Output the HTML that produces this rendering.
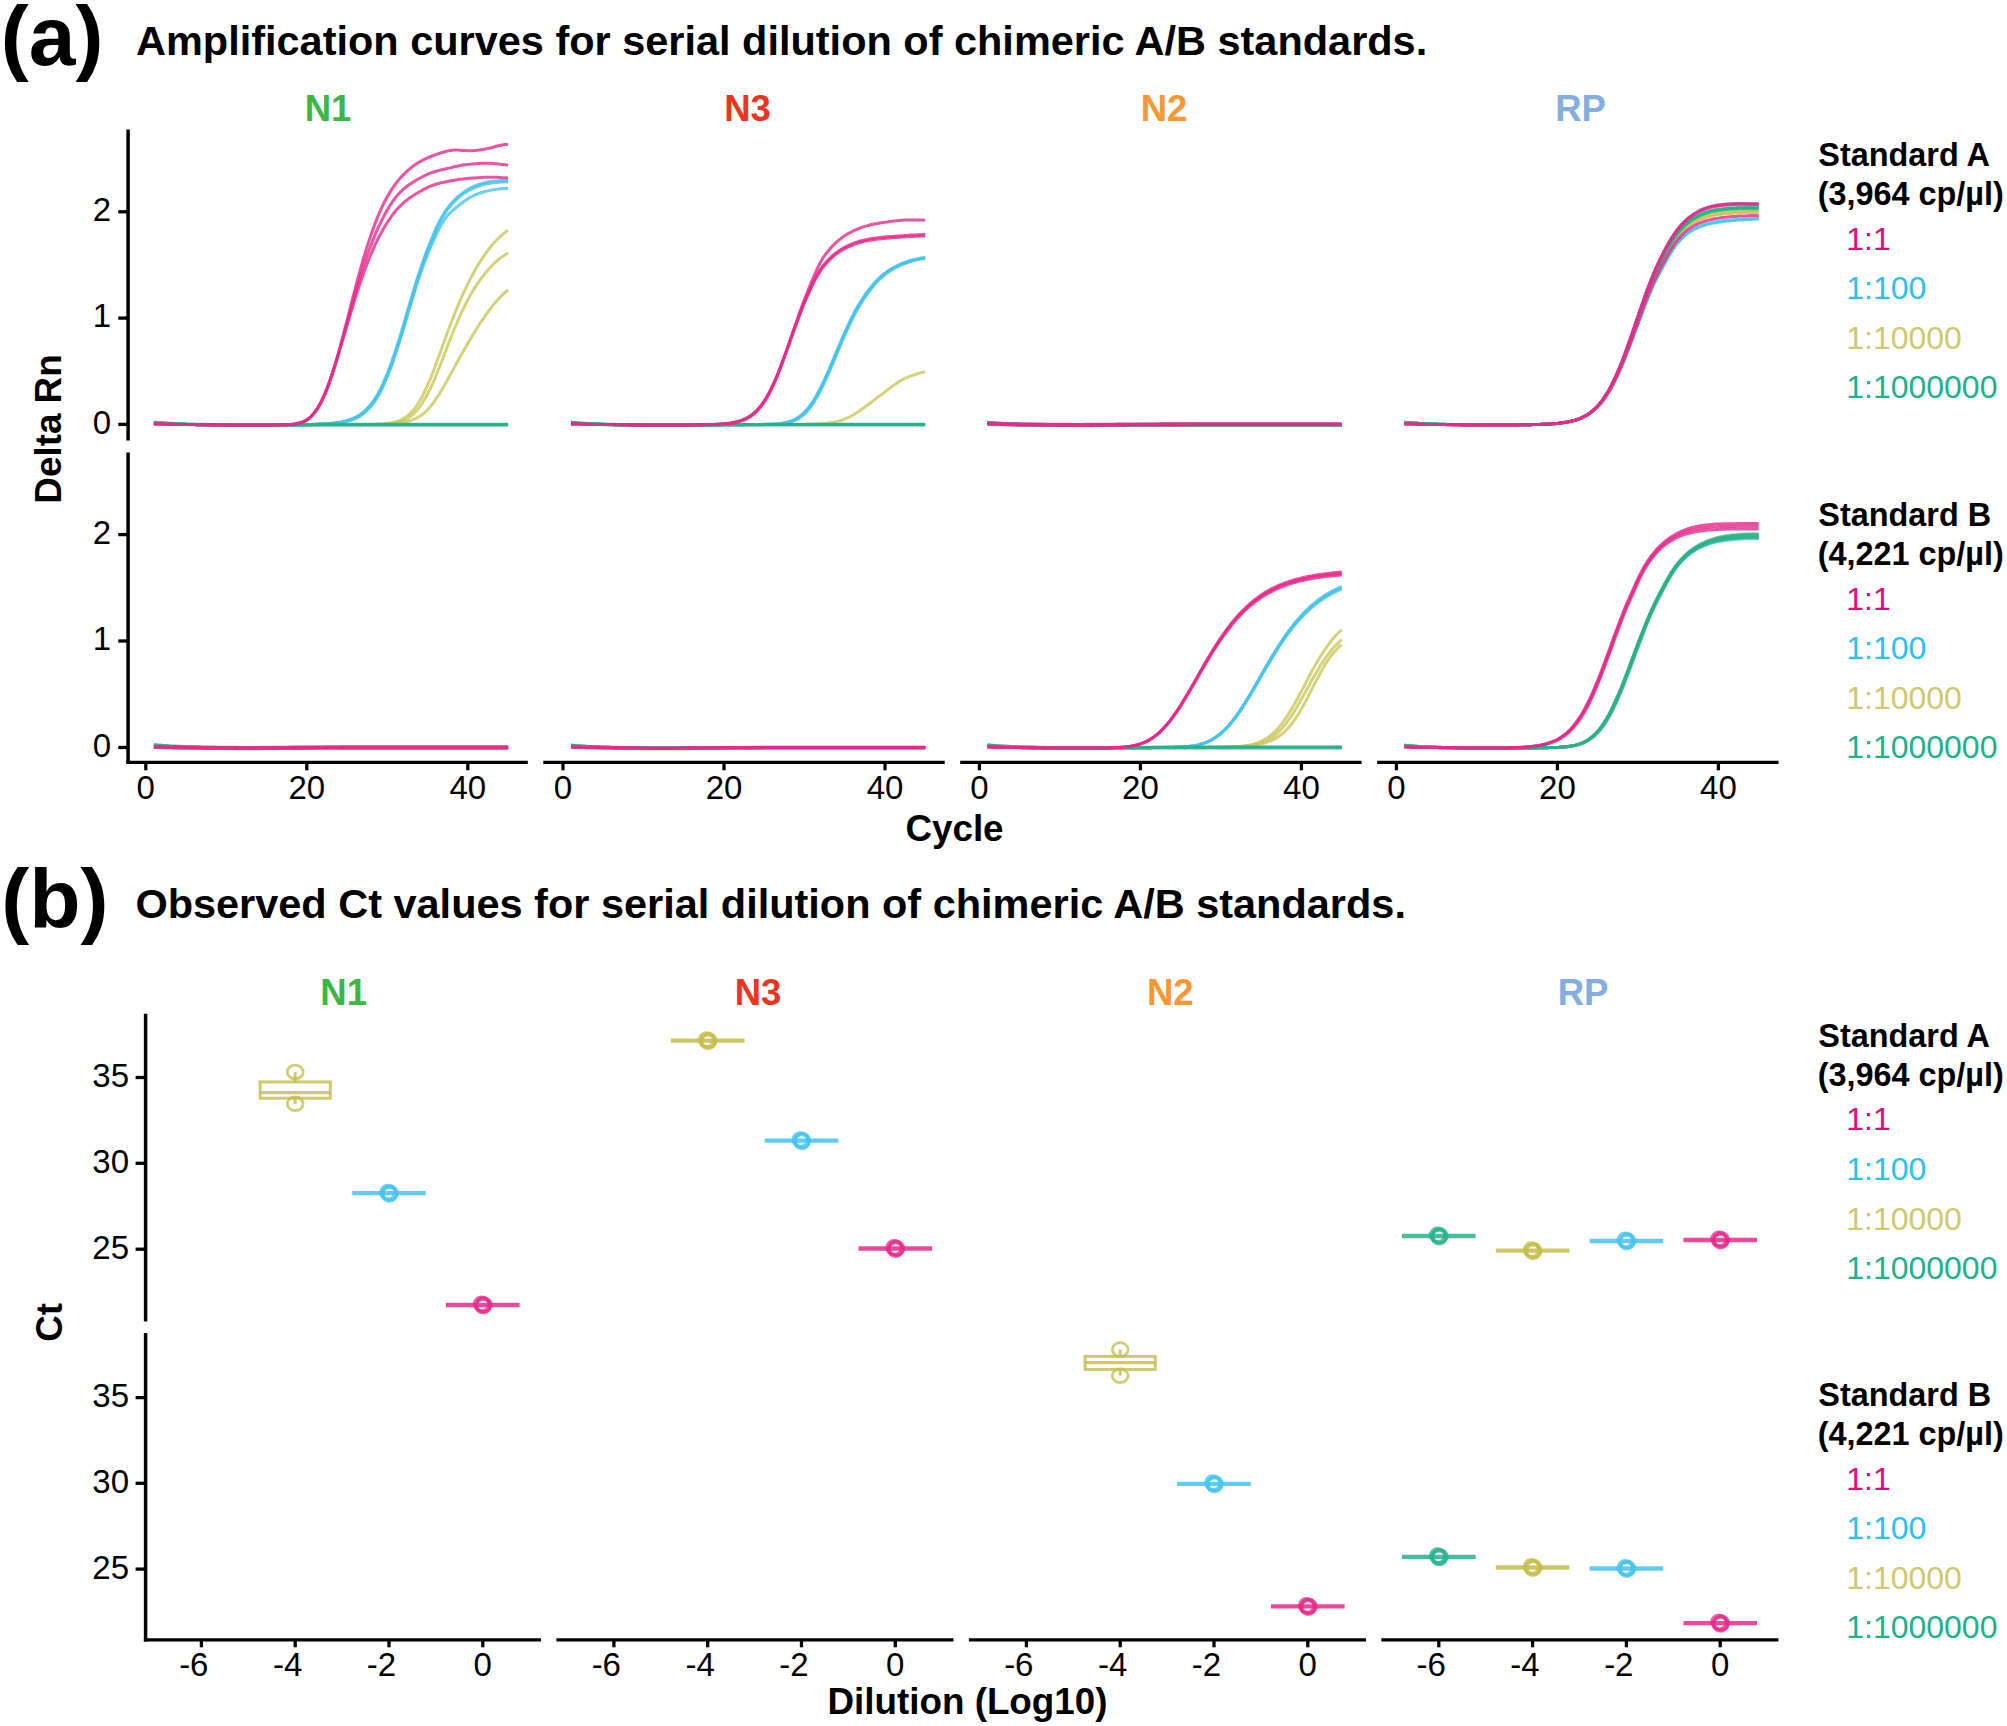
<!DOCTYPE html>
<html lang="en"><head><meta charset="utf-8"><title>Amplification curves and Ct values for chimeric A/B standards</title>
<style>html,body{margin:0;padding:0;background:#fff}svg{display:block}</style></head>
<body>
<svg width="2007" height="1726" viewBox="0 0 2007 1726" font-family='"Liberation Sans", Arial, Helvetica, sans-serif'>
<rect width="2007" height="1726" fill="#fff"/>
<text x="0.7" y="64.8" font-size="84" font-weight="bold" fill="#000" text-anchor="start">(a)</text>
<text x="136.0" y="54.5" font-size="41.47" font-weight="bold" fill="#000" text-anchor="start">Amplification curves for serial dilution of chimeric A/B standards.</text>
<text x="1.3" y="927.7" font-size="84" font-weight="bold" fill="#000" text-anchor="start">(b)</text>
<text x="135.4" y="917.9" font-size="41.47" font-weight="bold" fill="#000" text-anchor="start">Observed Ct values for serial dilution of chimeric A/B standards.</text>
<text x="328.0" y="120.7" font-size="36.5" font-weight="bold" fill="#3DB648" text-anchor="middle">N1</text>
<text x="747.6" y="120.7" font-size="36.5" font-weight="bold" fill="#EE3420" text-anchor="middle">N3</text>
<text x="1164.0" y="120.7" font-size="36.5" font-weight="bold" fill="#F89736" text-anchor="middle">N2</text>
<text x="1580.6" y="120.7" font-size="36.5" font-weight="bold" fill="#83AEDF" text-anchor="middle">RP</text>
<line x1="128.1" y1="129.5" x2="128.1" y2="440.6" stroke="#000" stroke-width="3.5"/>
<line x1="118.3" y1="424.4" x2="128.1" y2="424.4" stroke="#000" stroke-width="3.3"/>
<text x="111.0" y="433.6" font-size="33" font-weight="normal" fill="#000" text-anchor="end">0</text>
<line x1="118.3" y1="318.1" x2="128.1" y2="318.1" stroke="#000" stroke-width="3.3"/>
<text x="111.0" y="327.3" font-size="33" font-weight="normal" fill="#000" text-anchor="end">1</text>
<line x1="118.3" y1="211.8" x2="128.1" y2="211.8" stroke="#000" stroke-width="3.3"/>
<text x="111.0" y="221.0" font-size="33" font-weight="normal" fill="#000" text-anchor="end">2</text>
<line x1="128.1" y1="452.4" x2="128.1" y2="763.2" stroke="#000" stroke-width="3.5"/>
<line x1="118.3" y1="747.5" x2="128.1" y2="747.5" stroke="#000" stroke-width="3.3"/>
<text x="111.0" y="756.7" font-size="33" font-weight="normal" fill="#000" text-anchor="end">0</text>
<line x1="118.3" y1="641.0" x2="128.1" y2="641.0" stroke="#000" stroke-width="3.3"/>
<text x="111.0" y="650.2" font-size="33" font-weight="normal" fill="#000" text-anchor="end">1</text>
<line x1="118.3" y1="534.6" x2="128.1" y2="534.6" stroke="#000" stroke-width="3.3"/>
<text x="111.0" y="543.8" font-size="33" font-weight="normal" fill="#000" text-anchor="end">2</text>
<line x1="126.4" y1="762.3" x2="527.8" y2="762.3" stroke="#000" stroke-width="3.3"/>
<line x1="145.8" y1="762.3" x2="145.8" y2="770.3" stroke="#000" stroke-width="3.3"/>
<text x="145.8" y="799.0" font-size="33" font-weight="normal" fill="#000" text-anchor="middle">0</text>
<line x1="306.8" y1="762.3" x2="306.8" y2="770.3" stroke="#000" stroke-width="3.3"/>
<text x="306.8" y="799.0" font-size="33" font-weight="normal" fill="#000" text-anchor="middle">20</text>
<line x1="467.8" y1="762.3" x2="467.8" y2="770.3" stroke="#000" stroke-width="3.3"/>
<text x="467.8" y="799.0" font-size="33" font-weight="normal" fill="#000" text-anchor="middle">40</text>
<line x1="543.3" y1="762.3" x2="944.7" y2="762.3" stroke="#000" stroke-width="3.3"/>
<line x1="563.0" y1="762.3" x2="563.0" y2="770.3" stroke="#000" stroke-width="3.3"/>
<text x="563.0" y="799.0" font-size="33" font-weight="normal" fill="#000" text-anchor="middle">0</text>
<line x1="724.0" y1="762.3" x2="724.0" y2="770.3" stroke="#000" stroke-width="3.3"/>
<text x="724.0" y="799.0" font-size="33" font-weight="normal" fill="#000" text-anchor="middle">20</text>
<line x1="885.0" y1="762.3" x2="885.0" y2="770.3" stroke="#000" stroke-width="3.3"/>
<text x="885.0" y="799.0" font-size="33" font-weight="normal" fill="#000" text-anchor="middle">40</text>
<line x1="960.2" y1="762.3" x2="1361.6" y2="762.3" stroke="#000" stroke-width="3.3"/>
<line x1="979.4" y1="762.3" x2="979.4" y2="770.3" stroke="#000" stroke-width="3.3"/>
<text x="979.4" y="799.0" font-size="33" font-weight="normal" fill="#000" text-anchor="middle">0</text>
<line x1="1140.4" y1="762.3" x2="1140.4" y2="770.3" stroke="#000" stroke-width="3.3"/>
<text x="1140.4" y="799.0" font-size="33" font-weight="normal" fill="#000" text-anchor="middle">20</text>
<line x1="1301.4" y1="762.3" x2="1301.4" y2="770.3" stroke="#000" stroke-width="3.3"/>
<text x="1301.4" y="799.0" font-size="33" font-weight="normal" fill="#000" text-anchor="middle">40</text>
<line x1="1377.1" y1="762.3" x2="1778.5" y2="762.3" stroke="#000" stroke-width="3.3"/>
<line x1="1396.4" y1="762.3" x2="1396.4" y2="770.3" stroke="#000" stroke-width="3.3"/>
<text x="1396.4" y="799.0" font-size="33" font-weight="normal" fill="#000" text-anchor="middle">0</text>
<line x1="1557.4" y1="762.3" x2="1557.4" y2="770.3" stroke="#000" stroke-width="3.3"/>
<text x="1557.4" y="799.0" font-size="33" font-weight="normal" fill="#000" text-anchor="middle">20</text>
<line x1="1718.4" y1="762.3" x2="1718.4" y2="770.3" stroke="#000" stroke-width="3.3"/>
<text x="1718.4" y="799.0" font-size="33" font-weight="normal" fill="#000" text-anchor="middle">40</text>
<text x="954.5" y="840.6" font-size="36.8" font-weight="bold" fill="#000" text-anchor="middle">Cycle</text>
<text transform="translate(61.3,429) rotate(-90)" font-size="36.8" font-weight="bold" text-anchor="middle">Delta Rn</text>
<path d="M153.9,423.2 L156.2,423.4 L158.6,423.5 L161.0,423.6 L163.4,423.7 L165.7,423.8 L168.1,423.9 L170.5,423.9 L172.9,424.0 L175.2,424.1 L177.6,424.2 L180.0,424.2 L182.4,424.3 L184.8,424.3 L187.1,424.4 L189.5,424.4 L191.9,424.5 L194.3,424.5 L196.6,424.6 L199.0,424.6 L201.4,424.6 L203.8,424.7 L206.1,424.7 L208.5,424.8 L210.9,424.8 L213.3,424.8 L215.7,424.8 L218.0,424.9 L220.4,424.9 L222.8,424.9 L225.2,424.9 L227.5,424.9 L229.9,425.0 L232.3,425.0 L234.7,425.0 L237.1,425.0 L239.4,425.0 L241.8,425.0 L244.2,425.0 L246.6,425.0 L248.9,425.0 L251.3,425.0 L253.7,425.0 L256.1,425.0 L258.4,425.0 L260.8,425.0 L263.2,425.0 L265.6,424.9 L268.0,424.9 L270.3,424.9 L272.7,424.9 L275.1,424.9 L277.5,424.9 L279.8,424.8 L282.2,424.8 L284.6,424.8 L287.0,424.8 L289.3,424.7 L291.7,424.7 L294.1,424.7 L296.5,424.6 L298.9,424.6 L301.2,424.6 L303.6,424.5 L306.0,424.5 L308.4,424.4 L310.7,424.4 L313.1,424.3 L315.5,424.2 L317.9,424.1 L320.3,424.0 L322.6,423.9 L325.0,423.8 L327.4,423.6 L329.8,423.5 L332.1,423.2 L334.5,423.0 L336.9,422.7 L339.3,422.3 L341.6,421.9 L344.0,421.3 L346.4,420.7 L348.8,420.0 L351.2,419.2 L353.5,418.2 L355.9,417.0 L358.3,415.7 L360.7,414.1 L363.0,412.3 L365.4,410.2 L367.8,407.8 L370.2,405.1 L372.6,402.0 L374.9,398.6 L377.3,394.7 L379.7,390.4 L382.1,385.6 L384.4,380.4 L386.8,374.7 L389.2,368.6 L391.6,362.1 L393.9,355.2 L396.3,347.9 L398.7,340.4 L401.1,332.6 L403.5,324.7 L405.8,316.6 L408.2,308.5 L410.6,300.4 L413.0,292.4 L415.3,284.6 L417.7,276.9 L420.1,269.6 L422.5,262.7 L424.8,256.1 L427.2,249.9 L429.6,243.9 L432.0,238.0 L434.4,232.3 L436.7,226.9 L439.1,221.9 L441.5,217.4 L443.9,213.4 L446.2,209.8 L448.6,206.6 L451.0,203.7 L453.4,201.0 L455.8,198.6 L458.1,196.4 L460.5,194.5 L462.9,192.7 L465.3,191.1 L467.6,189.6 L470.0,188.2 L472.4,187.0 L474.8,186.0 L477.1,185.0 L479.5,184.2 L481.9,183.4 L484.3,182.8 L486.7,182.3 L489.0,181.8 L491.4,181.4 L493.8,181.1 L496.2,180.9 L498.5,180.7 L500.9,180.5 L503.3,180.4 L505.7,180.3 L508.1,180.2" fill="none" stroke="#45C3EE" stroke-opacity="0.8" stroke-width="3.0" stroke-linejoin="round"/>
<path d="M153.9,423.2 L156.2,423.4 L158.6,423.5 L161.0,423.6 L163.4,423.7 L165.7,423.8 L168.1,423.9 L170.5,423.9 L172.9,424.0 L175.2,424.1 L177.6,424.2 L180.0,424.2 L182.4,424.3 L184.8,424.3 L187.1,424.4 L189.5,424.4 L191.9,424.5 L194.3,424.5 L196.6,424.6 L199.0,424.6 L201.4,424.6 L203.8,424.7 L206.1,424.7 L208.5,424.8 L210.9,424.8 L213.3,424.8 L215.7,424.8 L218.0,424.9 L220.4,424.9 L222.8,424.9 L225.2,424.9 L227.5,424.9 L229.9,425.0 L232.3,425.0 L234.7,425.0 L237.1,425.0 L239.4,425.0 L241.8,425.0 L244.2,425.0 L246.6,425.0 L248.9,425.0 L251.3,425.0 L253.7,425.0 L256.1,425.0 L258.4,425.0 L260.8,425.0 L263.2,425.0 L265.6,424.9 L268.0,424.9 L270.3,424.9 L272.7,424.9 L275.1,424.9 L277.5,424.8 L279.8,424.8 L282.2,424.8 L284.6,424.8 L287.0,424.8 L289.3,424.7 L291.7,424.7 L294.1,424.7 L296.5,424.6 L298.9,424.6 L301.2,424.6 L303.6,424.5 L306.0,424.5 L308.4,424.4 L310.7,424.4 L313.1,424.3 L315.5,424.2 L317.9,424.2 L320.3,424.1 L322.6,424.0 L325.0,423.8 L327.4,423.7 L329.8,423.5 L332.1,423.3 L334.5,423.0 L336.9,422.7 L339.3,422.4 L341.6,422.0 L344.0,421.5 L346.4,420.9 L348.8,420.2 L351.2,419.4 L353.5,418.5 L355.9,417.4 L358.3,416.1 L360.7,414.6 L363.0,412.9 L365.4,410.9 L367.8,408.7 L370.2,406.1 L372.6,403.1 L374.9,399.8 L377.3,396.1 L379.7,391.9 L382.1,387.3 L384.4,382.2 L386.8,376.7 L389.2,370.8 L391.6,364.4 L393.9,357.6 L396.3,350.4 L398.7,343.0 L401.1,335.2 L403.5,327.3 L405.8,319.2 L408.2,311.1 L410.6,303.0 L413.0,294.9 L415.3,287.0 L417.7,279.3 L420.1,271.9 L422.5,264.9 L424.8,258.2 L427.2,251.9 L429.6,245.8 L432.0,239.9 L434.4,234.2 L436.7,228.7 L439.1,223.6 L441.5,219.1 L443.9,215.0 L446.2,211.4 L448.6,208.2 L451.0,205.2 L453.4,202.6 L455.8,200.2 L458.1,198.0 L460.5,196.1 L462.9,194.3 L465.3,192.6 L467.6,191.2 L470.0,189.8 L472.4,188.6 L474.8,187.6 L477.1,186.6 L479.5,185.8 L481.9,185.0 L484.3,184.4 L486.7,183.9 L489.0,183.4 L491.4,183.0 L493.8,182.7 L496.2,182.5 L498.5,182.3 L500.9,182.1 L503.3,182.0 L505.7,181.9 L508.1,181.8" fill="none" stroke="#45C3EE" stroke-opacity="0.8" stroke-width="3.0" stroke-linejoin="round"/>
<path d="M153.9,423.2 L156.2,423.4 L158.6,423.5 L161.0,423.6 L163.4,423.7 L165.7,423.8 L168.1,423.9 L170.5,423.9 L172.9,424.0 L175.2,424.1 L177.6,424.2 L180.0,424.2 L182.4,424.3 L184.8,424.3 L187.1,424.4 L189.5,424.4 L191.9,424.5 L194.3,424.5 L196.6,424.6 L199.0,424.6 L201.4,424.6 L203.8,424.7 L206.1,424.7 L208.5,424.8 L210.9,424.8 L213.3,424.8 L215.7,424.8 L218.0,424.9 L220.4,424.9 L222.8,424.9 L225.2,424.9 L227.5,424.9 L229.9,425.0 L232.3,425.0 L234.7,425.0 L237.1,425.0 L239.4,425.0 L241.8,425.0 L244.2,425.0 L246.6,425.0 L248.9,425.0 L251.3,425.0 L253.7,425.0 L256.1,425.0 L258.4,425.0 L260.8,425.0 L263.2,425.0 L265.6,424.9 L268.0,424.9 L270.3,424.9 L272.7,424.9 L275.1,424.9 L277.5,424.9 L279.8,424.8 L282.2,424.8 L284.6,424.8 L287.0,424.8 L289.3,424.7 L291.7,424.7 L294.1,424.7 L296.5,424.7 L298.9,424.6 L301.2,424.6 L303.6,424.6 L306.0,424.5 L308.4,424.5 L310.7,424.5 L313.1,424.4 L315.5,424.4 L317.9,424.3 L320.3,424.2 L322.6,424.1 L325.0,424.0 L327.4,423.9 L329.8,423.8 L332.1,423.6 L334.5,423.4 L336.9,423.1 L339.3,422.8 L341.6,422.5 L344.0,422.1 L346.4,421.6 L348.8,420.9 L351.2,420.2 L353.5,419.3 L355.9,418.3 L358.3,417.1 L360.7,415.7 L363.0,414.0 L365.4,412.1 L367.8,409.9 L370.2,407.3 L372.6,404.4 L374.9,401.1 L377.3,397.3 L379.7,393.2 L382.1,388.5 L384.4,383.5 L386.8,377.9 L389.2,371.9 L391.6,365.5 L393.9,358.7 L396.3,351.6 L398.7,344.2 L401.1,336.5 L403.5,328.7 L405.8,320.8 L408.2,312.8 L410.6,304.9 L413.0,297.1 L415.3,289.4 L417.7,282.0 L420.1,274.8 L422.5,268.0 L424.8,261.6 L427.2,255.5 L429.6,249.7 L432.0,244.2 L434.4,238.9 L436.7,233.7 L439.1,228.9 L441.5,224.4 L443.9,220.5 L446.2,217.2 L448.6,214.3 L451.0,212.0 L453.4,209.8 L455.8,207.8 L458.1,205.9 L460.5,204.0 L462.9,202.2 L465.3,200.5 L467.6,198.9 L470.0,197.5 L472.4,196.2 L474.8,195.1 L477.1,194.1 L479.5,193.2 L481.9,192.5 L484.3,191.8 L486.7,191.1 L489.0,190.6 L491.4,190.1 L493.8,189.7 L496.2,189.4 L498.5,189.1 L500.9,188.8 L503.3,188.6 L505.7,188.4 L508.1,188.3" fill="none" stroke="#45C3EE" stroke-opacity="0.8" stroke-width="3.0" stroke-linejoin="round"/>
<path d="M153.9,423.2 L156.2,423.4 L158.6,423.5 L161.0,423.6 L163.4,423.7 L165.7,423.8 L168.1,423.9 L170.5,423.9 L172.9,424.0 L175.2,424.1 L177.6,424.2 L180.0,424.2 L182.4,424.3 L184.8,424.3 L187.1,424.4 L189.5,424.4 L191.9,424.5 L194.3,424.5 L196.6,424.6 L199.0,424.6 L201.4,424.6 L203.8,424.7 L206.1,424.7 L208.5,424.8 L210.9,424.8 L213.3,424.8 L215.7,424.8 L218.0,424.9 L220.4,424.9 L222.8,424.9 L225.2,424.9 L227.5,424.9 L229.9,425.0 L232.3,425.0 L234.7,425.0 L237.1,425.0 L239.4,425.0 L241.8,425.0 L244.2,425.0 L246.6,425.0 L248.9,425.0 L251.3,425.0 L253.7,425.0 L256.1,425.0 L258.4,425.0 L260.8,425.0 L263.2,425.0 L265.6,424.9 L268.0,424.9 L270.3,424.9 L272.7,424.9 L275.1,424.9 L277.5,424.9 L279.8,424.8 L282.2,424.8 L284.6,424.8 L287.0,424.8 L289.3,424.8 L291.7,424.8 L294.1,424.7 L296.5,424.7 L298.9,424.7 L301.2,424.7 L303.6,424.7 L306.0,424.6 L308.4,424.6 L310.7,424.6 L313.1,424.6 L315.5,424.6 L317.9,424.6 L320.3,424.5 L322.6,424.5 L325.0,424.5 L327.4,424.5 L329.8,424.5 L332.1,424.5 L334.5,424.5 L336.9,424.5 L339.3,424.5 L341.6,424.5 L344.0,424.5 L346.4,424.4 L348.8,424.4 L351.2,424.4 L353.5,424.4 L355.9,424.4 L358.3,424.4 L360.7,424.4 L363.0,424.4 L365.4,424.4 L367.8,424.4 L370.2,424.4 L372.6,424.4 L374.9,424.3 L377.3,424.3 L379.7,424.1 L382.1,424.0 L384.4,423.8 L386.8,423.5 L389.2,423.1 L391.6,422.7 L393.9,422.2 L396.3,421.6 L398.7,420.8 L401.1,419.8 L403.5,418.6 L405.8,417.1 L408.2,415.3 L410.6,413.1 L413.0,410.5 L415.3,407.6 L417.7,404.1 L420.1,400.3 L422.5,396.0 L424.8,391.2 L427.2,386.0 L429.6,380.5 L432.0,374.6 L434.4,368.5 L436.7,362.1 L439.1,355.6 L441.5,349.0 L443.9,342.5 L446.2,335.9 L448.6,329.5 L451.0,323.1 L453.4,317.0 L455.8,311.0 L458.1,305.3 L460.5,299.7 L462.9,294.3 L465.3,289.2 L467.6,284.2 L470.0,279.5 L472.4,275.0 L474.8,270.6 L477.1,266.5 L479.5,262.6 L481.9,258.9 L484.3,255.3 L486.7,252.0 L489.0,248.8 L491.4,245.9 L493.8,243.1 L496.2,240.5 L498.5,238.1 L500.9,235.9 L503.3,233.8 L505.7,231.9 L508.1,230.1" fill="none" stroke="#CBC759" stroke-opacity="0.8" stroke-width="3.0" stroke-linejoin="round"/>
<path d="M153.9,423.2 L156.2,423.4 L158.6,423.5 L161.0,423.6 L163.4,423.7 L165.7,423.8 L168.1,423.9 L170.5,423.9 L172.9,424.0 L175.2,424.1 L177.6,424.2 L180.0,424.2 L182.4,424.3 L184.8,424.3 L187.1,424.4 L189.5,424.4 L191.9,424.5 L194.3,424.5 L196.6,424.6 L199.0,424.6 L201.4,424.6 L203.8,424.7 L206.1,424.7 L208.5,424.8 L210.9,424.8 L213.3,424.8 L215.7,424.8 L218.0,424.9 L220.4,424.9 L222.8,424.9 L225.2,424.9 L227.5,424.9 L229.9,425.0 L232.3,425.0 L234.7,425.0 L237.1,425.0 L239.4,425.0 L241.8,425.0 L244.2,425.0 L246.6,425.0 L248.9,425.0 L251.3,425.0 L253.7,425.0 L256.1,425.0 L258.4,425.0 L260.8,425.0 L263.2,425.0 L265.6,424.9 L268.0,424.9 L270.3,424.9 L272.7,424.9 L275.1,424.9 L277.5,424.9 L279.8,424.8 L282.2,424.8 L284.6,424.8 L287.0,424.8 L289.3,424.8 L291.7,424.8 L294.1,424.7 L296.5,424.7 L298.9,424.7 L301.2,424.7 L303.6,424.7 L306.0,424.6 L308.4,424.6 L310.7,424.6 L313.1,424.6 L315.5,424.6 L317.9,424.6 L320.3,424.5 L322.6,424.5 L325.0,424.5 L327.4,424.5 L329.8,424.5 L332.1,424.5 L334.5,424.5 L336.9,424.5 L339.3,424.5 L341.6,424.5 L344.0,424.5 L346.4,424.4 L348.8,424.4 L351.2,424.4 L353.5,424.4 L355.9,424.4 L358.3,424.4 L360.7,424.4 L363.0,424.4 L365.4,424.4 L367.8,424.4 L370.2,424.4 L372.6,424.4 L374.9,424.4 L377.3,424.3 L379.7,424.3 L382.1,424.2 L384.4,424.1 L386.8,423.9 L389.2,423.7 L391.6,423.3 L393.9,422.9 L396.3,422.4 L398.7,421.9 L401.1,421.2 L403.5,420.3 L405.8,419.2 L408.2,417.9 L410.6,416.2 L413.0,414.3 L415.3,412.0 L417.7,409.4 L420.1,406.3 L422.5,402.8 L424.8,399.0 L427.2,394.7 L429.6,390.0 L432.0,385.0 L434.4,379.6 L436.7,373.9 L439.1,368.0 L441.5,362.0 L443.9,355.8 L446.2,349.6 L448.6,343.4 L451.0,337.3 L453.4,331.3 L455.8,325.5 L458.1,320.0 L460.5,314.6 L462.9,309.6 L465.3,304.7 L467.6,300.2 L470.0,295.9 L472.4,291.8 L474.8,287.9 L477.1,284.3 L479.5,280.8 L481.9,277.5 L484.3,274.4 L486.7,271.5 L489.0,268.7 L491.4,266.2 L493.8,263.8 L496.2,261.5 L498.5,259.5 L500.9,257.6 L503.3,255.9 L505.7,254.4 L508.1,253.0" fill="none" stroke="#CBC759" stroke-opacity="0.8" stroke-width="3.0" stroke-linejoin="round"/>
<path d="M153.9,423.2 L156.2,423.4 L158.6,423.5 L161.0,423.6 L163.4,423.7 L165.7,423.8 L168.1,423.9 L170.5,423.9 L172.9,424.0 L175.2,424.1 L177.6,424.2 L180.0,424.2 L182.4,424.3 L184.8,424.3 L187.1,424.4 L189.5,424.4 L191.9,424.5 L194.3,424.5 L196.6,424.6 L199.0,424.6 L201.4,424.6 L203.8,424.7 L206.1,424.7 L208.5,424.8 L210.9,424.8 L213.3,424.8 L215.7,424.8 L218.0,424.9 L220.4,424.9 L222.8,424.9 L225.2,424.9 L227.5,424.9 L229.9,425.0 L232.3,425.0 L234.7,425.0 L237.1,425.0 L239.4,425.0 L241.8,425.0 L244.2,425.0 L246.6,425.0 L248.9,425.0 L251.3,425.0 L253.7,425.0 L256.1,425.0 L258.4,425.0 L260.8,425.0 L263.2,425.0 L265.6,424.9 L268.0,424.9 L270.3,424.9 L272.7,424.9 L275.1,424.9 L277.5,424.9 L279.8,424.8 L282.2,424.8 L284.6,424.8 L287.0,424.8 L289.3,424.8 L291.7,424.8 L294.1,424.7 L296.5,424.7 L298.9,424.7 L301.2,424.7 L303.6,424.7 L306.0,424.6 L308.4,424.6 L310.7,424.6 L313.1,424.6 L315.5,424.6 L317.9,424.6 L320.3,424.5 L322.6,424.5 L325.0,424.5 L327.4,424.5 L329.8,424.5 L332.1,424.5 L334.5,424.5 L336.9,424.5 L339.3,424.5 L341.6,424.5 L344.0,424.5 L346.4,424.4 L348.8,424.4 L351.2,424.4 L353.5,424.4 L355.9,424.4 L358.3,424.4 L360.7,424.4 L363.0,424.4 L365.4,424.4 L367.8,424.4 L370.2,424.4 L372.6,424.4 L374.9,424.4 L377.3,424.4 L379.7,424.4 L382.1,424.4 L384.4,424.3 L386.8,424.3 L389.2,424.2 L391.6,424.1 L393.9,423.9 L396.3,423.5 L398.7,423.2 L401.1,422.8 L403.5,422.3 L405.8,421.8 L408.2,421.2 L410.6,420.5 L413.0,419.7 L415.3,418.7 L417.7,417.6 L420.1,416.1 L422.5,414.5 L424.8,412.5 L427.2,410.2 L429.6,407.6 L432.0,404.6 L434.4,401.4 L436.7,397.9 L439.1,394.2 L441.5,390.3 L443.9,386.3 L446.2,382.1 L448.6,377.8 L451.0,373.5 L453.4,369.2 L455.8,364.8 L458.1,360.5 L460.5,356.2 L462.9,351.9 L465.3,347.8 L467.6,343.7 L470.0,339.7 L472.4,335.7 L474.8,331.8 L477.1,328.0 L479.5,324.3 L481.9,320.7 L484.3,317.2 L486.7,313.7 L489.0,310.5 L491.4,307.3 L493.8,304.4 L496.2,301.6 L498.5,298.9 L500.9,296.5 L503.3,294.1 L505.7,292.0 L508.1,289.9" fill="none" stroke="#CBC759" stroke-opacity="0.8" stroke-width="3.0" stroke-linejoin="round"/>
<path d="M153.9,422.4 L156.5,422.7 L159.2,422.9 L161.9,423.1 L164.6,423.3 L167.3,423.5 L170.0,423.6 L172.6,423.8 L175.3,423.9 L178.0,424.0 L180.7,424.1 L183.4,424.2 L186.1,424.3 L188.7,424.4 L191.4,424.5 L194.1,424.6 L196.8,424.7 L199.5,424.7 L202.2,424.8 L204.8,424.8 L207.5,424.9 L210.2,424.9 L212.9,425.0 L215.6,425.0 L218.2,425.1 L220.9,425.1 L223.6,425.1 L226.3,425.1 L229.0,425.2 L231.7,425.2 L234.4,425.2 L237.0,425.2 L239.7,425.2 L242.4,425.2 L245.1,425.2 L247.8,425.2 L250.5,425.2 L253.1,425.2 L255.8,425.2 L258.5,425.2 L261.2,425.2 L263.9,425.2 L266.6,425.2 L269.2,425.2 L271.9,425.2 L274.6,425.1 L277.3,425.1 L280.0,425.1 L282.7,425.1 L285.3,425.1 L288.0,425.0 L290.7,425.0 L293.4,425.0 L296.1,425.0 L298.8,425.0 L301.4,424.9 L304.1,424.9 L306.8,424.9 L309.5,424.9 L312.2,424.9 L314.9,424.8 L317.5,424.8 L320.2,424.8 L322.9,424.8 L325.6,424.8 L328.3,424.8 L331.0,424.8 L333.6,424.7 L336.3,424.7 L339.0,424.7 L341.7,424.7 L344.4,424.7 L347.1,424.7 L349.7,424.7 L352.4,424.7 L355.1,424.7 L357.8,424.7 L360.5,424.7 L363.2,424.7 L365.8,424.7 L368.5,424.7 L371.2,424.7 L373.9,424.7 L376.6,424.7 L379.2,424.7 L381.9,424.7 L384.6,424.7 L387.3,424.7 L390.0,424.7 L392.7,424.7 L395.4,424.7 L398.0,424.7 L400.7,424.7 L403.4,424.7 L406.1,424.7 L408.8,424.7 L411.5,424.7 L414.1,424.7 L416.8,424.7 L419.5,424.7 L422.2,424.7 L424.9,424.7 L427.6,424.7 L430.2,424.7 L432.9,424.7 L435.6,424.7 L438.3,424.7 L441.0,424.7 L443.7,424.7 L446.3,424.7 L449.0,424.7 L451.7,424.7 L454.4,424.7 L457.1,424.7 L459.8,424.7 L462.4,424.7 L465.1,424.7 L467.8,424.7 L470.5,424.7 L473.2,424.7 L475.9,424.7 L478.5,424.7 L481.2,424.7 L483.9,424.7 L486.6,424.7 L489.3,424.7 L492.0,424.7 L494.6,424.7 L497.3,424.7 L500.0,424.7 L502.7,424.7 L505.4,424.7 L508.1,424.7" fill="none" stroke="#26B18B" stroke-opacity="0.8" stroke-width="3.0" stroke-linejoin="round"/>
<path d="M153.9,422.7 L156.5,422.9 L159.2,423.2 L161.9,423.4 L164.6,423.6 L167.3,423.7 L170.0,423.9 L172.6,424.0 L175.3,424.2 L178.0,424.3 L180.7,424.4 L183.4,424.5 L186.1,424.6 L188.7,424.7 L191.4,424.8 L194.1,424.8 L196.8,424.9 L199.5,425.0 L202.2,425.0 L204.8,425.1 L207.5,425.1 L210.2,425.2 L212.9,425.2 L215.6,425.3 L218.2,425.3 L220.9,425.3 L223.6,425.4 L226.3,425.4 L229.0,425.4 L231.7,425.4 L234.4,425.5 L237.0,425.5 L239.7,425.5 L242.4,425.5 L245.1,425.5 L247.8,425.5 L250.5,425.5 L253.1,425.5 L255.8,425.5 L258.5,425.5 L261.2,425.5 L263.9,425.5 L266.6,425.5 L269.2,425.4 L271.9,425.4 L274.6,425.4 L277.3,425.4 L280.0,425.4 L282.7,425.3 L285.3,425.3 L288.0,425.3 L290.7,425.3 L293.4,425.3 L296.1,425.2 L298.8,425.2 L301.4,425.2 L304.1,425.2 L306.8,425.2 L309.5,425.1 L312.2,425.1 L314.9,425.1 L317.5,425.1 L320.2,425.1 L322.9,425.1 L325.6,425.0 L328.3,425.0 L331.0,425.0 L333.6,425.0 L336.3,425.0 L339.0,425.0 L341.7,425.0 L344.4,425.0 L347.1,425.0 L349.7,425.0 L352.4,425.0 L355.1,424.9 L357.8,424.9 L360.5,424.9 L363.2,424.9 L365.8,424.9 L368.5,424.9 L371.2,424.9 L373.9,424.9 L376.6,424.9 L379.2,424.9 L381.9,424.9 L384.6,424.9 L387.3,424.9 L390.0,424.9 L392.7,424.9 L395.4,424.9 L398.0,424.9 L400.7,424.9 L403.4,424.9 L406.1,424.9 L408.8,424.9 L411.5,424.9 L414.1,424.9 L416.8,424.9 L419.5,424.9 L422.2,424.9 L424.9,424.9 L427.6,424.9 L430.2,424.9 L432.9,424.9 L435.6,424.9 L438.3,424.9 L441.0,424.9 L443.7,424.9 L446.3,424.9 L449.0,424.9 L451.7,424.9 L454.4,424.9 L457.1,424.9 L459.8,424.9 L462.4,424.9 L465.1,424.9 L467.8,424.9 L470.5,424.9 L473.2,424.9 L475.9,424.9 L478.5,424.9 L481.2,424.9 L483.9,424.9 L486.6,424.9 L489.3,424.9 L492.0,424.9 L494.6,424.9 L497.3,424.9 L500.0,424.9 L502.7,424.9 L505.4,424.9 L508.1,424.9" fill="none" stroke="#26B18B" stroke-opacity="0.8" stroke-width="3.0" stroke-linejoin="round"/>
<path d="M153.9,421.9 L156.5,422.2 L159.2,422.4 L161.9,422.6 L164.6,422.8 L167.3,423.0 L170.0,423.2 L172.6,423.3 L175.3,423.4 L178.0,423.5 L180.7,423.7 L183.4,423.8 L186.1,423.9 L188.7,423.9 L191.4,424.0 L194.1,424.1 L196.8,424.2 L199.5,424.2 L202.2,424.3 L204.8,424.3 L207.5,424.4 L210.2,424.4 L212.9,424.5 L215.6,424.5 L218.2,424.6 L220.9,424.6 L223.6,424.6 L226.3,424.7 L229.0,424.7 L231.7,424.7 L234.4,424.7 L237.0,424.7 L239.7,424.7 L242.4,424.8 L245.1,424.8 L247.8,424.8 L250.5,424.8 L253.1,424.8 L255.8,424.8 L258.5,424.7 L261.2,424.7 L263.9,424.7 L266.6,424.7 L269.2,424.7 L271.9,424.7 L274.6,424.7 L277.3,424.6 L280.0,424.6 L282.7,424.6 L285.3,424.6 L288.0,424.6 L290.7,424.5 L293.4,424.5 L296.1,424.5 L298.8,424.5 L301.4,424.4 L304.1,424.4 L306.8,424.4 L309.5,424.4 L312.2,424.4 L314.9,424.4 L317.5,424.3 L320.2,424.3 L322.9,424.3 L325.6,424.3 L328.3,424.3 L331.0,424.3 L333.6,424.3 L336.3,424.3 L339.0,424.2 L341.7,424.2 L344.4,424.2 L347.1,424.2 L349.7,424.2 L352.4,424.2 L355.1,424.2 L357.8,424.2 L360.5,424.2 L363.2,424.2 L365.8,424.2 L368.5,424.2 L371.2,424.2 L373.9,424.2 L376.6,424.2 L379.2,424.2 L381.9,424.2 L384.6,424.2 L387.3,424.2 L390.0,424.2 L392.7,424.2 L395.4,424.2 L398.0,424.2 L400.7,424.2 L403.4,424.2 L406.1,424.2 L408.8,424.2 L411.5,424.2 L414.1,424.2 L416.8,424.2 L419.5,424.2 L422.2,424.2 L424.9,424.2 L427.6,424.2 L430.2,424.2 L432.9,424.2 L435.6,424.2 L438.3,424.2 L441.0,424.2 L443.7,424.2 L446.3,424.2 L449.0,424.2 L451.7,424.2 L454.4,424.2 L457.1,424.2 L459.8,424.2 L462.4,424.2 L465.1,424.2 L467.8,424.2 L470.5,424.2 L473.2,424.2 L475.9,424.2 L478.5,424.2 L481.2,424.2 L483.9,424.2 L486.6,424.2 L489.3,424.2 L492.0,424.2 L494.6,424.2 L497.3,424.2 L500.0,424.2 L502.7,424.2 L505.4,424.2 L508.1,424.2" fill="none" stroke="#26B18B" stroke-opacity="0.8" stroke-width="3.0" stroke-linejoin="round"/>
<path d="M153.9,423.9 L156.2,423.9 L158.6,424.0 L161.0,424.1 L163.4,424.1 L165.7,424.2 L168.1,424.2 L170.5,424.3 L172.9,424.3 L175.2,424.4 L177.6,424.4 L180.0,424.4 L182.4,424.5 L184.8,424.5 L187.1,424.5 L189.5,424.6 L191.9,424.6 L194.3,424.6 L196.6,424.7 L199.0,424.7 L201.4,424.7 L203.8,424.8 L206.1,424.8 L208.5,424.8 L210.9,424.8 L213.3,424.9 L215.7,424.9 L218.0,424.9 L220.4,424.9 L222.8,424.9 L225.2,425.0 L227.5,425.0 L229.9,425.0 L232.3,425.0 L234.7,425.0 L237.1,425.0 L239.4,425.0 L241.8,425.0 L244.2,425.0 L246.6,425.0 L248.9,425.0 L251.3,425.0 L253.7,425.0 L256.1,425.0 L258.4,425.0 L260.8,425.0 L263.2,425.0 L265.6,425.0 L268.0,424.9 L270.3,424.9 L272.7,424.9 L275.1,424.9 L277.5,424.8 L279.8,424.8 L282.2,424.7 L284.6,424.7 L287.0,424.5 L289.3,424.4 L291.7,424.2 L294.1,423.9 L296.5,423.5 L298.9,423.0 L301.2,422.3 L303.6,421.4 L306.0,420.2 L308.4,418.7 L310.7,416.8 L313.1,414.4 L315.5,411.5 L317.9,408.1 L320.3,404.1 L322.6,399.4 L325.0,394.1 L327.4,388.2 L329.8,381.6 L332.1,374.5 L334.5,366.8 L336.9,358.7 L339.3,350.1 L341.6,341.2 L344.0,332.1 L346.4,322.8 L348.8,313.5 L351.2,304.1 L353.5,294.9 L355.9,285.8 L358.3,276.9 L360.7,268.3 L363.0,260.0 L365.4,252.0 L367.8,244.4 L370.2,237.2 L372.6,230.4 L374.9,223.9 L377.3,217.9 L379.7,212.2 L382.1,206.9 L384.4,202.0 L386.8,197.5 L389.2,193.4 L391.6,189.6 L393.9,186.1 L396.3,182.9 L398.7,179.9 L401.1,177.1 L403.5,174.6 L405.8,172.3 L408.2,170.1 L410.6,168.1 L413.0,166.2 L415.3,164.5 L417.7,163.0 L420.1,161.6 L422.5,160.2 L424.8,159.1 L427.2,158.0 L429.6,157.0 L432.0,156.0 L434.4,155.1 L436.7,154.3 L439.1,153.5 L441.5,152.7 L443.9,152.0 L446.2,151.3 L448.6,150.8 L451.0,150.4 L453.4,150.1 L455.8,150.0 L458.1,150.0 L460.5,150.2 L462.9,150.4 L465.3,150.6 L467.6,150.8 L470.0,150.8 L472.4,150.7 L474.8,150.5 L477.1,150.3 L479.5,149.9 L481.9,149.6 L484.3,149.2 L486.7,148.8 L489.0,148.3 L491.4,147.7 L493.8,147.0 L496.2,146.3 L498.5,145.7 L500.9,145.2 L503.3,144.8 L505.7,144.6 L508.1,144.4" fill="none" stroke="#E7298A" stroke-opacity="0.8" stroke-width="3.0" stroke-linejoin="round"/>
<path d="M153.9,423.9 L156.2,423.9 L158.6,424.0 L161.0,424.1 L163.4,424.1 L165.7,424.2 L168.1,424.2 L170.5,424.3 L172.9,424.3 L175.2,424.4 L177.6,424.4 L180.0,424.4 L182.4,424.5 L184.8,424.5 L187.1,424.5 L189.5,424.6 L191.9,424.6 L194.3,424.6 L196.6,424.7 L199.0,424.7 L201.4,424.7 L203.8,424.8 L206.1,424.8 L208.5,424.8 L210.9,424.8 L213.3,424.9 L215.7,424.9 L218.0,424.9 L220.4,424.9 L222.8,424.9 L225.2,425.0 L227.5,425.0 L229.9,425.0 L232.3,425.0 L234.7,425.0 L237.1,425.0 L239.4,425.0 L241.8,425.0 L244.2,425.0 L246.6,425.0 L248.9,425.0 L251.3,425.0 L253.7,425.0 L256.1,425.0 L258.4,425.0 L260.8,425.0 L263.2,425.0 L265.6,425.0 L268.0,424.9 L270.3,424.9 L272.7,424.9 L275.1,424.9 L277.5,424.9 L279.8,424.8 L282.2,424.8 L284.6,424.7 L287.0,424.6 L289.3,424.5 L291.7,424.4 L294.1,424.1 L296.5,423.8 L298.9,423.3 L301.2,422.6 L303.6,421.6 L306.0,420.4 L308.4,418.9 L310.7,416.9 L313.1,414.4 L315.5,411.5 L317.9,407.9 L320.3,403.8 L322.6,399.1 L325.0,393.7 L327.4,387.8 L329.8,381.3 L332.1,374.3 L334.5,366.8 L336.9,359.0 L339.3,350.8 L341.6,342.4 L344.0,333.8 L346.4,325.2 L348.8,316.5 L351.2,308.0 L353.5,299.5 L355.9,291.2 L358.3,283.1 L360.7,275.3 L363.0,267.8 L365.4,260.6 L367.8,253.7 L370.2,247.2 L372.6,241.0 L374.9,235.2 L377.3,229.7 L379.7,224.6 L382.1,219.7 L384.4,215.1 L386.8,210.8 L389.2,206.7 L391.6,203.0 L393.9,199.6 L396.3,196.6 L398.7,193.9 L401.1,191.4 L403.5,189.2 L405.8,187.2 L408.2,185.4 L410.6,183.7 L413.0,182.2 L415.3,180.7 L417.7,179.3 L420.1,178.0 L422.5,176.7 L424.8,175.5 L427.2,174.4 L429.6,173.4 L432.0,172.5 L434.4,171.7 L436.7,171.0 L439.1,170.4 L441.5,169.8 L443.9,169.2 L446.2,168.7 L448.6,168.1 L451.0,167.6 L453.4,167.0 L455.8,166.5 L458.1,166.0 L460.5,165.5 L462.9,165.1 L465.3,164.7 L467.6,164.4 L470.0,164.2 L472.4,163.9 L474.8,163.7 L477.1,163.6 L479.5,163.4 L481.9,163.3 L484.3,163.2 L486.7,163.2 L489.0,163.2 L491.4,163.3 L493.8,163.5 L496.2,163.7 L498.5,164.0 L500.9,164.3 L503.3,164.5 L505.7,164.8 L508.1,165.0" fill="none" stroke="#E7298A" stroke-opacity="0.8" stroke-width="3.0" stroke-linejoin="round"/>
<path d="M153.9,423.9 L156.2,423.9 L158.6,424.0 L161.0,424.1 L163.4,424.1 L165.7,424.2 L168.1,424.2 L170.5,424.3 L172.9,424.3 L175.2,424.4 L177.6,424.4 L180.0,424.4 L182.4,424.5 L184.8,424.5 L187.1,424.5 L189.5,424.6 L191.9,424.6 L194.3,424.6 L196.6,424.7 L199.0,424.7 L201.4,424.7 L203.8,424.8 L206.1,424.8 L208.5,424.8 L210.9,424.8 L213.3,424.9 L215.7,424.9 L218.0,424.9 L220.4,424.9 L222.8,424.9 L225.2,425.0 L227.5,425.0 L229.9,425.0 L232.3,425.0 L234.7,425.0 L237.1,425.0 L239.4,425.0 L241.8,425.0 L244.2,425.0 L246.6,425.0 L248.9,425.0 L251.3,425.0 L253.7,425.0 L256.1,425.0 L258.4,425.0 L260.8,425.0 L263.2,425.0 L265.6,425.0 L268.0,424.9 L270.3,424.9 L272.7,424.9 L275.1,424.9 L277.5,424.9 L279.8,424.8 L282.2,424.8 L284.6,424.8 L287.0,424.7 L289.3,424.6 L291.7,424.5 L294.1,424.2 L296.5,423.9 L298.9,423.4 L301.2,422.8 L303.6,421.8 L306.0,420.6 L308.4,418.9 L310.7,416.8 L313.1,414.3 L315.5,411.2 L317.9,407.5 L320.3,403.3 L322.6,398.4 L325.0,393.1 L327.4,387.1 L329.8,380.7 L332.1,373.9 L334.5,366.7 L336.9,359.2 L339.3,351.4 L341.6,343.5 L344.0,335.5 L346.4,327.5 L348.8,319.5 L351.2,311.6 L353.5,303.8 L355.9,296.2 L358.3,288.8 L360.7,281.7 L363.0,274.9 L365.4,268.3 L367.8,262.1 L370.2,256.1 L372.6,250.5 L374.9,245.2 L377.3,240.2 L379.7,235.5 L382.1,231.2 L384.4,227.1 L386.8,223.3 L389.2,219.6 L391.6,216.2 L393.9,213.0 L396.3,210.1 L398.7,207.5 L401.1,205.1 L403.5,202.9 L405.8,200.9 L408.2,199.0 L410.6,197.3 L413.0,195.8 L415.3,194.3 L417.7,192.9 L420.1,191.5 L422.5,190.1 L424.8,188.8 L427.2,187.6 L429.6,186.5 L432.0,185.6 L434.4,184.7 L436.7,184.0 L439.1,183.4 L441.5,182.8 L443.9,182.2 L446.2,181.7 L448.6,181.2 L451.0,180.8 L453.4,180.4 L455.8,180.0 L458.1,179.6 L460.5,179.3 L462.9,179.1 L465.3,178.8 L467.6,178.5 L470.0,178.3 L472.4,178.1 L474.8,177.9 L477.1,177.7 L479.5,177.5 L481.9,177.4 L484.3,177.3 L486.7,177.2 L489.0,177.2 L491.4,177.2 L493.8,177.3 L496.2,177.3 L498.5,177.4 L500.9,177.6 L503.3,177.7 L505.7,177.8 L508.1,177.9" fill="none" stroke="#E7298A" stroke-opacity="0.8" stroke-width="3.0" stroke-linejoin="round"/>
<path d="M571.0,423.2 L573.4,423.4 L575.8,423.5 L578.2,423.6 L580.6,423.7 L582.9,423.8 L585.3,423.9 L587.7,423.9 L590.1,424.0 L592.4,424.1 L594.8,424.2 L597.2,424.2 L599.6,424.3 L602.0,424.3 L604.3,424.4 L606.7,424.4 L609.1,424.5 L611.5,424.5 L613.8,424.6 L616.2,424.6 L618.6,424.6 L621.0,424.7 L623.3,424.7 L625.7,424.8 L628.1,424.8 L630.5,424.8 L632.9,424.8 L635.2,424.9 L637.6,424.9 L640.0,424.9 L642.4,424.9 L644.7,424.9 L647.1,425.0 L649.5,425.0 L651.9,425.0 L654.3,425.0 L656.6,425.0 L659.0,425.0 L661.4,425.0 L663.8,425.0 L666.1,425.0 L668.5,425.0 L670.9,425.0 L673.3,425.0 L675.6,425.0 L678.0,425.0 L680.4,425.0 L682.8,424.9 L685.2,424.9 L687.5,424.9 L689.9,424.9 L692.3,424.9 L694.7,424.9 L697.0,424.8 L699.4,424.8 L701.8,424.8 L704.2,424.8 L706.5,424.8 L708.9,424.8 L711.3,424.7 L713.7,424.7 L716.1,424.7 L718.4,424.7 L720.8,424.7 L723.2,424.6 L725.6,424.6 L727.9,424.6 L730.3,424.6 L732.7,424.6 L735.1,424.6 L737.5,424.5 L739.8,424.5 L742.2,424.5 L744.6,424.5 L747.0,424.5 L749.3,424.5 L751.7,424.5 L754.1,424.4 L756.5,424.4 L758.8,424.4 L761.2,424.4 L763.6,424.3 L766.0,424.3 L768.4,424.2 L770.7,424.1 L773.1,424.0 L775.5,423.9 L777.9,423.7 L780.2,423.4 L782.6,423.0 L785.0,422.6 L787.4,422.0 L789.8,421.3 L792.1,420.5 L794.5,419.4 L796.9,418.1 L799.3,416.5 L801.6,414.7 L804.0,412.5 L806.4,410.0 L808.8,407.1 L811.1,403.9 L813.5,400.3 L815.9,396.3 L818.3,392.1 L820.7,387.5 L823.0,382.6 L825.4,377.4 L827.8,372.1 L830.2,366.6 L832.5,361.0 L834.9,355.3 L837.3,349.7 L839.7,344.1 L842.0,338.5 L844.4,333.1 L846.8,327.8 L849.2,322.7 L851.6,317.8 L853.9,313.1 L856.3,308.8 L858.7,304.6 L861.1,300.8 L863.4,297.2 L865.8,293.7 L868.2,290.5 L870.6,287.4 L873.0,284.5 L875.3,281.8 L877.7,279.3 L880.1,277.1 L882.5,275.0 L884.8,273.1 L887.2,271.4 L889.6,269.8 L892.0,268.4 L894.3,267.0 L896.7,265.8 L899.1,264.7 L901.5,263.6 L903.9,262.7 L906.2,261.8 L908.6,261.0 L911.0,260.3 L913.4,259.6 L915.7,259.1 L918.1,258.6 L920.5,258.1 L922.9,257.7 L925.2,257.4" fill="none" stroke="#45C3EE" stroke-opacity="0.8" stroke-width="3.0" stroke-linejoin="round"/>
<path d="M571.0,423.2 L573.4,423.4 L575.8,423.5 L578.2,423.6 L580.6,423.7 L582.9,423.8 L585.3,423.9 L587.7,423.9 L590.1,424.0 L592.4,424.1 L594.8,424.2 L597.2,424.2 L599.6,424.3 L602.0,424.3 L604.3,424.4 L606.7,424.4 L609.1,424.5 L611.5,424.5 L613.8,424.6 L616.2,424.6 L618.6,424.6 L621.0,424.7 L623.3,424.7 L625.7,424.8 L628.1,424.8 L630.5,424.8 L632.9,424.8 L635.2,424.9 L637.6,424.9 L640.0,424.9 L642.4,424.9 L644.7,424.9 L647.1,425.0 L649.5,425.0 L651.9,425.0 L654.3,425.0 L656.6,425.0 L659.0,425.0 L661.4,425.0 L663.8,425.0 L666.1,425.0 L668.5,425.0 L670.9,425.0 L673.3,425.0 L675.6,425.0 L678.0,425.0 L680.4,425.0 L682.8,424.9 L685.2,424.9 L687.5,424.9 L689.9,424.9 L692.3,424.9 L694.7,424.9 L697.0,424.8 L699.4,424.8 L701.8,424.8 L704.2,424.8 L706.5,424.8 L708.9,424.8 L711.3,424.7 L713.7,424.7 L716.1,424.7 L718.4,424.7 L720.8,424.7 L723.2,424.6 L725.6,424.6 L727.9,424.6 L730.3,424.6 L732.7,424.6 L735.1,424.6 L737.5,424.5 L739.8,424.5 L742.2,424.5 L744.6,424.5 L747.0,424.5 L749.3,424.5 L751.7,424.5 L754.1,424.5 L756.5,424.4 L758.8,424.4 L761.2,424.4 L763.6,424.4 L766.0,424.3 L768.4,424.3 L770.7,424.2 L773.1,424.1 L775.5,424.0 L777.9,423.8 L780.2,423.6 L782.6,423.3 L785.0,422.9 L787.4,422.4 L789.8,421.8 L792.1,421.0 L794.5,420.0 L796.9,418.8 L799.3,417.3 L801.6,415.5 L804.0,413.5 L806.4,411.0 L808.8,408.3 L811.1,405.1 L813.5,401.6 L815.9,397.7 L818.3,393.5 L820.7,388.9 L823.0,384.0 L825.4,378.9 L827.8,373.6 L830.2,368.1 L832.5,362.5 L834.9,356.9 L837.3,351.2 L839.7,345.6 L842.0,340.0 L844.4,334.6 L846.8,329.3 L849.2,324.1 L851.6,319.2 L853.9,314.5 L856.3,310.1 L858.7,305.9 L861.1,302.0 L863.4,298.3 L865.8,294.9 L868.2,291.6 L870.6,288.5 L873.0,285.5 L875.3,282.8 L877.7,280.3 L880.1,277.9 L882.5,275.8 L884.8,273.9 L887.2,272.1 L889.6,270.5 L892.0,269.1 L894.3,267.7 L896.7,266.5 L899.1,265.3 L901.5,264.3 L903.9,263.3 L906.2,262.4 L908.6,261.6 L911.0,260.8 L913.4,260.2 L915.7,259.6 L918.1,259.1 L920.5,258.6 L922.9,258.2 L925.2,257.8" fill="none" stroke="#45C3EE" stroke-opacity="0.8" stroke-width="3.0" stroke-linejoin="round"/>
<path d="M571.0,423.2 L573.4,423.4 L575.8,423.5 L578.2,423.6 L580.6,423.7 L582.9,423.8 L585.3,423.9 L587.7,423.9 L590.1,424.0 L592.4,424.1 L594.8,424.2 L597.2,424.2 L599.6,424.3 L602.0,424.3 L604.3,424.4 L606.7,424.4 L609.1,424.5 L611.5,424.5 L613.8,424.6 L616.2,424.6 L618.6,424.6 L621.0,424.7 L623.3,424.7 L625.7,424.8 L628.1,424.8 L630.5,424.8 L632.9,424.8 L635.2,424.9 L637.6,424.9 L640.0,424.9 L642.4,424.9 L644.7,424.9 L647.1,425.0 L649.5,425.0 L651.9,425.0 L654.3,425.0 L656.6,425.0 L659.0,425.0 L661.4,425.0 L663.8,425.0 L666.1,425.0 L668.5,425.0 L670.9,425.0 L673.3,425.0 L675.6,425.0 L678.0,425.0 L680.4,425.0 L682.8,424.9 L685.2,424.9 L687.5,424.9 L689.9,424.9 L692.3,424.9 L694.7,424.9 L697.0,424.8 L699.4,424.8 L701.8,424.8 L704.2,424.8 L706.5,424.8 L708.9,424.8 L711.3,424.7 L713.7,424.7 L716.1,424.7 L718.4,424.7 L720.8,424.7 L723.2,424.6 L725.6,424.6 L727.9,424.6 L730.3,424.6 L732.7,424.6 L735.1,424.6 L737.5,424.5 L739.8,424.5 L742.2,424.5 L744.6,424.5 L747.0,424.5 L749.3,424.5 L751.7,424.5 L754.1,424.5 L756.5,424.5 L758.8,424.4 L761.2,424.4 L763.6,424.4 L766.0,424.4 L768.4,424.3 L770.7,424.3 L773.1,424.2 L775.5,424.1 L777.9,424.0 L780.2,423.8 L782.6,423.5 L785.0,423.2 L787.4,422.8 L789.8,422.2 L792.1,421.5 L794.5,420.6 L796.9,419.5 L799.3,418.1 L801.6,416.4 L804.0,414.4 L806.4,412.1 L808.8,409.4 L811.1,406.3 L813.5,402.9 L815.9,399.0 L818.3,394.9 L820.7,390.4 L823.0,385.5 L825.4,380.5 L827.8,375.2 L830.2,369.7 L832.5,364.1 L834.9,358.4 L837.3,352.7 L839.7,347.1 L842.0,341.5 L844.4,336.0 L846.8,330.7 L849.2,325.5 L851.6,320.6 L853.9,315.8 L856.3,311.4 L858.7,307.2 L861.1,303.2 L863.4,299.5 L865.8,296.0 L868.2,292.7 L870.6,289.5 L873.0,286.6 L875.3,283.8 L877.7,281.2 L880.1,278.8 L882.5,276.6 L884.8,274.7 L887.2,272.9 L889.6,271.3 L892.0,269.8 L894.3,268.4 L896.7,267.1 L899.1,265.9 L901.5,264.9 L903.9,263.9 L906.2,263.0 L908.6,262.1 L911.0,261.4 L913.4,260.7 L915.7,260.1 L918.1,259.6 L920.5,259.1 L922.9,258.7 L925.2,258.3" fill="none" stroke="#45C3EE" stroke-opacity="0.8" stroke-width="3.0" stroke-linejoin="round"/>
<path d="M571.0,423.2 L573.4,423.4 L575.8,423.5 L578.2,423.6 L580.6,423.7 L582.9,423.8 L585.3,423.9 L587.7,423.9 L590.1,424.0 L592.4,424.1 L594.8,424.2 L597.2,424.2 L599.6,424.3 L602.0,424.3 L604.3,424.4 L606.7,424.4 L609.1,424.5 L611.5,424.5 L613.8,424.6 L616.2,424.6 L618.6,424.6 L621.0,424.7 L623.3,424.7 L625.7,424.8 L628.1,424.8 L630.5,424.8 L632.9,424.8 L635.2,424.9 L637.6,424.9 L640.0,424.9 L642.4,424.9 L644.7,424.9 L647.1,425.0 L649.5,425.0 L651.9,425.0 L654.3,425.0 L656.6,425.0 L659.0,425.0 L661.4,425.0 L663.8,425.0 L666.1,425.0 L668.5,425.0 L670.9,425.0 L673.3,425.0 L675.6,425.0 L678.0,425.0 L680.4,425.0 L682.8,424.9 L685.2,424.9 L687.5,424.9 L689.9,424.9 L692.3,424.9 L694.7,424.9 L697.0,424.8 L699.4,424.8 L701.8,424.8 L704.2,424.8 L706.5,424.8 L708.9,424.8 L711.3,424.7 L713.7,424.7 L716.1,424.7 L718.4,424.7 L720.8,424.7 L723.2,424.6 L725.6,424.6 L727.9,424.6 L730.3,424.6 L732.7,424.6 L735.1,424.6 L737.5,424.5 L739.8,424.5 L742.2,424.5 L744.6,424.5 L747.0,424.5 L749.3,424.5 L751.7,424.5 L754.1,424.5 L756.5,424.5 L758.8,424.5 L761.2,424.5 L763.6,424.4 L766.0,424.4 L768.4,424.4 L770.7,424.4 L773.1,424.4 L775.5,424.4 L777.9,424.4 L780.2,424.4 L782.6,424.4 L785.0,424.4 L787.4,424.4 L789.8,424.4 L792.1,424.4 L794.5,424.4 L796.9,424.3 L799.3,424.3 L801.6,424.3 L804.0,424.3 L806.4,424.2 L808.8,424.2 L811.1,424.1 L813.5,424.0 L815.9,423.9 L818.3,423.8 L820.7,423.7 L823.0,423.5 L825.4,423.3 L827.8,423.0 L830.2,422.7 L832.5,422.3 L834.9,421.9 L837.3,421.4 L839.7,420.8 L842.0,420.1 L844.4,419.2 L846.8,418.2 L849.2,417.1 L851.6,415.9 L853.9,414.5 L856.3,413.0 L858.7,411.5 L861.1,409.8 L863.4,408.1 L865.8,406.3 L868.2,404.5 L870.6,402.7 L873.0,400.9 L875.3,399.1 L877.7,397.3 L880.1,395.5 L882.5,393.8 L884.8,392.0 L887.2,390.2 L889.6,388.4 L892.0,386.6 L894.3,384.9 L896.7,383.2 L899.1,381.6 L901.5,380.2 L903.9,378.9 L906.2,377.8 L908.6,376.8 L911.0,375.9 L913.4,375.1 L915.7,374.3 L918.1,373.6 L920.5,372.9 L922.9,372.3 L925.2,371.8" fill="none" stroke="#CBC759" stroke-opacity="0.8" stroke-width="3.0" stroke-linejoin="round"/>
<path d="M571.0,422.8 L573.7,423.1 L576.4,423.3 L579.1,423.5 L581.8,423.7 L584.5,423.9 L587.1,424.0 L589.8,424.2 L592.5,424.3 L595.2,424.4 L597.9,424.5 L600.6,424.6 L603.2,424.7 L605.9,424.8 L608.6,424.9 L611.3,425.0 L614.0,425.0 L616.7,425.1 L619.4,425.2 L622.0,425.2 L624.7,425.3 L627.4,425.3 L630.1,425.4 L632.8,425.4 L635.5,425.4 L638.1,425.5 L640.8,425.5 L643.5,425.5 L646.2,425.5 L648.9,425.6 L651.5,425.6 L654.2,425.6 L656.9,425.6 L659.6,425.6 L662.3,425.6 L665.0,425.6 L667.6,425.6 L670.3,425.6 L673.0,425.6 L675.7,425.6 L678.4,425.6 L681.1,425.6 L683.8,425.6 L686.4,425.6 L689.1,425.5 L691.8,425.5 L694.5,425.5 L697.2,425.5 L699.9,425.5 L702.5,425.4 L705.2,425.4 L707.9,425.4 L710.6,425.4 L713.3,425.3 L716.0,425.3 L718.6,425.3 L721.3,425.3 L724.0,425.3 L726.7,425.2 L729.4,425.2 L732.0,425.2 L734.7,425.2 L737.4,425.2 L740.1,425.2 L742.8,425.2 L745.5,425.1 L748.1,425.1 L750.8,425.1 L753.5,425.1 L756.2,425.1 L758.9,425.1 L761.6,425.1 L764.2,425.1 L766.9,425.1 L769.6,425.1 L772.3,425.1 L775.0,425.1 L777.7,425.1 L780.4,425.1 L783.0,425.1 L785.7,425.0 L788.4,425.0 L791.1,425.0 L793.8,425.0 L796.5,425.0 L799.1,425.0 L801.8,425.0 L804.5,425.0 L807.2,425.0 L809.9,425.0 L812.5,425.0 L815.2,425.0 L817.9,425.0 L820.6,425.0 L823.3,425.0 L826.0,425.0 L828.7,425.0 L831.3,425.0 L834.0,425.0 L836.7,425.0 L839.4,425.0 L842.1,425.0 L844.8,425.0 L847.4,425.0 L850.1,425.0 L852.8,425.0 L855.5,425.0 L858.2,425.0 L860.9,425.0 L863.5,425.0 L866.2,425.0 L868.9,425.0 L871.6,425.0 L874.3,425.0 L877.0,425.0 L879.6,425.0 L882.3,425.0 L885.0,425.0 L887.7,425.0 L890.4,425.0 L893.0,425.0 L895.7,425.0 L898.4,425.0 L901.1,425.0 L903.8,425.0 L906.5,425.0 L909.2,425.0 L911.8,425.0 L914.5,425.0 L917.2,425.0 L919.9,425.0 L922.6,425.0 L925.2,425.0" fill="none" stroke="#26B18B" stroke-opacity="0.8" stroke-width="3.0" stroke-linejoin="round"/>
<path d="M571.0,422.1 L573.7,422.4 L576.4,422.6 L579.1,422.8 L581.8,423.0 L584.5,423.2 L587.1,423.3 L589.8,423.5 L592.5,423.6 L595.2,423.7 L597.9,423.8 L600.6,423.9 L603.2,424.0 L605.9,424.1 L608.6,424.2 L611.3,424.3 L614.0,424.3 L616.7,424.4 L619.4,424.5 L622.0,424.5 L624.7,424.6 L627.4,424.6 L630.1,424.7 L632.8,424.7 L635.5,424.7 L638.1,424.8 L640.8,424.8 L643.5,424.8 L646.2,424.9 L648.9,424.9 L651.5,424.9 L654.2,424.9 L656.9,424.9 L659.6,424.9 L662.3,424.9 L665.0,424.9 L667.6,424.9 L670.3,424.9 L673.0,424.9 L675.7,424.9 L678.4,424.9 L681.1,424.9 L683.8,424.9 L686.4,424.9 L689.1,424.8 L691.8,424.8 L694.5,424.8 L697.2,424.8 L699.9,424.8 L702.5,424.7 L705.2,424.7 L707.9,424.7 L710.6,424.7 L713.3,424.7 L716.0,424.6 L718.6,424.6 L721.3,424.6 L724.0,424.6 L726.7,424.6 L729.4,424.5 L732.0,424.5 L734.7,424.5 L737.4,424.5 L740.1,424.5 L742.8,424.5 L745.5,424.5 L748.1,424.4 L750.8,424.4 L753.5,424.4 L756.2,424.4 L758.9,424.4 L761.6,424.4 L764.2,424.4 L766.9,424.4 L769.6,424.4 L772.3,424.4 L775.0,424.4 L777.7,424.4 L780.4,424.4 L783.0,424.4 L785.7,424.4 L788.4,424.4 L791.1,424.4 L793.8,424.4 L796.5,424.4 L799.1,424.4 L801.8,424.4 L804.5,424.4 L807.2,424.3 L809.9,424.3 L812.5,424.3 L815.2,424.3 L817.9,424.3 L820.6,424.3 L823.3,424.3 L826.0,424.3 L828.7,424.3 L831.3,424.3 L834.0,424.3 L836.7,424.3 L839.4,424.3 L842.1,424.3 L844.8,424.3 L847.4,424.3 L850.1,424.3 L852.8,424.3 L855.5,424.3 L858.2,424.3 L860.9,424.3 L863.5,424.3 L866.2,424.3 L868.9,424.3 L871.6,424.3 L874.3,424.3 L877.0,424.3 L879.6,424.3 L882.3,424.3 L885.0,424.3 L887.7,424.3 L890.4,424.3 L893.0,424.3 L895.7,424.3 L898.4,424.3 L901.1,424.3 L903.8,424.3 L906.5,424.3 L909.2,424.3 L911.8,424.3 L914.5,424.3 L917.2,424.3 L919.9,424.3 L922.6,424.3 L925.2,424.3" fill="none" stroke="#26B18B" stroke-opacity="0.8" stroke-width="3.0" stroke-linejoin="round"/>
<path d="M571.0,422.4 L573.7,422.6 L576.4,422.8 L579.1,423.1 L581.8,423.2 L584.5,423.4 L587.1,423.6 L589.8,423.7 L592.5,423.9 L595.2,424.0 L597.9,424.1 L600.6,424.2 L603.2,424.3 L605.9,424.4 L608.6,424.4 L611.3,424.5 L614.0,424.6 L616.7,424.7 L619.4,424.7 L622.0,424.8 L624.7,424.8 L627.4,424.9 L630.1,424.9 L632.8,425.0 L635.5,425.0 L638.1,425.0 L640.8,425.1 L643.5,425.1 L646.2,425.1 L648.9,425.1 L651.5,425.1 L654.2,425.2 L656.9,425.2 L659.6,425.2 L662.3,425.2 L665.0,425.2 L667.6,425.2 L670.3,425.2 L673.0,425.2 L675.7,425.2 L678.4,425.2 L681.1,425.1 L683.8,425.1 L686.4,425.1 L689.1,425.1 L691.8,425.1 L694.5,425.1 L697.2,425.0 L699.9,425.0 L702.5,425.0 L705.2,425.0 L707.9,425.0 L710.6,424.9 L713.3,424.9 L716.0,424.9 L718.6,424.9 L721.3,424.8 L724.0,424.8 L726.7,424.8 L729.4,424.8 L732.0,424.8 L734.7,424.8 L737.4,424.7 L740.1,424.7 L742.8,424.7 L745.5,424.7 L748.1,424.7 L750.8,424.7 L753.5,424.7 L756.2,424.7 L758.9,424.7 L761.6,424.7 L764.2,424.6 L766.9,424.6 L769.6,424.6 L772.3,424.6 L775.0,424.6 L777.7,424.6 L780.4,424.6 L783.0,424.6 L785.7,424.6 L788.4,424.6 L791.1,424.6 L793.8,424.6 L796.5,424.6 L799.1,424.6 L801.8,424.6 L804.5,424.6 L807.2,424.6 L809.9,424.6 L812.5,424.6 L815.2,424.6 L817.9,424.6 L820.6,424.6 L823.3,424.6 L826.0,424.6 L828.7,424.6 L831.3,424.6 L834.0,424.6 L836.7,424.6 L839.4,424.6 L842.1,424.6 L844.8,424.6 L847.4,424.6 L850.1,424.6 L852.8,424.6 L855.5,424.6 L858.2,424.6 L860.9,424.6 L863.5,424.6 L866.2,424.6 L868.9,424.6 L871.6,424.6 L874.3,424.6 L877.0,424.6 L879.6,424.6 L882.3,424.6 L885.0,424.6 L887.7,424.6 L890.4,424.6 L893.0,424.6 L895.7,424.6 L898.4,424.6 L901.1,424.6 L903.8,424.6 L906.5,424.6 L909.2,424.6 L911.8,424.6 L914.5,424.6 L917.2,424.6 L919.9,424.6 L922.6,424.6 L925.2,424.6" fill="none" stroke="#26B18B" stroke-opacity="0.8" stroke-width="3.0" stroke-linejoin="round"/>
<path d="M571.0,423.9 L573.4,423.9 L575.8,424.0 L578.2,424.1 L580.6,424.1 L582.9,424.2 L585.3,424.2 L587.7,424.3 L590.1,424.3 L592.4,424.4 L594.8,424.4 L597.2,424.4 L599.6,424.5 L602.0,424.5 L604.3,424.5 L606.7,424.6 L609.1,424.6 L611.5,424.6 L613.8,424.7 L616.2,424.7 L618.6,424.7 L621.0,424.8 L623.3,424.8 L625.7,424.8 L628.1,424.8 L630.5,424.9 L632.9,424.9 L635.2,424.9 L637.6,424.9 L640.0,424.9 L642.4,425.0 L644.7,425.0 L647.1,425.0 L649.5,425.0 L651.9,425.0 L654.3,425.0 L656.6,425.0 L659.0,425.0 L661.4,425.0 L663.8,425.0 L666.1,425.0 L668.5,425.0 L670.9,425.0 L673.3,425.0 L675.6,425.0 L678.0,425.0 L680.4,425.0 L682.8,424.9 L685.2,424.9 L687.5,424.9 L689.9,424.9 L692.3,424.8 L694.7,424.8 L697.0,424.8 L699.4,424.7 L701.8,424.7 L704.2,424.6 L706.5,424.6 L708.9,424.5 L711.3,424.4 L713.7,424.3 L716.1,424.2 L718.4,424.1 L720.8,424.0 L723.2,423.8 L725.6,423.5 L727.9,423.3 L730.3,422.9 L732.7,422.5 L735.1,422.0 L737.5,421.5 L739.8,420.8 L742.2,419.9 L744.6,418.9 L747.0,417.7 L749.3,416.3 L751.7,414.7 L754.1,412.8 L756.5,410.6 L758.8,408.1 L761.2,405.2 L763.6,401.9 L766.0,398.2 L768.4,394.1 L770.7,389.6 L773.1,384.7 L775.5,379.4 L777.9,373.7 L780.2,367.7 L782.6,361.4 L785.0,354.8 L787.4,348.1 L789.8,341.2 L792.1,334.3 L794.5,327.3 L796.9,320.4 L799.3,313.6 L801.6,307.0 L804.0,300.6 L806.4,294.5 L808.8,288.6 L811.1,282.7 L813.5,277.1 L815.9,271.6 L818.3,266.5 L820.7,261.9 L823.0,258.0 L825.4,254.5 L827.8,251.4 L830.2,248.6 L832.5,246.0 L834.9,243.6 L837.3,241.4 L839.7,239.5 L842.0,237.6 L844.4,236.0 L846.8,234.4 L849.2,233.0 L851.6,231.8 L853.9,230.6 L856.3,229.6 L858.7,228.6 L861.1,227.7 L863.4,226.9 L865.8,226.1 L868.2,225.5 L870.6,224.8 L873.0,224.3 L875.3,223.8 L877.7,223.4 L880.1,223.0 L882.5,222.6 L884.8,222.2 L887.2,221.9 L889.6,221.5 L892.0,221.2 L894.3,220.9 L896.7,220.7 L899.1,220.4 L901.5,220.2 L903.9,220.1 L906.2,220.0 L908.6,219.9 L911.0,219.9 L913.4,219.9 L915.7,219.9 L918.1,220.0 L920.5,220.1 L922.9,220.1 L925.2,220.2" fill="none" stroke="#E7298A" stroke-opacity="0.8" stroke-width="3.0" stroke-linejoin="round"/>
<path d="M571.0,423.9 L573.4,423.9 L575.8,424.0 L578.2,424.1 L580.6,424.1 L582.9,424.2 L585.3,424.2 L587.7,424.3 L590.1,424.3 L592.4,424.4 L594.8,424.4 L597.2,424.4 L599.6,424.5 L602.0,424.5 L604.3,424.5 L606.7,424.6 L609.1,424.6 L611.5,424.6 L613.8,424.7 L616.2,424.7 L618.6,424.7 L621.0,424.8 L623.3,424.8 L625.7,424.8 L628.1,424.8 L630.5,424.9 L632.9,424.9 L635.2,424.9 L637.6,424.9 L640.0,424.9 L642.4,425.0 L644.7,425.0 L647.1,425.0 L649.5,425.0 L651.9,425.0 L654.3,425.0 L656.6,425.0 L659.0,425.0 L661.4,425.0 L663.8,425.0 L666.1,425.0 L668.5,425.0 L670.9,425.0 L673.3,425.0 L675.6,425.0 L678.0,425.0 L680.4,425.0 L682.8,424.9 L685.2,424.9 L687.5,424.9 L689.9,424.9 L692.3,424.9 L694.7,424.8 L697.0,424.8 L699.4,424.8 L701.8,424.7 L704.2,424.7 L706.5,424.6 L708.9,424.6 L711.3,424.5 L713.7,424.4 L716.1,424.3 L718.4,424.2 L720.8,424.1 L723.2,423.9 L725.6,423.7 L727.9,423.5 L730.3,423.2 L732.7,422.8 L735.1,422.4 L737.5,421.9 L739.8,421.2 L742.2,420.4 L744.6,419.5 L747.0,418.3 L749.3,417.0 L751.7,415.3 L754.1,413.4 L756.5,411.2 L758.8,408.7 L761.2,405.7 L763.6,402.4 L766.0,398.7 L768.4,394.5 L770.7,389.9 L773.1,384.9 L775.5,379.5 L777.9,373.8 L780.2,367.7 L782.6,361.4 L785.0,354.9 L787.4,348.2 L789.8,341.5 L792.1,334.7 L794.5,328.0 L796.9,321.5 L799.3,315.1 L801.6,308.9 L804.0,302.9 L806.4,297.3 L808.8,291.9 L811.1,286.7 L813.5,281.7 L815.9,277.1 L818.3,272.8 L820.7,269.0 L823.0,265.8 L825.4,262.9 L827.8,260.3 L830.2,257.9 L832.5,255.7 L834.9,253.7 L837.3,251.9 L839.7,250.2 L842.0,248.7 L844.4,247.4 L846.8,246.2 L849.2,245.1 L851.6,244.1 L853.9,243.1 L856.3,242.3 L858.7,241.5 L861.1,240.8 L863.4,240.2 L865.8,239.7 L868.2,239.2 L870.6,238.8 L873.0,238.4 L875.3,238.0 L877.7,237.7 L880.1,237.5 L882.5,237.2 L884.8,237.0 L887.2,236.8 L889.6,236.6 L892.0,236.4 L894.3,236.2 L896.7,236.0 L899.1,235.9 L901.5,235.7 L903.9,235.6 L906.2,235.4 L908.6,235.3 L911.0,235.1 L913.4,235.0 L915.7,234.9 L918.1,234.8 L920.5,234.7 L922.9,234.6 L925.2,234.6" fill="none" stroke="#E7298A" stroke-opacity="0.8" stroke-width="3.0" stroke-linejoin="round"/>
<path d="M571.0,423.9 L573.4,423.9 L575.8,424.0 L578.2,424.1 L580.6,424.1 L582.9,424.2 L585.3,424.2 L587.7,424.3 L590.1,424.3 L592.4,424.4 L594.8,424.4 L597.2,424.4 L599.6,424.5 L602.0,424.5 L604.3,424.5 L606.7,424.6 L609.1,424.6 L611.5,424.6 L613.8,424.7 L616.2,424.7 L618.6,424.7 L621.0,424.8 L623.3,424.8 L625.7,424.8 L628.1,424.8 L630.5,424.9 L632.9,424.9 L635.2,424.9 L637.6,424.9 L640.0,424.9 L642.4,425.0 L644.7,425.0 L647.1,425.0 L649.5,425.0 L651.9,425.0 L654.3,425.0 L656.6,425.0 L659.0,425.0 L661.4,425.0 L663.8,425.0 L666.1,425.0 L668.5,425.0 L670.9,425.0 L673.3,425.0 L675.6,425.0 L678.0,425.0 L680.4,425.0 L682.8,424.9 L685.2,424.9 L687.5,424.9 L689.9,424.9 L692.3,424.9 L694.7,424.8 L697.0,424.8 L699.4,424.8 L701.8,424.7 L704.2,424.7 L706.5,424.7 L708.9,424.6 L711.3,424.5 L713.7,424.5 L716.1,424.4 L718.4,424.3 L720.8,424.1 L723.2,424.0 L725.6,423.8 L727.9,423.6 L730.3,423.3 L732.7,422.9 L735.1,422.5 L737.5,422.0 L739.8,421.4 L742.2,420.6 L744.6,419.7 L747.0,418.5 L749.3,417.2 L751.7,415.6 L754.1,413.8 L756.5,411.6 L758.8,409.0 L761.2,406.1 L763.6,402.8 L766.0,399.1 L768.4,395.0 L770.7,390.5 L773.1,385.5 L775.5,380.1 L777.9,374.4 L780.2,368.4 L782.6,362.1 L785.0,355.6 L787.4,349.0 L789.8,342.3 L792.1,335.6 L794.5,329.0 L796.9,322.4 L799.3,316.1 L801.6,309.9 L804.0,304.0 L806.4,298.4 L808.8,293.1 L811.1,287.9 L813.5,283.0 L815.9,278.4 L818.3,274.2 L820.7,270.4 L823.0,267.2 L825.4,264.3 L827.8,261.7 L830.2,259.3 L832.5,257.1 L834.9,255.1 L837.3,253.3 L839.7,251.6 L842.0,250.2 L844.4,248.8 L846.8,247.6 L849.2,246.5 L851.6,245.5 L853.9,244.5 L856.3,243.7 L858.7,242.9 L861.1,242.2 L863.4,241.6 L865.8,241.1 L868.2,240.6 L870.6,240.2 L873.0,239.8 L875.3,239.4 L877.7,239.1 L880.1,238.9 L882.5,238.6 L884.8,238.4 L887.2,238.2 L889.6,238.0 L892.0,237.8 L894.3,237.6 L896.7,237.4 L899.1,237.3 L901.5,237.1 L903.9,237.0 L906.2,236.8 L908.6,236.7 L911.0,236.5 L913.4,236.4 L915.7,236.3 L918.1,236.2 L920.5,236.1 L922.9,236.0 L925.2,236.0" fill="none" stroke="#E7298A" stroke-opacity="0.8" stroke-width="3.0" stroke-linejoin="round"/>
<path d="M987.4,423.3 L990.1,423.5 L992.8,423.6 L995.5,423.7 L998.2,423.8 L1000.9,423.9 L1003.5,424.0 L1006.2,424.1 L1008.9,424.2 L1011.6,424.3 L1014.3,424.3 L1017.0,424.4 L1019.6,424.5 L1022.3,424.5 L1025.0,424.6 L1027.7,424.6 L1030.4,424.7 L1033.1,424.7 L1035.8,424.8 L1038.4,424.8 L1041.1,424.8 L1043.8,424.9 L1046.5,424.9 L1049.2,424.9 L1051.8,425.0 L1054.5,425.0 L1057.2,425.0 L1059.9,425.0 L1062.6,425.1 L1065.3,425.1 L1068.0,425.1 L1070.6,425.1 L1073.3,425.1 L1076.0,425.1 L1078.7,425.1 L1081.4,425.1 L1084.0,425.1 L1086.7,425.1 L1089.4,425.1 L1092.1,425.1 L1094.8,425.1 L1097.5,425.1 L1100.2,425.1 L1102.8,425.0 L1105.5,425.0 L1108.2,425.0 L1110.9,425.0 L1113.6,425.0 L1116.2,424.9 L1118.9,424.9 L1121.6,424.9 L1124.3,424.9 L1127.0,424.8 L1129.7,424.8 L1132.3,424.8 L1135.0,424.8 L1137.7,424.8 L1140.4,424.7 L1143.1,424.7 L1145.8,424.7 L1148.5,424.7 L1151.1,424.7 L1153.8,424.7 L1156.5,424.6 L1159.2,424.6 L1161.9,424.6 L1164.5,424.6 L1167.2,424.6 L1169.9,424.6 L1172.6,424.6 L1175.3,424.6 L1178.0,424.6 L1180.7,424.6 L1183.3,424.6 L1186.0,424.5 L1188.7,424.5 L1191.4,424.5 L1194.1,424.5 L1196.8,424.5 L1199.4,424.5 L1202.1,424.5 L1204.8,424.5 L1207.5,424.5 L1210.2,424.5 L1212.8,424.5 L1215.5,424.5 L1218.2,424.5 L1220.9,424.5 L1223.6,424.5 L1226.3,424.5 L1229.0,424.5 L1231.6,424.5 L1234.3,424.5 L1237.0,424.5 L1239.7,424.5 L1242.4,424.5 L1245.0,424.5 L1247.7,424.5 L1250.4,424.5 L1253.1,424.5 L1255.8,424.5 L1258.5,424.5 L1261.2,424.5 L1263.8,424.5 L1266.5,424.5 L1269.2,424.5 L1271.9,424.5 L1274.6,424.5 L1277.2,424.5 L1279.9,424.5 L1282.6,424.5 L1285.3,424.5 L1288.0,424.5 L1290.7,424.5 L1293.3,424.5 L1296.0,424.5 L1298.7,424.5 L1301.4,424.5 L1304.1,424.5 L1306.8,424.5 L1309.5,424.5 L1312.1,424.5 L1314.8,424.5 L1317.5,424.5 L1320.2,424.5 L1322.9,424.5 L1325.5,424.5 L1328.2,424.5 L1330.9,424.5 L1333.6,424.5 L1336.3,424.5 L1339.0,424.5 L1341.7,424.5" fill="none" stroke="#45C3EE" stroke-opacity="0.8" stroke-width="3.0" stroke-linejoin="round"/>
<path d="M987.4,422.7 L990.1,422.9 L992.8,423.0 L995.5,423.1 L998.2,423.2 L1000.9,423.3 L1003.5,423.4 L1006.2,423.5 L1008.9,423.6 L1011.6,423.7 L1014.3,423.7 L1017.0,423.8 L1019.6,423.9 L1022.3,423.9 L1025.0,424.0 L1027.7,424.0 L1030.4,424.1 L1033.1,424.1 L1035.8,424.2 L1038.4,424.2 L1041.1,424.3 L1043.8,424.3 L1046.5,424.3 L1049.2,424.4 L1051.8,424.4 L1054.5,424.4 L1057.2,424.4 L1059.9,424.4 L1062.6,424.5 L1065.3,424.5 L1068.0,424.5 L1070.6,424.5 L1073.3,424.5 L1076.0,424.5 L1078.7,424.5 L1081.4,424.5 L1084.0,424.5 L1086.7,424.5 L1089.4,424.5 L1092.1,424.5 L1094.8,424.5 L1097.5,424.5 L1100.2,424.5 L1102.8,424.4 L1105.5,424.4 L1108.2,424.4 L1110.9,424.4 L1113.6,424.4 L1116.2,424.3 L1118.9,424.3 L1121.6,424.3 L1124.3,424.3 L1127.0,424.3 L1129.7,424.2 L1132.3,424.2 L1135.0,424.2 L1137.7,424.2 L1140.4,424.1 L1143.1,424.1 L1145.8,424.1 L1148.5,424.1 L1151.1,424.1 L1153.8,424.1 L1156.5,424.0 L1159.2,424.0 L1161.9,424.0 L1164.5,424.0 L1167.2,424.0 L1169.9,424.0 L1172.6,424.0 L1175.3,424.0 L1178.0,424.0 L1180.7,424.0 L1183.3,424.0 L1186.0,423.9 L1188.7,423.9 L1191.4,423.9 L1194.1,423.9 L1196.8,423.9 L1199.4,423.9 L1202.1,423.9 L1204.8,423.9 L1207.5,423.9 L1210.2,423.9 L1212.8,423.9 L1215.5,423.9 L1218.2,423.9 L1220.9,423.9 L1223.6,423.9 L1226.3,423.9 L1229.0,423.9 L1231.6,423.9 L1234.3,423.9 L1237.0,423.9 L1239.7,423.9 L1242.4,423.9 L1245.0,423.9 L1247.7,423.9 L1250.4,423.9 L1253.1,423.9 L1255.8,423.9 L1258.5,423.9 L1261.2,423.9 L1263.8,423.9 L1266.5,423.9 L1269.2,423.9 L1271.9,423.9 L1274.6,423.9 L1277.2,423.9 L1279.9,423.9 L1282.6,423.9 L1285.3,423.9 L1288.0,423.9 L1290.7,423.9 L1293.3,423.9 L1296.0,423.9 L1298.7,423.9 L1301.4,423.9 L1304.1,423.9 L1306.8,423.9 L1309.5,423.9 L1312.1,423.9 L1314.8,423.9 L1317.5,423.9 L1320.2,423.9 L1322.9,423.9 L1325.5,423.9 L1328.2,423.9 L1330.9,423.9 L1333.6,423.9 L1336.3,423.9 L1339.0,423.9 L1341.7,423.9" fill="none" stroke="#45C3EE" stroke-opacity="0.8" stroke-width="3.0" stroke-linejoin="round"/>
<path d="M987.4,423.8 L990.1,423.9 L992.8,424.1 L995.5,424.2 L998.2,424.3 L1000.9,424.4 L1003.5,424.5 L1006.2,424.6 L1008.9,424.7 L1011.6,424.7 L1014.3,424.8 L1017.0,424.9 L1019.6,424.9 L1022.3,425.0 L1025.0,425.0 L1027.7,425.1 L1030.4,425.1 L1033.1,425.2 L1035.8,425.2 L1038.4,425.3 L1041.1,425.3 L1043.8,425.3 L1046.5,425.4 L1049.2,425.4 L1051.8,425.4 L1054.5,425.5 L1057.2,425.5 L1059.9,425.5 L1062.6,425.5 L1065.3,425.5 L1068.0,425.5 L1070.6,425.6 L1073.3,425.6 L1076.0,425.6 L1078.7,425.6 L1081.4,425.6 L1084.0,425.6 L1086.7,425.6 L1089.4,425.6 L1092.1,425.5 L1094.8,425.5 L1097.5,425.5 L1100.2,425.5 L1102.8,425.5 L1105.5,425.5 L1108.2,425.4 L1110.9,425.4 L1113.6,425.4 L1116.2,425.4 L1118.9,425.4 L1121.6,425.3 L1124.3,425.3 L1127.0,425.3 L1129.7,425.3 L1132.3,425.3 L1135.0,425.2 L1137.7,425.2 L1140.4,425.2 L1143.1,425.2 L1145.8,425.2 L1148.5,425.1 L1151.1,425.1 L1153.8,425.1 L1156.5,425.1 L1159.2,425.1 L1161.9,425.1 L1164.5,425.1 L1167.2,425.0 L1169.9,425.0 L1172.6,425.0 L1175.3,425.0 L1178.0,425.0 L1180.7,425.0 L1183.3,425.0 L1186.0,425.0 L1188.7,425.0 L1191.4,425.0 L1194.1,425.0 L1196.8,425.0 L1199.4,425.0 L1202.1,425.0 L1204.8,425.0 L1207.5,425.0 L1210.2,425.0 L1212.8,425.0 L1215.5,425.0 L1218.2,425.0 L1220.9,425.0 L1223.6,425.0 L1226.3,425.0 L1229.0,425.0 L1231.6,425.0 L1234.3,425.0 L1237.0,425.0 L1239.7,425.0 L1242.4,425.0 L1245.0,425.0 L1247.7,425.0 L1250.4,425.0 L1253.1,425.0 L1255.8,425.0 L1258.5,425.0 L1261.2,425.0 L1263.8,425.0 L1266.5,425.0 L1269.2,425.0 L1271.9,425.0 L1274.6,425.0 L1277.2,425.0 L1279.9,425.0 L1282.6,425.0 L1285.3,425.0 L1288.0,425.0 L1290.7,425.0 L1293.3,425.0 L1296.0,425.0 L1298.7,425.0 L1301.4,425.0 L1304.1,425.0 L1306.8,425.0 L1309.5,425.0 L1312.1,425.0 L1314.8,425.0 L1317.5,425.0 L1320.2,425.0 L1322.9,425.0 L1325.5,425.0 L1328.2,425.0 L1330.9,425.0 L1333.6,425.0 L1336.3,425.0 L1339.0,425.0 L1341.7,425.0" fill="none" stroke="#45C3EE" stroke-opacity="0.8" stroke-width="3.0" stroke-linejoin="round"/>
<path d="M987.4,423.3 L990.1,423.5 L992.8,423.6 L995.5,423.7 L998.2,423.8 L1000.9,423.9 L1003.5,424.0 L1006.2,424.1 L1008.9,424.2 L1011.6,424.3 L1014.3,424.3 L1017.0,424.4 L1019.6,424.5 L1022.3,424.5 L1025.0,424.6 L1027.7,424.6 L1030.4,424.7 L1033.1,424.7 L1035.8,424.8 L1038.4,424.8 L1041.1,424.8 L1043.8,424.9 L1046.5,424.9 L1049.2,424.9 L1051.8,425.0 L1054.5,425.0 L1057.2,425.0 L1059.9,425.0 L1062.6,425.1 L1065.3,425.1 L1068.0,425.1 L1070.6,425.1 L1073.3,425.1 L1076.0,425.1 L1078.7,425.1 L1081.4,425.1 L1084.0,425.1 L1086.7,425.1 L1089.4,425.1 L1092.1,425.1 L1094.8,425.1 L1097.5,425.1 L1100.2,425.0 L1102.8,425.0 L1105.5,425.0 L1108.2,425.0 L1110.9,425.0 L1113.6,424.9 L1116.2,424.9 L1118.9,424.9 L1121.6,424.9 L1124.3,424.9 L1127.0,424.8 L1129.7,424.8 L1132.3,424.8 L1135.0,424.8 L1137.7,424.8 L1140.4,424.7 L1143.1,424.7 L1145.8,424.7 L1148.5,424.7 L1151.1,424.7 L1153.8,424.6 L1156.5,424.6 L1159.2,424.6 L1161.9,424.6 L1164.5,424.6 L1167.2,424.6 L1169.9,424.6 L1172.6,424.6 L1175.3,424.6 L1178.0,424.6 L1180.7,424.5 L1183.3,424.5 L1186.0,424.5 L1188.7,424.5 L1191.4,424.5 L1194.1,424.5 L1196.8,424.5 L1199.4,424.5 L1202.1,424.5 L1204.8,424.5 L1207.5,424.5 L1210.2,424.5 L1212.8,424.5 L1215.5,424.5 L1218.2,424.5 L1220.9,424.5 L1223.6,424.5 L1226.3,424.5 L1229.0,424.5 L1231.6,424.5 L1234.3,424.5 L1237.0,424.5 L1239.7,424.5 L1242.4,424.5 L1245.0,424.5 L1247.7,424.5 L1250.4,424.5 L1253.1,424.5 L1255.8,424.5 L1258.5,424.5 L1261.2,424.5 L1263.8,424.5 L1266.5,424.5 L1269.2,424.5 L1271.9,424.5 L1274.6,424.5 L1277.2,424.5 L1279.9,424.5 L1282.6,424.5 L1285.3,424.5 L1288.0,424.5 L1290.7,424.5 L1293.3,424.5 L1296.0,424.5 L1298.7,424.5 L1301.4,424.5 L1304.1,424.5 L1306.8,424.5 L1309.5,424.5 L1312.1,424.5 L1314.8,424.5 L1317.5,424.5 L1320.2,424.5 L1322.9,424.5 L1325.5,424.5 L1328.2,424.5 L1330.9,424.5 L1333.6,424.5 L1336.3,424.5 L1339.0,424.5 L1341.7,424.5" fill="none" stroke="#CBC759" stroke-opacity="0.8" stroke-width="3.0" stroke-linejoin="round"/>
<path d="M987.4,423.9 L990.1,424.0 L992.8,424.1 L995.5,424.3 L998.2,424.4 L1000.9,424.5 L1003.5,424.6 L1006.2,424.7 L1008.9,424.7 L1011.6,424.8 L1014.3,424.9 L1017.0,424.9 L1019.6,425.0 L1022.3,425.1 L1025.0,425.1 L1027.7,425.2 L1030.4,425.2 L1033.1,425.3 L1035.8,425.3 L1038.4,425.3 L1041.1,425.4 L1043.8,425.4 L1046.5,425.4 L1049.2,425.5 L1051.8,425.5 L1054.5,425.5 L1057.2,425.6 L1059.9,425.6 L1062.6,425.6 L1065.3,425.6 L1068.0,425.6 L1070.6,425.6 L1073.3,425.6 L1076.0,425.6 L1078.7,425.6 L1081.4,425.6 L1084.0,425.6 L1086.7,425.6 L1089.4,425.6 L1092.1,425.6 L1094.8,425.6 L1097.5,425.6 L1100.2,425.6 L1102.8,425.6 L1105.5,425.5 L1108.2,425.5 L1110.9,425.5 L1113.6,425.5 L1116.2,425.5 L1118.9,425.4 L1121.6,425.4 L1124.3,425.4 L1127.0,425.4 L1129.7,425.4 L1132.3,425.3 L1135.0,425.3 L1137.7,425.3 L1140.4,425.3 L1143.1,425.3 L1145.8,425.2 L1148.5,425.2 L1151.1,425.2 L1153.8,425.2 L1156.5,425.2 L1159.2,425.2 L1161.9,425.1 L1164.5,425.1 L1167.2,425.1 L1169.9,425.1 L1172.6,425.1 L1175.3,425.1 L1178.0,425.1 L1180.7,425.1 L1183.3,425.1 L1186.0,425.1 L1188.7,425.1 L1191.4,425.1 L1194.1,425.1 L1196.8,425.1 L1199.4,425.1 L1202.1,425.1 L1204.8,425.1 L1207.5,425.0 L1210.2,425.0 L1212.8,425.0 L1215.5,425.0 L1218.2,425.0 L1220.9,425.0 L1223.6,425.0 L1226.3,425.0 L1229.0,425.0 L1231.6,425.0 L1234.3,425.0 L1237.0,425.0 L1239.7,425.0 L1242.4,425.0 L1245.0,425.0 L1247.7,425.0 L1250.4,425.0 L1253.1,425.0 L1255.8,425.0 L1258.5,425.0 L1261.2,425.0 L1263.8,425.0 L1266.5,425.0 L1269.2,425.0 L1271.9,425.0 L1274.6,425.0 L1277.2,425.0 L1279.9,425.0 L1282.6,425.0 L1285.3,425.0 L1288.0,425.0 L1290.7,425.0 L1293.3,425.0 L1296.0,425.0 L1298.7,425.0 L1301.4,425.0 L1304.1,425.0 L1306.8,425.0 L1309.5,425.0 L1312.1,425.0 L1314.8,425.0 L1317.5,425.0 L1320.2,425.0 L1322.9,425.0 L1325.5,425.0 L1328.2,425.0 L1330.9,425.0 L1333.6,425.0 L1336.3,425.0 L1339.0,425.0 L1341.7,425.0" fill="none" stroke="#CBC759" stroke-opacity="0.8" stroke-width="3.0" stroke-linejoin="round"/>
<path d="M987.4,423.8 L990.1,424.0 L992.8,424.1 L995.5,424.2 L998.2,424.3 L1000.9,424.4 L1003.5,424.5 L1006.2,424.6 L1008.9,424.7 L1011.6,424.8 L1014.3,424.8 L1017.0,424.9 L1019.6,425.0 L1022.3,425.0 L1025.0,425.1 L1027.7,425.1 L1030.4,425.2 L1033.1,425.2 L1035.8,425.3 L1038.4,425.3 L1041.1,425.3 L1043.8,425.4 L1046.5,425.4 L1049.2,425.4 L1051.8,425.5 L1054.5,425.5 L1057.2,425.5 L1059.9,425.5 L1062.6,425.6 L1065.3,425.6 L1068.0,425.6 L1070.6,425.6 L1073.3,425.6 L1076.0,425.6 L1078.7,425.6 L1081.4,425.6 L1084.0,425.6 L1086.7,425.6 L1089.4,425.6 L1092.1,425.6 L1094.8,425.6 L1097.5,425.6 L1100.2,425.6 L1102.8,425.5 L1105.5,425.5 L1108.2,425.5 L1110.9,425.5 L1113.6,425.5 L1116.2,425.4 L1118.9,425.4 L1121.6,425.4 L1124.3,425.4 L1127.0,425.3 L1129.7,425.3 L1132.3,425.3 L1135.0,425.3 L1137.7,425.3 L1140.4,425.2 L1143.1,425.2 L1145.8,425.2 L1148.5,425.2 L1151.1,425.2 L1153.8,425.2 L1156.5,425.1 L1159.2,425.1 L1161.9,425.1 L1164.5,425.1 L1167.2,425.1 L1169.9,425.1 L1172.6,425.1 L1175.3,425.1 L1178.0,425.1 L1180.7,425.1 L1183.3,425.0 L1186.0,425.0 L1188.7,425.0 L1191.4,425.0 L1194.1,425.0 L1196.8,425.0 L1199.4,425.0 L1202.1,425.0 L1204.8,425.0 L1207.5,425.0 L1210.2,425.0 L1212.8,425.0 L1215.5,425.0 L1218.2,425.0 L1220.9,425.0 L1223.6,425.0 L1226.3,425.0 L1229.0,425.0 L1231.6,425.0 L1234.3,425.0 L1237.0,425.0 L1239.7,425.0 L1242.4,425.0 L1245.0,425.0 L1247.7,425.0 L1250.4,425.0 L1253.1,425.0 L1255.8,425.0 L1258.5,425.0 L1261.2,425.0 L1263.8,425.0 L1266.5,425.0 L1269.2,425.0 L1271.9,425.0 L1274.6,425.0 L1277.2,425.0 L1279.9,425.0 L1282.6,425.0 L1285.3,425.0 L1288.0,425.0 L1290.7,425.0 L1293.3,425.0 L1296.0,425.0 L1298.7,425.0 L1301.4,425.0 L1304.1,425.0 L1306.8,425.0 L1309.5,425.0 L1312.1,425.0 L1314.8,425.0 L1317.5,425.0 L1320.2,425.0 L1322.9,425.0 L1325.5,425.0 L1328.2,425.0 L1330.9,425.0 L1333.6,425.0 L1336.3,425.0 L1339.0,425.0 L1341.7,425.0" fill="none" stroke="#CBC759" stroke-opacity="0.8" stroke-width="3.0" stroke-linejoin="round"/>
<path d="M987.4,422.8 L990.1,423.1 L992.8,423.3 L995.5,423.5 L998.2,423.7 L1000.9,423.9 L1003.5,424.0 L1006.2,424.2 L1008.9,424.3 L1011.6,424.4 L1014.3,424.5 L1017.0,424.6 L1019.6,424.7 L1022.3,424.8 L1025.0,424.9 L1027.7,425.0 L1030.4,425.0 L1033.1,425.1 L1035.8,425.2 L1038.4,425.2 L1041.1,425.3 L1043.8,425.3 L1046.5,425.4 L1049.2,425.4 L1051.8,425.4 L1054.5,425.5 L1057.2,425.5 L1059.9,425.5 L1062.6,425.6 L1065.3,425.6 L1068.0,425.6 L1070.6,425.6 L1073.3,425.6 L1076.0,425.6 L1078.7,425.6 L1081.4,425.6 L1084.0,425.6 L1086.7,425.6 L1089.4,425.6 L1092.1,425.6 L1094.8,425.6 L1097.5,425.6 L1100.2,425.6 L1102.8,425.6 L1105.5,425.6 L1108.2,425.5 L1110.9,425.5 L1113.6,425.5 L1116.2,425.5 L1118.9,425.5 L1121.6,425.4 L1124.3,425.4 L1127.0,425.4 L1129.7,425.4 L1132.3,425.3 L1135.0,425.3 L1137.7,425.3 L1140.4,425.3 L1143.1,425.3 L1145.8,425.3 L1148.5,425.2 L1151.1,425.2 L1153.8,425.2 L1156.5,425.2 L1159.2,425.2 L1161.9,425.2 L1164.5,425.2 L1167.2,425.1 L1169.9,425.1 L1172.6,425.1 L1175.3,425.1 L1178.0,425.1 L1180.7,425.1 L1183.3,425.1 L1186.0,425.1 L1188.7,425.1 L1191.4,425.1 L1194.1,425.1 L1196.8,425.1 L1199.4,425.1 L1202.1,425.1 L1204.8,425.1 L1207.5,425.1 L1210.2,425.1 L1212.8,425.1 L1215.5,425.1 L1218.2,425.1 L1220.9,425.1 L1223.6,425.1 L1226.3,425.1 L1229.0,425.1 L1231.6,425.1 L1234.3,425.1 L1237.0,425.1 L1239.7,425.1 L1242.4,425.1 L1245.0,425.1 L1247.7,425.1 L1250.4,425.1 L1253.1,425.1 L1255.8,425.1 L1258.5,425.1 L1261.2,425.1 L1263.8,425.1 L1266.5,425.1 L1269.2,425.1 L1271.9,425.1 L1274.6,425.1 L1277.2,425.1 L1279.9,425.1 L1282.6,425.1 L1285.3,425.1 L1288.0,425.1 L1290.7,425.1 L1293.3,425.1 L1296.0,425.1 L1298.7,425.1 L1301.4,425.1 L1304.1,425.1 L1306.8,425.1 L1309.5,425.1 L1312.1,425.1 L1314.8,425.1 L1317.5,425.1 L1320.2,425.1 L1322.9,425.1 L1325.5,425.1 L1328.2,425.1 L1330.9,425.1 L1333.6,425.1 L1336.3,425.1 L1339.0,425.1 L1341.7,425.1" fill="none" stroke="#26B18B" stroke-opacity="0.8" stroke-width="3.0" stroke-linejoin="round"/>
<path d="M987.4,422.1 L990.1,422.4 L992.8,422.6 L995.5,422.8 L998.2,423.0 L1000.9,423.2 L1003.5,423.4 L1006.2,423.5 L1008.9,423.6 L1011.6,423.8 L1014.3,423.9 L1017.0,424.0 L1019.6,424.1 L1022.3,424.2 L1025.0,424.2 L1027.7,424.3 L1030.4,424.4 L1033.1,424.4 L1035.8,424.5 L1038.4,424.6 L1041.1,424.6 L1043.8,424.7 L1046.5,424.7 L1049.2,424.7 L1051.8,424.8 L1054.5,424.8 L1057.2,424.8 L1059.9,424.9 L1062.6,424.9 L1065.3,424.9 L1068.0,424.9 L1070.6,424.9 L1073.3,425.0 L1076.0,425.0 L1078.7,425.0 L1081.4,425.0 L1084.0,425.0 L1086.7,425.0 L1089.4,425.0 L1092.1,425.0 L1094.8,424.9 L1097.5,424.9 L1100.2,424.9 L1102.8,424.9 L1105.5,424.9 L1108.2,424.9 L1110.9,424.9 L1113.6,424.8 L1116.2,424.8 L1118.9,424.8 L1121.6,424.8 L1124.3,424.7 L1127.0,424.7 L1129.7,424.7 L1132.3,424.7 L1135.0,424.7 L1137.7,424.6 L1140.4,424.6 L1143.1,424.6 L1145.8,424.6 L1148.5,424.6 L1151.1,424.5 L1153.8,424.5 L1156.5,424.5 L1159.2,424.5 L1161.9,424.5 L1164.5,424.5 L1167.2,424.5 L1169.9,424.5 L1172.6,424.5 L1175.3,424.4 L1178.0,424.4 L1180.7,424.4 L1183.3,424.4 L1186.0,424.4 L1188.7,424.4 L1191.4,424.4 L1194.1,424.4 L1196.8,424.4 L1199.4,424.4 L1202.1,424.4 L1204.8,424.4 L1207.5,424.4 L1210.2,424.4 L1212.8,424.4 L1215.5,424.4 L1218.2,424.4 L1220.9,424.4 L1223.6,424.4 L1226.3,424.4 L1229.0,424.4 L1231.6,424.4 L1234.3,424.4 L1237.0,424.4 L1239.7,424.4 L1242.4,424.4 L1245.0,424.4 L1247.7,424.4 L1250.4,424.4 L1253.1,424.4 L1255.8,424.4 L1258.5,424.4 L1261.2,424.4 L1263.8,424.4 L1266.5,424.4 L1269.2,424.4 L1271.9,424.4 L1274.6,424.4 L1277.2,424.4 L1279.9,424.4 L1282.6,424.4 L1285.3,424.4 L1288.0,424.4 L1290.7,424.4 L1293.3,424.4 L1296.0,424.4 L1298.7,424.4 L1301.4,424.4 L1304.1,424.4 L1306.8,424.4 L1309.5,424.4 L1312.1,424.4 L1314.8,424.4 L1317.5,424.4 L1320.2,424.4 L1322.9,424.4 L1325.5,424.4 L1328.2,424.4 L1330.9,424.4 L1333.6,424.4 L1336.3,424.4 L1339.0,424.4 L1341.7,424.4" fill="none" stroke="#26B18B" stroke-opacity="0.8" stroke-width="3.0" stroke-linejoin="round"/>
<path d="M987.4,422.8 L990.1,423.1 L992.8,423.3 L995.5,423.5 L998.2,423.7 L1000.9,423.9 L1003.5,424.1 L1006.2,424.2 L1008.9,424.3 L1011.6,424.5 L1014.3,424.6 L1017.0,424.7 L1019.6,424.8 L1022.3,424.9 L1025.0,424.9 L1027.7,425.0 L1030.4,425.1 L1033.1,425.1 L1035.8,425.2 L1038.4,425.3 L1041.1,425.3 L1043.8,425.4 L1046.5,425.4 L1049.2,425.4 L1051.8,425.5 L1054.5,425.5 L1057.2,425.5 L1059.9,425.6 L1062.6,425.6 L1065.3,425.6 L1068.0,425.6 L1070.6,425.6 L1073.3,425.7 L1076.0,425.7 L1078.7,425.7 L1081.4,425.7 L1084.0,425.7 L1086.7,425.7 L1089.4,425.7 L1092.1,425.7 L1094.8,425.6 L1097.5,425.6 L1100.2,425.6 L1102.8,425.6 L1105.5,425.6 L1108.2,425.6 L1110.9,425.5 L1113.6,425.5 L1116.2,425.5 L1118.9,425.5 L1121.6,425.5 L1124.3,425.4 L1127.0,425.4 L1129.7,425.4 L1132.3,425.4 L1135.0,425.4 L1137.7,425.3 L1140.4,425.3 L1143.1,425.3 L1145.8,425.3 L1148.5,425.3 L1151.1,425.2 L1153.8,425.2 L1156.5,425.2 L1159.2,425.2 L1161.9,425.2 L1164.5,425.2 L1167.2,425.2 L1169.9,425.2 L1172.6,425.2 L1175.3,425.1 L1178.0,425.1 L1180.7,425.1 L1183.3,425.1 L1186.0,425.1 L1188.7,425.1 L1191.4,425.1 L1194.1,425.1 L1196.8,425.1 L1199.4,425.1 L1202.1,425.1 L1204.8,425.1 L1207.5,425.1 L1210.2,425.1 L1212.8,425.1 L1215.5,425.1 L1218.2,425.1 L1220.9,425.1 L1223.6,425.1 L1226.3,425.1 L1229.0,425.1 L1231.6,425.1 L1234.3,425.1 L1237.0,425.1 L1239.7,425.1 L1242.4,425.1 L1245.0,425.1 L1247.7,425.1 L1250.4,425.1 L1253.1,425.1 L1255.8,425.1 L1258.5,425.1 L1261.2,425.1 L1263.8,425.1 L1266.5,425.1 L1269.2,425.1 L1271.9,425.1 L1274.6,425.1 L1277.2,425.1 L1279.9,425.1 L1282.6,425.1 L1285.3,425.1 L1288.0,425.1 L1290.7,425.1 L1293.3,425.1 L1296.0,425.1 L1298.7,425.1 L1301.4,425.1 L1304.1,425.1 L1306.8,425.1 L1309.5,425.1 L1312.1,425.1 L1314.8,425.1 L1317.5,425.1 L1320.2,425.1 L1322.9,425.1 L1325.5,425.1 L1328.2,425.1 L1330.9,425.1 L1333.6,425.1 L1336.3,425.1 L1339.0,425.1 L1341.7,425.1" fill="none" stroke="#26B18B" stroke-opacity="0.8" stroke-width="3.0" stroke-linejoin="round"/>
<path d="M987.4,424.3 L990.1,424.3 L992.8,424.4 L995.5,424.5 L998.2,424.6 L1000.9,424.6 L1003.5,424.7 L1006.2,424.7 L1008.9,424.8 L1011.6,424.8 L1014.3,424.9 L1017.0,424.9 L1019.6,424.9 L1022.3,425.0 L1025.0,425.0 L1027.7,425.1 L1030.4,425.1 L1033.1,425.1 L1035.8,425.2 L1038.4,425.2 L1041.1,425.2 L1043.8,425.2 L1046.5,425.3 L1049.2,425.3 L1051.8,425.3 L1054.5,425.3 L1057.2,425.4 L1059.9,425.4 L1062.6,425.4 L1065.3,425.4 L1068.0,425.4 L1070.6,425.4 L1073.3,425.4 L1076.0,425.4 L1078.7,425.4 L1081.4,425.4 L1084.0,425.4 L1086.7,425.4 L1089.4,425.4 L1092.1,425.4 L1094.8,425.4 L1097.5,425.4 L1100.2,425.4 L1102.8,425.3 L1105.5,425.3 L1108.2,425.3 L1110.9,425.3 L1113.6,425.3 L1116.2,425.2 L1118.9,425.2 L1121.6,425.2 L1124.3,425.2 L1127.0,425.2 L1129.7,425.1 L1132.3,425.1 L1135.0,425.1 L1137.7,425.1 L1140.4,425.0 L1143.1,425.0 L1145.8,425.0 L1148.5,425.0 L1151.1,425.0 L1153.8,425.0 L1156.5,424.9 L1159.2,424.9 L1161.9,424.9 L1164.5,424.9 L1167.2,424.9 L1169.9,424.9 L1172.6,424.9 L1175.3,424.9 L1178.0,424.9 L1180.7,424.9 L1183.3,424.9 L1186.0,424.8 L1188.7,424.8 L1191.4,424.8 L1194.1,424.8 L1196.8,424.8 L1199.4,424.8 L1202.1,424.8 L1204.8,424.8 L1207.5,424.8 L1210.2,424.8 L1212.8,424.8 L1215.5,424.8 L1218.2,424.8 L1220.9,424.8 L1223.6,424.8 L1226.3,424.8 L1229.0,424.8 L1231.6,424.8 L1234.3,424.8 L1237.0,424.8 L1239.7,424.8 L1242.4,424.8 L1245.0,424.8 L1247.7,424.8 L1250.4,424.8 L1253.1,424.8 L1255.8,424.8 L1258.5,424.8 L1261.2,424.8 L1263.8,424.8 L1266.5,424.8 L1269.2,424.8 L1271.9,424.8 L1274.6,424.8 L1277.2,424.8 L1279.9,424.8 L1282.6,424.8 L1285.3,424.8 L1288.0,424.8 L1290.7,424.8 L1293.3,424.8 L1296.0,424.8 L1298.7,424.8 L1301.4,424.8 L1304.1,424.8 L1306.8,424.8 L1309.5,424.8 L1312.1,424.8 L1314.8,424.8 L1317.5,424.8 L1320.2,424.8 L1322.9,424.8 L1325.5,424.8 L1328.2,424.8 L1330.9,424.8 L1333.6,424.8 L1336.3,424.8 L1339.0,424.8 L1341.7,424.8" fill="none" stroke="#E7298A" stroke-opacity="0.8" stroke-width="3.0" stroke-linejoin="round"/>
<path d="M987.4,423.7 L990.1,423.7 L992.8,423.8 L995.5,423.9 L998.2,423.9 L1000.9,424.0 L1003.5,424.1 L1006.2,424.1 L1008.9,424.2 L1011.6,424.2 L1014.3,424.3 L1017.0,424.3 L1019.6,424.3 L1022.3,424.4 L1025.0,424.4 L1027.7,424.5 L1030.4,424.5 L1033.1,424.5 L1035.8,424.6 L1038.4,424.6 L1041.1,424.6 L1043.8,424.6 L1046.5,424.7 L1049.2,424.7 L1051.8,424.7 L1054.5,424.7 L1057.2,424.8 L1059.9,424.8 L1062.6,424.8 L1065.3,424.8 L1068.0,424.8 L1070.6,424.8 L1073.3,424.8 L1076.0,424.8 L1078.7,424.8 L1081.4,424.8 L1084.0,424.8 L1086.7,424.8 L1089.4,424.8 L1092.1,424.8 L1094.8,424.8 L1097.5,424.8 L1100.2,424.8 L1102.8,424.7 L1105.5,424.7 L1108.2,424.7 L1110.9,424.7 L1113.6,424.7 L1116.2,424.6 L1118.9,424.6 L1121.6,424.6 L1124.3,424.6 L1127.0,424.5 L1129.7,424.5 L1132.3,424.5 L1135.0,424.5 L1137.7,424.5 L1140.4,424.4 L1143.1,424.4 L1145.8,424.4 L1148.5,424.4 L1151.1,424.4 L1153.8,424.4 L1156.5,424.3 L1159.2,424.3 L1161.9,424.3 L1164.5,424.3 L1167.2,424.3 L1169.9,424.3 L1172.6,424.3 L1175.3,424.3 L1178.0,424.3 L1180.7,424.3 L1183.3,424.2 L1186.0,424.2 L1188.7,424.2 L1191.4,424.2 L1194.1,424.2 L1196.8,424.2 L1199.4,424.2 L1202.1,424.2 L1204.8,424.2 L1207.5,424.2 L1210.2,424.2 L1212.8,424.2 L1215.5,424.2 L1218.2,424.2 L1220.9,424.2 L1223.6,424.2 L1226.3,424.2 L1229.0,424.2 L1231.6,424.2 L1234.3,424.2 L1237.0,424.2 L1239.7,424.2 L1242.4,424.2 L1245.0,424.2 L1247.7,424.2 L1250.4,424.2 L1253.1,424.2 L1255.8,424.2 L1258.5,424.2 L1261.2,424.2 L1263.8,424.2 L1266.5,424.2 L1269.2,424.2 L1271.9,424.2 L1274.6,424.2 L1277.2,424.2 L1279.9,424.2 L1282.6,424.2 L1285.3,424.2 L1288.0,424.2 L1290.7,424.2 L1293.3,424.2 L1296.0,424.2 L1298.7,424.2 L1301.4,424.2 L1304.1,424.2 L1306.8,424.2 L1309.5,424.2 L1312.1,424.2 L1314.8,424.2 L1317.5,424.2 L1320.2,424.2 L1322.9,424.2 L1325.5,424.2 L1328.2,424.2 L1330.9,424.2 L1333.6,424.2 L1336.3,424.2 L1339.0,424.2 L1341.7,424.2" fill="none" stroke="#E7298A" stroke-opacity="0.8" stroke-width="3.0" stroke-linejoin="round"/>
<path d="M987.4,423.2 L990.1,423.3 L992.8,423.3 L995.5,423.4 L998.2,423.5 L1000.9,423.5 L1003.5,423.6 L1006.2,423.6 L1008.9,423.7 L1011.6,423.7 L1014.3,423.8 L1017.0,423.8 L1019.6,423.9 L1022.3,423.9 L1025.0,423.9 L1027.7,424.0 L1030.4,424.0 L1033.1,424.0 L1035.8,424.1 L1038.4,424.1 L1041.1,424.1 L1043.8,424.2 L1046.5,424.2 L1049.2,424.2 L1051.8,424.2 L1054.5,424.3 L1057.2,424.3 L1059.9,424.3 L1062.6,424.3 L1065.3,424.3 L1068.0,424.3 L1070.6,424.3 L1073.3,424.4 L1076.0,424.4 L1078.7,424.4 L1081.4,424.4 L1084.0,424.3 L1086.7,424.3 L1089.4,424.3 L1092.1,424.3 L1094.8,424.3 L1097.5,424.3 L1100.2,424.3 L1102.8,424.3 L1105.5,424.2 L1108.2,424.2 L1110.9,424.2 L1113.6,424.2 L1116.2,424.2 L1118.9,424.1 L1121.6,424.1 L1124.3,424.1 L1127.0,424.1 L1129.7,424.1 L1132.3,424.0 L1135.0,424.0 L1137.7,424.0 L1140.4,424.0 L1143.1,423.9 L1145.8,423.9 L1148.5,423.9 L1151.1,423.9 L1153.8,423.9 L1156.5,423.9 L1159.2,423.9 L1161.9,423.8 L1164.5,423.8 L1167.2,423.8 L1169.9,423.8 L1172.6,423.8 L1175.3,423.8 L1178.0,423.8 L1180.7,423.8 L1183.3,423.8 L1186.0,423.8 L1188.7,423.8 L1191.4,423.8 L1194.1,423.8 L1196.8,423.8 L1199.4,423.7 L1202.1,423.7 L1204.8,423.7 L1207.5,423.7 L1210.2,423.7 L1212.8,423.7 L1215.5,423.7 L1218.2,423.7 L1220.9,423.7 L1223.6,423.7 L1226.3,423.7 L1229.0,423.7 L1231.6,423.7 L1234.3,423.7 L1237.0,423.7 L1239.7,423.7 L1242.4,423.7 L1245.0,423.7 L1247.7,423.7 L1250.4,423.7 L1253.1,423.7 L1255.8,423.7 L1258.5,423.7 L1261.2,423.7 L1263.8,423.7 L1266.5,423.7 L1269.2,423.7 L1271.9,423.7 L1274.6,423.7 L1277.2,423.7 L1279.9,423.7 L1282.6,423.7 L1285.3,423.7 L1288.0,423.7 L1290.7,423.7 L1293.3,423.7 L1296.0,423.7 L1298.7,423.7 L1301.4,423.7 L1304.1,423.7 L1306.8,423.7 L1309.5,423.7 L1312.1,423.7 L1314.8,423.7 L1317.5,423.7 L1320.2,423.7 L1322.9,423.7 L1325.5,423.7 L1328.2,423.7 L1330.9,423.7 L1333.6,423.7 L1336.3,423.7 L1339.0,423.7 L1341.7,423.7" fill="none" stroke="#E7298A" stroke-opacity="0.8" stroke-width="3.0" stroke-linejoin="round"/>
<path d="M1404.5,423.2 L1406.8,423.4 L1409.2,423.5 L1411.6,423.6 L1414.0,423.7 L1416.3,423.8 L1418.7,423.9 L1421.1,423.9 L1423.5,424.0 L1425.8,424.1 L1428.2,424.2 L1430.6,424.2 L1433.0,424.3 L1435.4,424.3 L1437.7,424.4 L1440.1,424.4 L1442.5,424.5 L1444.9,424.5 L1447.2,424.6 L1449.6,424.6 L1452.0,424.6 L1454.4,424.7 L1456.7,424.7 L1459.1,424.8 L1461.5,424.8 L1463.9,424.8 L1466.3,424.8 L1468.6,424.9 L1471.0,424.9 L1473.4,424.9 L1475.8,424.9 L1478.1,424.9 L1480.5,425.0 L1482.9,425.0 L1485.3,425.0 L1487.7,425.0 L1490.0,425.0 L1492.4,425.0 L1494.8,425.0 L1497.2,425.0 L1499.5,425.0 L1501.9,425.0 L1504.3,425.0 L1506.7,425.0 L1509.0,424.9 L1511.4,424.9 L1513.8,424.9 L1516.2,424.9 L1518.6,424.9 L1520.9,424.8 L1523.3,424.8 L1525.7,424.8 L1528.1,424.7 L1530.4,424.7 L1532.8,424.6 L1535.2,424.6 L1537.6,424.5 L1539.9,424.4 L1542.3,424.3 L1544.7,424.2 L1547.1,424.1 L1549.5,424.0 L1551.8,423.8 L1554.2,423.7 L1556.6,423.5 L1559.0,423.2 L1561.3,423.0 L1563.7,422.6 L1566.1,422.3 L1568.5,421.9 L1570.9,421.4 L1573.2,420.8 L1575.6,420.1 L1578.0,419.4 L1580.4,418.5 L1582.7,417.5 L1585.1,416.3 L1587.5,415.0 L1589.9,413.4 L1592.2,411.7 L1594.6,409.7 L1597.0,407.5 L1599.4,405.0 L1601.8,402.2 L1604.1,399.1 L1606.5,395.7 L1608.9,392.0 L1611.3,388.0 L1613.6,383.6 L1616.0,378.8 L1618.4,373.8 L1620.8,368.5 L1623.2,362.9 L1625.5,357.1 L1627.9,351.0 L1630.3,344.8 L1632.7,338.5 L1635.0,332.2 L1637.4,325.8 L1639.8,319.4 L1642.2,313.1 L1644.5,306.9 L1646.9,300.9 L1649.3,295.0 L1651.7,289.4 L1654.1,284.0 L1656.4,279.3 L1658.8,274.7 L1661.2,270.2 L1663.6,265.8 L1665.9,261.5 L1668.3,257.3 L1670.7,253.2 L1673.1,249.5 L1675.4,246.1 L1677.8,243.1 L1680.2,240.3 L1682.6,237.8 L1685.0,235.7 L1687.3,233.7 L1689.7,232.0 L1692.1,230.6 L1694.5,229.3 L1696.8,228.1 L1699.2,227.1 L1701.6,226.3 L1704.0,225.5 L1706.4,224.8 L1708.7,224.2 L1711.1,223.6 L1713.5,223.1 L1715.9,222.7 L1718.2,222.3 L1720.6,221.9 L1723.0,221.6 L1725.4,221.3 L1727.7,221.1 L1730.1,220.9 L1732.5,220.6 L1734.9,220.4 L1737.3,220.2 L1739.6,220.1 L1742.0,219.9 L1744.4,219.7 L1746.8,219.6 L1749.1,219.5 L1751.5,219.4 L1753.9,219.3 L1756.3,219.2 L1758.7,219.1" fill="none" stroke="#45C3EE" stroke-opacity="0.8" stroke-width="3.0" stroke-linejoin="round"/>
<path d="M1404.5,423.2 L1406.8,423.4 L1409.2,423.5 L1411.6,423.6 L1414.0,423.7 L1416.3,423.8 L1418.7,423.9 L1421.1,423.9 L1423.5,424.0 L1425.8,424.1 L1428.2,424.2 L1430.6,424.2 L1433.0,424.3 L1435.4,424.3 L1437.7,424.4 L1440.1,424.4 L1442.5,424.5 L1444.9,424.5 L1447.2,424.6 L1449.6,424.6 L1452.0,424.6 L1454.4,424.7 L1456.7,424.7 L1459.1,424.8 L1461.5,424.8 L1463.9,424.8 L1466.3,424.8 L1468.6,424.9 L1471.0,424.9 L1473.4,424.9 L1475.8,424.9 L1478.1,424.9 L1480.5,425.0 L1482.9,425.0 L1485.3,425.0 L1487.7,425.0 L1490.0,425.0 L1492.4,425.0 L1494.8,425.0 L1497.2,425.0 L1499.5,425.0 L1501.9,425.0 L1504.3,425.0 L1506.7,425.0 L1509.0,424.9 L1511.4,424.9 L1513.8,424.9 L1516.2,424.9 L1518.6,424.9 L1520.9,424.8 L1523.3,424.8 L1525.7,424.8 L1528.1,424.7 L1530.4,424.7 L1532.8,424.6 L1535.2,424.6 L1537.6,424.5 L1539.9,424.4 L1542.3,424.3 L1544.7,424.2 L1547.1,424.1 L1549.5,424.0 L1551.8,423.8 L1554.2,423.7 L1556.6,423.5 L1559.0,423.2 L1561.3,423.0 L1563.7,422.6 L1566.1,422.3 L1568.5,421.9 L1570.9,421.4 L1573.2,420.8 L1575.6,420.1 L1578.0,419.4 L1580.4,418.5 L1582.7,417.5 L1585.1,416.3 L1587.5,414.9 L1589.9,413.4 L1592.2,411.7 L1594.6,409.7 L1597.0,407.5 L1599.4,405.0 L1601.8,402.2 L1604.1,399.1 L1606.5,395.7 L1608.9,391.9 L1611.3,387.8 L1613.6,383.4 L1616.0,378.7 L1618.4,373.6 L1620.8,368.3 L1623.2,362.7 L1625.5,356.8 L1627.9,350.8 L1630.3,344.5 L1632.7,338.2 L1635.0,331.8 L1637.4,325.4 L1639.8,319.0 L1642.2,312.6 L1644.5,306.4 L1646.9,300.4 L1649.3,294.5 L1651.7,288.8 L1654.1,283.4 L1656.4,278.7 L1658.8,274.1 L1661.2,269.6 L1663.6,265.1 L1665.9,260.8 L1668.3,256.6 L1670.7,252.5 L1673.1,248.8 L1675.4,245.4 L1677.8,242.4 L1680.2,239.6 L1682.6,237.1 L1685.0,234.9 L1687.3,233.0 L1689.7,231.3 L1692.1,229.8 L1694.5,228.5 L1696.8,227.3 L1699.2,226.3 L1701.6,225.4 L1704.0,224.7 L1706.4,223.9 L1708.7,223.3 L1711.1,222.8 L1713.5,222.3 L1715.9,221.8 L1718.2,221.4 L1720.6,221.1 L1723.0,220.8 L1725.4,220.5 L1727.7,220.2 L1730.1,220.0 L1732.5,219.8 L1734.9,219.6 L1737.3,219.4 L1739.6,219.2 L1742.0,219.1 L1744.4,218.9 L1746.8,218.8 L1749.1,218.7 L1751.5,218.6 L1753.9,218.5 L1756.3,218.4 L1758.7,218.3" fill="none" stroke="#45C3EE" stroke-opacity="0.8" stroke-width="3.0" stroke-linejoin="round"/>
<path d="M1404.5,423.2 L1406.8,423.4 L1409.2,423.5 L1411.6,423.6 L1414.0,423.7 L1416.3,423.8 L1418.7,423.9 L1421.1,423.9 L1423.5,424.0 L1425.8,424.1 L1428.2,424.2 L1430.6,424.2 L1433.0,424.3 L1435.4,424.3 L1437.7,424.4 L1440.1,424.4 L1442.5,424.5 L1444.9,424.5 L1447.2,424.6 L1449.6,424.6 L1452.0,424.6 L1454.4,424.7 L1456.7,424.7 L1459.1,424.8 L1461.5,424.8 L1463.9,424.8 L1466.3,424.8 L1468.6,424.9 L1471.0,424.9 L1473.4,424.9 L1475.8,424.9 L1478.1,424.9 L1480.5,425.0 L1482.9,425.0 L1485.3,425.0 L1487.7,425.0 L1490.0,425.0 L1492.4,425.0 L1494.8,425.0 L1497.2,425.0 L1499.5,425.0 L1501.9,425.0 L1504.3,425.0 L1506.7,425.0 L1509.0,424.9 L1511.4,424.9 L1513.8,424.9 L1516.2,424.9 L1518.6,424.9 L1520.9,424.8 L1523.3,424.8 L1525.7,424.8 L1528.1,424.7 L1530.4,424.7 L1532.8,424.6 L1535.2,424.6 L1537.6,424.5 L1539.9,424.4 L1542.3,424.3 L1544.7,424.2 L1547.1,424.1 L1549.5,424.0 L1551.8,423.8 L1554.2,423.7 L1556.6,423.4 L1559.0,423.2 L1561.3,422.9 L1563.7,422.6 L1566.1,422.2 L1568.5,421.8 L1570.9,421.3 L1573.2,420.7 L1575.6,420.0 L1578.0,419.2 L1580.4,418.3 L1582.7,417.2 L1585.1,415.9 L1587.5,414.5 L1589.9,412.9 L1592.2,411.0 L1594.6,408.9 L1597.0,406.6 L1599.4,403.9 L1601.8,400.9 L1604.1,397.6 L1606.5,393.9 L1608.9,389.9 L1611.3,385.5 L1613.6,380.7 L1616.0,375.6 L1618.4,370.1 L1620.8,364.4 L1623.2,358.3 L1625.5,351.9 L1627.9,345.3 L1630.3,338.6 L1632.7,331.7 L1635.0,324.7 L1637.4,317.7 L1639.8,310.8 L1642.2,303.9 L1644.5,297.2 L1646.9,290.6 L1649.3,284.2 L1651.7,278.1 L1654.1,272.3 L1656.4,267.0 L1658.8,261.9 L1661.2,257.0 L1663.6,252.3 L1665.9,247.7 L1668.3,243.4 L1670.7,239.3 L1673.1,235.5 L1675.4,232.1 L1677.8,228.9 L1680.2,226.0 L1682.6,223.4 L1685.0,221.1 L1687.3,218.9 L1689.7,217.0 L1692.1,215.2 L1694.5,213.6 L1696.8,212.2 L1699.2,210.9 L1701.6,209.7 L1704.0,208.7 L1706.4,207.8 L1708.7,207.1 L1711.1,206.4 L1713.5,205.9 L1715.9,205.4 L1718.2,205.1 L1720.6,204.8 L1723.0,204.5 L1725.4,204.2 L1727.7,204.0 L1730.1,203.9 L1732.5,203.8 L1734.9,203.7 L1737.3,203.6 L1739.6,203.6 L1742.0,203.6 L1744.4,203.6 L1746.8,203.7 L1749.1,203.7 L1751.5,203.7 L1753.9,203.7 L1756.3,203.7 L1758.7,203.7" fill="none" stroke="#45C3EE" stroke-opacity="0.8" stroke-width="3.0" stroke-linejoin="round"/>
<path d="M1404.5,423.2 L1406.8,423.4 L1409.2,423.5 L1411.6,423.6 L1414.0,423.7 L1416.3,423.8 L1418.7,423.9 L1421.1,423.9 L1423.5,424.0 L1425.8,424.1 L1428.2,424.2 L1430.6,424.2 L1433.0,424.3 L1435.4,424.3 L1437.7,424.4 L1440.1,424.4 L1442.5,424.5 L1444.9,424.5 L1447.2,424.6 L1449.6,424.6 L1452.0,424.6 L1454.4,424.7 L1456.7,424.7 L1459.1,424.8 L1461.5,424.8 L1463.9,424.8 L1466.3,424.8 L1468.6,424.9 L1471.0,424.9 L1473.4,424.9 L1475.8,424.9 L1478.1,424.9 L1480.5,425.0 L1482.9,425.0 L1485.3,425.0 L1487.7,425.0 L1490.0,425.0 L1492.4,425.0 L1494.8,425.0 L1497.2,425.0 L1499.5,425.0 L1501.9,425.0 L1504.3,425.0 L1506.7,425.0 L1509.0,424.9 L1511.4,424.9 L1513.8,424.9 L1516.2,424.9 L1518.6,424.9 L1520.9,424.8 L1523.3,424.8 L1525.7,424.8 L1528.1,424.7 L1530.4,424.7 L1532.8,424.6 L1535.2,424.6 L1537.6,424.5 L1539.9,424.4 L1542.3,424.3 L1544.7,424.2 L1547.1,424.1 L1549.5,424.0 L1551.8,423.8 L1554.2,423.7 L1556.6,423.4 L1559.0,423.2 L1561.3,422.9 L1563.7,422.6 L1566.1,422.3 L1568.5,421.8 L1570.9,421.3 L1573.2,420.7 L1575.6,420.1 L1578.0,419.3 L1580.4,418.4 L1582.7,417.3 L1585.1,416.1 L1587.5,414.8 L1589.9,413.2 L1592.2,411.4 L1594.6,409.4 L1597.0,407.1 L1599.4,404.5 L1601.8,401.7 L1604.1,398.5 L1606.5,395.0 L1608.9,391.1 L1611.3,386.9 L1613.6,382.4 L1616.0,377.5 L1618.4,372.3 L1620.8,366.7 L1623.2,360.9 L1625.5,354.9 L1627.9,348.6 L1630.3,342.2 L1632.7,335.6 L1635.0,329.0 L1637.4,322.3 L1639.8,315.7 L1642.2,309.1 L1644.5,302.7 L1646.9,296.4 L1649.3,290.3 L1651.7,284.5 L1654.1,278.9 L1656.4,273.9 L1658.8,269.1 L1661.2,264.4 L1663.6,259.9 L1665.9,255.4 L1668.3,251.2 L1670.7,247.1 L1673.1,243.4 L1675.4,239.9 L1677.8,236.8 L1680.2,234.0 L1682.6,231.5 L1685.0,229.2 L1687.3,227.2 L1689.7,225.4 L1692.1,223.8 L1694.5,222.4 L1696.8,221.1 L1699.2,220.0 L1701.6,219.0 L1704.0,218.1 L1706.4,217.3 L1708.7,216.6 L1711.1,216.1 L1713.5,215.5 L1715.9,215.1 L1718.2,214.7 L1720.6,214.4 L1723.0,214.1 L1725.4,213.8 L1727.7,213.6 L1730.1,213.4 L1732.5,213.2 L1734.9,213.0 L1737.3,212.9 L1739.6,212.8 L1742.0,212.7 L1744.4,212.6 L1746.8,212.6 L1749.1,212.5 L1751.5,212.5 L1753.9,212.4 L1756.3,212.4 L1758.7,212.3" fill="none" stroke="#CBC759" stroke-opacity="0.8" stroke-width="3.0" stroke-linejoin="round"/>
<path d="M1404.5,423.2 L1406.8,423.4 L1409.2,423.5 L1411.6,423.6 L1414.0,423.7 L1416.3,423.8 L1418.7,423.9 L1421.1,423.9 L1423.5,424.0 L1425.8,424.1 L1428.2,424.2 L1430.6,424.2 L1433.0,424.3 L1435.4,424.3 L1437.7,424.4 L1440.1,424.4 L1442.5,424.5 L1444.9,424.5 L1447.2,424.6 L1449.6,424.6 L1452.0,424.6 L1454.4,424.7 L1456.7,424.7 L1459.1,424.8 L1461.5,424.8 L1463.9,424.8 L1466.3,424.8 L1468.6,424.9 L1471.0,424.9 L1473.4,424.9 L1475.8,424.9 L1478.1,424.9 L1480.5,425.0 L1482.9,425.0 L1485.3,425.0 L1487.7,425.0 L1490.0,425.0 L1492.4,425.0 L1494.8,425.0 L1497.2,425.0 L1499.5,425.0 L1501.9,425.0 L1504.3,425.0 L1506.7,425.0 L1509.0,424.9 L1511.4,424.9 L1513.8,424.9 L1516.2,424.9 L1518.6,424.9 L1520.9,424.8 L1523.3,424.8 L1525.7,424.8 L1528.1,424.7 L1530.4,424.7 L1532.8,424.6 L1535.2,424.6 L1537.6,424.5 L1539.9,424.4 L1542.3,424.3 L1544.7,424.2 L1547.1,424.1 L1549.5,424.0 L1551.8,423.8 L1554.2,423.7 L1556.6,423.4 L1559.0,423.2 L1561.3,422.9 L1563.7,422.6 L1566.1,422.2 L1568.5,421.8 L1570.9,421.3 L1573.2,420.7 L1575.6,420.1 L1578.0,419.3 L1580.4,418.4 L1582.7,417.3 L1585.1,416.1 L1587.5,414.8 L1589.9,413.2 L1592.2,411.4 L1594.6,409.4 L1597.0,407.1 L1599.4,404.5 L1601.8,401.6 L1604.1,398.4 L1606.5,394.9 L1608.9,391.0 L1611.3,386.8 L1613.6,382.3 L1616.0,377.4 L1618.4,372.1 L1620.8,366.6 L1623.2,360.7 L1625.5,354.7 L1627.9,348.4 L1630.3,341.9 L1632.7,335.3 L1635.0,328.7 L1637.4,322.0 L1639.8,315.3 L1642.2,308.8 L1644.5,302.3 L1646.9,296.0 L1649.3,289.9 L1651.7,284.0 L1654.1,278.4 L1656.4,273.4 L1658.8,268.6 L1661.2,263.9 L1663.6,259.3 L1665.9,254.9 L1668.3,250.6 L1670.7,246.5 L1673.1,242.8 L1675.4,239.4 L1677.8,236.3 L1680.2,233.5 L1682.6,230.9 L1685.0,228.6 L1687.3,226.6 L1689.7,224.8 L1692.1,223.2 L1694.5,221.7 L1696.8,220.5 L1699.2,219.3 L1701.6,218.3 L1704.0,217.4 L1706.4,216.6 L1708.7,216.0 L1711.1,215.4 L1713.5,214.9 L1715.9,214.4 L1718.2,214.0 L1720.6,213.7 L1723.0,213.4 L1725.4,213.1 L1727.7,212.9 L1730.1,212.7 L1732.5,212.5 L1734.9,212.4 L1737.3,212.2 L1739.6,212.1 L1742.0,212.1 L1744.4,212.0 L1746.8,212.0 L1749.1,211.9 L1751.5,211.9 L1753.9,211.8 L1756.3,211.8 L1758.7,211.7" fill="none" stroke="#CBC759" stroke-opacity="0.8" stroke-width="3.0" stroke-linejoin="round"/>
<path d="M1404.5,423.2 L1406.8,423.4 L1409.2,423.5 L1411.6,423.6 L1414.0,423.7 L1416.3,423.8 L1418.7,423.9 L1421.1,423.9 L1423.5,424.0 L1425.8,424.1 L1428.2,424.2 L1430.6,424.2 L1433.0,424.3 L1435.4,424.3 L1437.7,424.4 L1440.1,424.4 L1442.5,424.5 L1444.9,424.5 L1447.2,424.6 L1449.6,424.6 L1452.0,424.6 L1454.4,424.7 L1456.7,424.7 L1459.1,424.8 L1461.5,424.8 L1463.9,424.8 L1466.3,424.8 L1468.6,424.9 L1471.0,424.9 L1473.4,424.9 L1475.8,424.9 L1478.1,424.9 L1480.5,425.0 L1482.9,425.0 L1485.3,425.0 L1487.7,425.0 L1490.0,425.0 L1492.4,425.0 L1494.8,425.0 L1497.2,425.0 L1499.5,425.0 L1501.9,425.0 L1504.3,425.0 L1506.7,425.0 L1509.0,424.9 L1511.4,424.9 L1513.8,424.9 L1516.2,424.9 L1518.6,424.9 L1520.9,424.8 L1523.3,424.8 L1525.7,424.8 L1528.1,424.7 L1530.4,424.7 L1532.8,424.6 L1535.2,424.6 L1537.6,424.5 L1539.9,424.4 L1542.3,424.3 L1544.7,424.2 L1547.1,424.1 L1549.5,424.0 L1551.8,423.8 L1554.2,423.7 L1556.6,423.4 L1559.0,423.2 L1561.3,422.9 L1563.7,422.6 L1566.1,422.2 L1568.5,421.8 L1570.9,421.3 L1573.2,420.7 L1575.6,420.1 L1578.0,419.3 L1580.4,418.4 L1582.7,417.3 L1585.1,416.1 L1587.5,414.7 L1589.9,413.2 L1592.2,411.4 L1594.6,409.3 L1597.0,407.0 L1599.4,404.5 L1601.8,401.6 L1604.1,398.4 L1606.5,394.8 L1608.9,391.0 L1611.3,386.7 L1613.6,382.2 L1616.0,377.2 L1618.4,372.0 L1620.8,366.4 L1623.2,360.6 L1625.5,354.5 L1627.9,348.1 L1630.3,341.7 L1632.7,335.1 L1635.0,328.4 L1637.4,321.7 L1639.8,315.0 L1642.2,308.4 L1644.5,301.9 L1646.9,295.6 L1649.3,289.5 L1651.7,283.6 L1654.1,277.9 L1656.4,273.0 L1658.8,268.1 L1661.2,263.4 L1663.6,258.8 L1665.9,254.3 L1668.3,250.1 L1670.7,246.0 L1673.1,242.2 L1675.4,238.8 L1677.8,235.7 L1680.2,232.9 L1682.6,230.3 L1685.0,228.1 L1687.3,226.0 L1689.7,224.2 L1692.1,222.6 L1694.5,221.1 L1696.8,219.8 L1699.2,218.7 L1701.6,217.7 L1704.0,216.8 L1706.4,216.0 L1708.7,215.3 L1711.1,214.7 L1713.5,214.2 L1715.9,213.7 L1718.2,213.3 L1720.6,213.0 L1723.0,212.7 L1725.4,212.5 L1727.7,212.2 L1730.1,212.0 L1732.5,211.9 L1734.9,211.7 L1737.3,211.6 L1739.6,211.5 L1742.0,211.4 L1744.4,211.4 L1746.8,211.3 L1749.1,211.3 L1751.5,211.2 L1753.9,211.2 L1756.3,211.2 L1758.7,211.1" fill="none" stroke="#CBC759" stroke-opacity="0.8" stroke-width="3.0" stroke-linejoin="round"/>
<path d="M1404.5,422.2 L1406.8,422.4 L1409.2,422.6 L1411.6,422.8 L1414.0,423.0 L1416.3,423.1 L1418.7,423.3 L1421.1,423.4 L1423.5,423.5 L1425.8,423.7 L1428.2,423.8 L1430.6,423.9 L1433.0,423.9 L1435.4,424.0 L1437.7,424.1 L1440.1,424.2 L1442.5,424.3 L1444.9,424.3 L1447.2,424.4 L1449.6,424.4 L1452.0,424.5 L1454.4,424.5 L1456.7,424.6 L1459.1,424.6 L1461.5,424.7 L1463.9,424.7 L1466.3,424.8 L1468.6,424.8 L1471.0,424.8 L1473.4,424.8 L1475.8,424.9 L1478.1,424.9 L1480.5,424.9 L1482.9,424.9 L1485.3,424.9 L1487.7,425.0 L1490.0,425.0 L1492.4,425.0 L1494.8,425.0 L1497.2,425.0 L1499.5,425.0 L1501.9,425.0 L1504.3,425.0 L1506.7,424.9 L1509.0,424.9 L1511.4,424.9 L1513.8,424.9 L1516.2,424.9 L1518.6,424.8 L1520.9,424.8 L1523.3,424.8 L1525.7,424.8 L1528.1,424.7 L1530.4,424.7 L1532.8,424.6 L1535.2,424.6 L1537.6,424.5 L1539.9,424.4 L1542.3,424.3 L1544.7,424.2 L1547.1,424.1 L1549.5,424.0 L1551.8,423.8 L1554.2,423.6 L1556.6,423.4 L1559.0,423.2 L1561.3,422.9 L1563.7,422.6 L1566.1,422.2 L1568.5,421.8 L1570.9,421.3 L1573.2,420.7 L1575.6,420.0 L1578.0,419.2 L1580.4,418.3 L1582.7,417.3 L1585.1,416.1 L1587.5,414.7 L1589.9,413.1 L1592.2,411.3 L1594.6,409.2 L1597.0,406.9 L1599.4,404.3 L1601.8,401.4 L1604.1,398.1 L1606.5,394.5 L1608.9,390.6 L1611.3,386.3 L1613.6,381.7 L1616.0,376.7 L1618.4,371.4 L1620.8,365.7 L1623.2,359.8 L1625.5,353.6 L1627.9,347.2 L1630.3,340.6 L1632.7,333.9 L1635.0,327.2 L1637.4,320.4 L1639.8,313.6 L1642.2,306.9 L1644.5,300.4 L1646.9,293.9 L1649.3,287.7 L1651.7,281.8 L1654.1,276.0 L1656.4,271.0 L1658.8,266.1 L1661.2,261.3 L1663.6,256.6 L1665.9,252.1 L1668.3,247.8 L1670.7,243.8 L1673.1,240.0 L1675.4,236.6 L1677.8,233.4 L1680.2,230.6 L1682.6,228.0 L1685.0,225.7 L1687.3,223.6 L1689.7,221.8 L1692.1,220.1 L1694.5,218.6 L1696.8,217.3 L1699.2,216.1 L1701.6,215.0 L1704.0,214.1 L1706.4,213.2 L1708.7,212.5 L1711.1,211.9 L1713.5,211.4 L1715.9,211.0 L1718.2,210.6 L1720.6,210.3 L1723.0,210.0 L1725.4,209.7 L1727.7,209.5 L1730.1,209.3 L1732.5,209.2 L1734.9,209.0 L1737.3,208.9 L1739.6,208.8 L1742.0,208.8 L1744.4,208.8 L1746.8,208.8 L1749.1,208.8 L1751.5,208.7 L1753.9,208.7 L1756.3,208.7 L1758.7,208.6" fill="none" stroke="#26B18B" stroke-opacity="0.8" stroke-width="3.0" stroke-linejoin="round"/>
<path d="M1404.5,422.2 L1406.8,422.4 L1409.2,422.6 L1411.6,422.8 L1414.0,423.0 L1416.3,423.1 L1418.7,423.3 L1421.1,423.4 L1423.5,423.5 L1425.8,423.7 L1428.2,423.8 L1430.6,423.9 L1433.0,423.9 L1435.4,424.0 L1437.7,424.1 L1440.1,424.2 L1442.5,424.3 L1444.9,424.3 L1447.2,424.4 L1449.6,424.4 L1452.0,424.5 L1454.4,424.5 L1456.7,424.6 L1459.1,424.6 L1461.5,424.7 L1463.9,424.7 L1466.3,424.8 L1468.6,424.8 L1471.0,424.8 L1473.4,424.8 L1475.8,424.9 L1478.1,424.9 L1480.5,424.9 L1482.9,424.9 L1485.3,424.9 L1487.7,425.0 L1490.0,425.0 L1492.4,425.0 L1494.8,425.0 L1497.2,425.0 L1499.5,425.0 L1501.9,425.0 L1504.3,425.0 L1506.7,424.9 L1509.0,424.9 L1511.4,424.9 L1513.8,424.9 L1516.2,424.9 L1518.6,424.8 L1520.9,424.8 L1523.3,424.8 L1525.7,424.8 L1528.1,424.7 L1530.4,424.7 L1532.8,424.6 L1535.2,424.6 L1537.6,424.5 L1539.9,424.4 L1542.3,424.3 L1544.7,424.2 L1547.1,424.1 L1549.5,424.0 L1551.8,423.8 L1554.2,423.6 L1556.6,423.4 L1559.0,423.2 L1561.3,422.9 L1563.7,422.6 L1566.1,422.2 L1568.5,421.8 L1570.9,421.3 L1573.2,420.7 L1575.6,420.0 L1578.0,419.2 L1580.4,418.3 L1582.7,417.3 L1585.1,416.0 L1587.5,414.6 L1589.9,413.1 L1592.2,411.2 L1594.6,409.2 L1597.0,406.8 L1599.4,404.2 L1601.8,401.3 L1604.1,398.1 L1606.5,394.5 L1608.9,390.5 L1611.3,386.2 L1613.6,381.6 L1616.0,376.6 L1618.4,371.2 L1620.8,365.6 L1623.2,359.6 L1625.5,353.4 L1627.9,347.0 L1630.3,340.4 L1632.7,333.7 L1635.0,326.9 L1637.4,320.1 L1639.8,313.3 L1642.2,306.5 L1644.5,300.0 L1646.9,293.5 L1649.3,287.3 L1651.7,281.3 L1654.1,275.6 L1656.4,270.5 L1658.8,265.5 L1661.2,260.7 L1663.6,256.1 L1665.9,251.6 L1668.3,247.3 L1670.7,243.2 L1673.1,239.4 L1675.4,236.0 L1677.8,232.9 L1680.2,230.0 L1682.6,227.5 L1685.0,225.1 L1687.3,223.1 L1689.7,221.2 L1692.1,219.5 L1694.5,218.0 L1696.8,216.6 L1699.2,215.4 L1701.6,214.3 L1704.0,213.4 L1706.4,212.6 L1708.7,211.8 L1711.1,211.2 L1713.5,210.7 L1715.9,210.3 L1718.2,209.9 L1720.6,209.6 L1723.0,209.3 L1725.4,209.0 L1727.7,208.8 L1730.1,208.6 L1732.5,208.5 L1734.9,208.4 L1737.3,208.3 L1739.6,208.2 L1742.0,208.1 L1744.4,208.1 L1746.8,208.1 L1749.1,208.1 L1751.5,208.1 L1753.9,208.1 L1756.3,208.1 L1758.7,208.0" fill="none" stroke="#26B18B" stroke-opacity="0.8" stroke-width="3.0" stroke-linejoin="round"/>
<path d="M1404.5,422.2 L1406.8,422.4 L1409.2,422.6 L1411.6,422.8 L1414.0,423.0 L1416.3,423.1 L1418.7,423.3 L1421.1,423.4 L1423.5,423.5 L1425.8,423.7 L1428.2,423.8 L1430.6,423.9 L1433.0,423.9 L1435.4,424.0 L1437.7,424.1 L1440.1,424.2 L1442.5,424.3 L1444.9,424.3 L1447.2,424.4 L1449.6,424.4 L1452.0,424.5 L1454.4,424.5 L1456.7,424.6 L1459.1,424.6 L1461.5,424.7 L1463.9,424.7 L1466.3,424.8 L1468.6,424.8 L1471.0,424.8 L1473.4,424.8 L1475.8,424.9 L1478.1,424.9 L1480.5,424.9 L1482.9,424.9 L1485.3,424.9 L1487.7,425.0 L1490.0,425.0 L1492.4,425.0 L1494.8,425.0 L1497.2,425.0 L1499.5,425.0 L1501.9,425.0 L1504.3,425.0 L1506.7,424.9 L1509.0,424.9 L1511.4,424.9 L1513.8,424.9 L1516.2,424.9 L1518.6,424.8 L1520.9,424.8 L1523.3,424.8 L1525.7,424.8 L1528.1,424.7 L1530.4,424.7 L1532.8,424.6 L1535.2,424.6 L1537.6,424.5 L1539.9,424.4 L1542.3,424.3 L1544.7,424.2 L1547.1,424.1 L1549.5,424.0 L1551.8,423.8 L1554.2,423.6 L1556.6,423.4 L1559.0,423.2 L1561.3,422.9 L1563.7,422.6 L1566.1,422.2 L1568.5,421.8 L1570.9,421.3 L1573.2,420.7 L1575.6,420.0 L1578.0,419.2 L1580.4,418.3 L1582.7,417.2 L1585.1,416.0 L1587.5,414.6 L1589.9,413.0 L1592.2,411.2 L1594.6,409.1 L1597.0,406.8 L1599.4,404.2 L1601.8,401.3 L1604.1,398.0 L1606.5,394.4 L1608.9,390.4 L1611.3,386.1 L1613.6,381.5 L1616.0,376.4 L1618.4,371.1 L1620.8,365.4 L1623.2,359.4 L1625.5,353.2 L1627.9,346.8 L1630.3,340.1 L1632.7,333.4 L1635.0,326.6 L1637.4,319.7 L1639.8,312.9 L1642.2,306.2 L1644.5,299.6 L1646.9,293.1 L1649.3,286.9 L1651.7,280.9 L1654.1,275.1 L1656.4,270.0 L1658.8,265.0 L1661.2,260.2 L1663.6,255.5 L1665.9,251.0 L1668.3,246.7 L1670.7,242.6 L1673.1,238.9 L1675.4,235.4 L1677.8,232.3 L1680.2,229.5 L1682.6,226.9 L1685.0,224.6 L1687.3,222.5 L1689.7,220.6 L1692.1,218.9 L1694.5,217.4 L1696.8,216.0 L1699.2,214.8 L1701.6,213.7 L1704.0,212.7 L1706.4,211.9 L1708.7,211.2 L1711.1,210.5 L1713.5,210.0 L1715.9,209.6 L1718.2,209.2 L1720.6,208.9 L1723.0,208.6 L1725.4,208.3 L1727.7,208.1 L1730.1,208.0 L1732.5,207.8 L1734.9,207.7 L1737.3,207.6 L1739.6,207.5 L1742.0,207.5 L1744.4,207.5 L1746.8,207.5 L1749.1,207.5 L1751.5,207.5 L1753.9,207.5 L1756.3,207.4 L1758.7,207.4" fill="none" stroke="#26B18B" stroke-opacity="0.8" stroke-width="3.0" stroke-linejoin="round"/>
<path d="M1404.5,423.9 L1406.8,423.9 L1409.2,424.0 L1411.6,424.1 L1414.0,424.1 L1416.3,424.2 L1418.7,424.2 L1421.1,424.3 L1423.5,424.3 L1425.8,424.4 L1428.2,424.4 L1430.6,424.4 L1433.0,424.5 L1435.4,424.5 L1437.7,424.5 L1440.1,424.6 L1442.5,424.6 L1444.9,424.6 L1447.2,424.7 L1449.6,424.7 L1452.0,424.7 L1454.4,424.8 L1456.7,424.8 L1459.1,424.8 L1461.5,424.8 L1463.9,424.9 L1466.3,424.9 L1468.6,424.9 L1471.0,424.9 L1473.4,424.9 L1475.8,425.0 L1478.1,425.0 L1480.5,425.0 L1482.9,425.0 L1485.3,425.0 L1487.7,425.0 L1490.0,425.0 L1492.4,425.0 L1494.8,425.0 L1497.2,425.0 L1499.5,425.0 L1501.9,425.0 L1504.3,425.0 L1506.7,425.0 L1509.0,425.0 L1511.4,424.9 L1513.8,424.9 L1516.2,424.9 L1518.6,424.9 L1520.9,424.8 L1523.3,424.8 L1525.7,424.8 L1528.1,424.7 L1530.4,424.7 L1532.8,424.6 L1535.2,424.6 L1537.6,424.5 L1539.9,424.4 L1542.3,424.3 L1544.7,424.2 L1547.1,424.1 L1549.5,424.0 L1551.8,423.8 L1554.2,423.7 L1556.6,423.5 L1559.0,423.2 L1561.3,422.9 L1563.7,422.6 L1566.1,422.3 L1568.5,421.8 L1570.9,421.3 L1573.2,420.8 L1575.6,420.1 L1578.0,419.3 L1580.4,418.4 L1582.7,417.4 L1585.1,416.2 L1587.5,414.9 L1589.9,413.3 L1592.2,411.5 L1594.6,409.5 L1597.0,407.3 L1599.4,404.8 L1601.8,401.9 L1604.1,398.8 L1606.5,395.3 L1608.9,391.5 L1611.3,387.4 L1613.6,382.9 L1616.0,378.1 L1618.4,373.0 L1620.8,367.5 L1623.2,361.8 L1625.5,355.9 L1627.9,349.7 L1630.3,343.4 L1632.7,336.9 L1635.0,330.4 L1637.4,323.9 L1639.8,317.4 L1642.2,310.9 L1644.5,304.6 L1646.9,298.5 L1649.3,292.5 L1651.7,286.7 L1654.1,281.2 L1656.4,276.4 L1658.8,271.7 L1661.2,267.1 L1663.6,262.6 L1665.9,258.2 L1668.3,253.9 L1670.7,249.9 L1673.1,246.1 L1675.4,242.7 L1677.8,239.7 L1680.2,236.9 L1682.6,234.4 L1685.0,232.2 L1687.3,230.2 L1689.7,228.4 L1692.1,226.9 L1694.5,225.5 L1696.8,224.3 L1699.2,223.2 L1701.6,222.3 L1704.0,221.5 L1706.4,220.7 L1708.7,220.1 L1711.1,219.5 L1713.5,219.0 L1715.9,218.5 L1718.2,218.2 L1720.6,217.8 L1723.0,217.5 L1725.4,217.2 L1727.7,217.0 L1730.1,216.8 L1732.5,216.6 L1734.9,216.4 L1737.3,216.2 L1739.6,216.1 L1742.0,216.0 L1744.4,215.9 L1746.8,215.8 L1749.1,215.7 L1751.5,215.6 L1753.9,215.6 L1756.3,215.5 L1758.7,215.4" fill="none" stroke="#E7298A" stroke-opacity="0.8" stroke-width="3.0" stroke-linejoin="round"/>
<path d="M1404.5,423.9 L1406.8,423.9 L1409.2,424.0 L1411.6,424.1 L1414.0,424.1 L1416.3,424.2 L1418.7,424.2 L1421.1,424.3 L1423.5,424.3 L1425.8,424.4 L1428.2,424.4 L1430.6,424.4 L1433.0,424.5 L1435.4,424.5 L1437.7,424.5 L1440.1,424.6 L1442.5,424.6 L1444.9,424.6 L1447.2,424.7 L1449.6,424.7 L1452.0,424.7 L1454.4,424.8 L1456.7,424.8 L1459.1,424.8 L1461.5,424.8 L1463.9,424.9 L1466.3,424.9 L1468.6,424.9 L1471.0,424.9 L1473.4,424.9 L1475.8,425.0 L1478.1,425.0 L1480.5,425.0 L1482.9,425.0 L1485.3,425.0 L1487.7,425.0 L1490.0,425.0 L1492.4,425.0 L1494.8,425.0 L1497.2,425.0 L1499.5,425.0 L1501.9,425.0 L1504.3,425.0 L1506.7,425.0 L1509.0,425.0 L1511.4,424.9 L1513.8,424.9 L1516.2,424.9 L1518.6,424.9 L1520.9,424.8 L1523.3,424.8 L1525.7,424.8 L1528.1,424.7 L1530.4,424.7 L1532.8,424.6 L1535.2,424.6 L1537.6,424.5 L1539.9,424.4 L1542.3,424.3 L1544.7,424.2 L1547.1,424.1 L1549.5,424.0 L1551.8,423.8 L1554.2,423.7 L1556.6,423.4 L1559.0,423.2 L1561.3,422.9 L1563.7,422.6 L1566.1,422.2 L1568.5,421.8 L1570.9,421.3 L1573.2,420.7 L1575.6,420.0 L1578.0,419.2 L1580.4,418.3 L1582.7,417.2 L1585.1,416.0 L1587.5,414.5 L1589.9,412.9 L1592.2,411.1 L1594.6,409.0 L1597.0,406.6 L1599.4,404.0 L1601.8,401.0 L1604.1,397.7 L1606.5,394.0 L1608.9,390.0 L1611.3,385.6 L1613.6,380.9 L1616.0,375.8 L1618.4,370.3 L1620.8,364.6 L1623.2,358.5 L1625.5,352.2 L1627.9,345.6 L1630.3,338.9 L1632.7,332.0 L1635.0,325.1 L1637.4,318.2 L1639.8,311.2 L1642.2,304.4 L1644.5,297.7 L1646.9,291.1 L1649.3,284.8 L1651.7,278.7 L1654.1,272.8 L1656.4,267.6 L1658.8,262.6 L1661.2,257.7 L1663.6,253.0 L1665.9,248.4 L1668.3,244.1 L1670.7,240.0 L1673.1,236.2 L1675.4,232.8 L1677.8,229.6 L1680.2,226.7 L1682.6,224.1 L1685.0,221.8 L1687.3,219.6 L1689.7,217.7 L1692.1,216.0 L1694.5,214.4 L1696.8,213.0 L1699.2,211.7 L1701.6,210.5 L1704.0,209.5 L1706.4,208.7 L1708.7,207.9 L1711.1,207.3 L1713.5,206.7 L1715.9,206.3 L1718.2,205.9 L1720.6,205.6 L1723.0,205.3 L1725.4,205.1 L1727.7,204.9 L1730.1,204.7 L1732.5,204.6 L1734.9,204.5 L1737.3,204.4 L1739.6,204.4 L1742.0,204.4 L1744.4,204.4 L1746.8,204.5 L1749.1,204.5 L1751.5,204.5 L1753.9,204.5 L1756.3,204.5 L1758.7,204.5" fill="none" stroke="#E7298A" stroke-opacity="0.8" stroke-width="3.0" stroke-linejoin="round"/>
<path d="M1404.5,423.9 L1406.8,423.9 L1409.2,424.0 L1411.6,424.1 L1414.0,424.1 L1416.3,424.2 L1418.7,424.2 L1421.1,424.3 L1423.5,424.3 L1425.8,424.4 L1428.2,424.4 L1430.6,424.4 L1433.0,424.5 L1435.4,424.5 L1437.7,424.5 L1440.1,424.6 L1442.5,424.6 L1444.9,424.6 L1447.2,424.7 L1449.6,424.7 L1452.0,424.7 L1454.4,424.8 L1456.7,424.8 L1459.1,424.8 L1461.5,424.8 L1463.9,424.9 L1466.3,424.9 L1468.6,424.9 L1471.0,424.9 L1473.4,424.9 L1475.8,425.0 L1478.1,425.0 L1480.5,425.0 L1482.9,425.0 L1485.3,425.0 L1487.7,425.0 L1490.0,425.0 L1492.4,425.0 L1494.8,425.0 L1497.2,425.0 L1499.5,425.0 L1501.9,425.0 L1504.3,425.0 L1506.7,425.0 L1509.0,425.0 L1511.4,424.9 L1513.8,424.9 L1516.2,424.9 L1518.6,424.9 L1520.9,424.8 L1523.3,424.8 L1525.7,424.8 L1528.1,424.7 L1530.4,424.7 L1532.8,424.6 L1535.2,424.6 L1537.6,424.5 L1539.9,424.4 L1542.3,424.3 L1544.7,424.2 L1547.1,424.1 L1549.5,424.0 L1551.8,423.8 L1554.2,423.7 L1556.6,423.4 L1559.0,423.2 L1561.3,422.9 L1563.7,422.6 L1566.1,422.2 L1568.5,421.8 L1570.9,421.3 L1573.2,420.7 L1575.6,420.0 L1578.0,419.2 L1580.4,418.3 L1582.7,417.2 L1585.1,415.9 L1587.5,414.5 L1589.9,412.9 L1592.2,411.1 L1594.6,408.9 L1597.0,406.6 L1599.4,403.9 L1601.8,400.9 L1604.1,397.6 L1606.5,393.9 L1608.9,389.9 L1611.3,385.5 L1613.6,380.7 L1616.0,375.6 L1618.4,370.1 L1620.8,364.4 L1623.2,358.3 L1625.5,351.9 L1627.9,345.3 L1630.3,338.6 L1632.7,331.7 L1635.0,324.7 L1637.4,317.7 L1639.8,310.8 L1642.2,303.9 L1644.5,297.2 L1646.9,290.6 L1649.3,284.2 L1651.7,278.1 L1654.1,272.3 L1656.4,267.0 L1658.8,261.9 L1661.2,257.0 L1663.6,252.3 L1665.9,247.7 L1668.3,243.4 L1670.7,239.3 L1673.1,235.5 L1675.4,232.1 L1677.8,228.9 L1680.2,226.0 L1682.6,223.4 L1685.0,221.1 L1687.3,218.9 L1689.7,217.0 L1692.1,215.2 L1694.5,213.6 L1696.8,212.2 L1699.2,210.9 L1701.6,209.7 L1704.0,208.7 L1706.4,207.8 L1708.7,207.1 L1711.1,206.4 L1713.5,205.9 L1715.9,205.4 L1718.2,205.1 L1720.6,204.8 L1723.0,204.5 L1725.4,204.2 L1727.7,204.0 L1730.1,203.9 L1732.5,203.8 L1734.9,203.7 L1737.3,203.6 L1739.6,203.6 L1742.0,203.6 L1744.4,203.6 L1746.8,203.7 L1749.1,203.7 L1751.5,203.7 L1753.9,203.7 L1756.3,203.7 L1758.7,203.7" fill="none" stroke="#E7298A" stroke-opacity="0.8" stroke-width="3.0" stroke-linejoin="round"/>
<path d="M153.9,746.8 L156.5,747.0 L159.2,747.1 L161.9,747.2 L164.6,747.4 L167.3,747.5 L170.0,747.6 L172.6,747.6 L175.3,747.7 L178.0,747.8 L180.7,747.9 L183.4,747.9 L186.1,748.0 L188.7,748.0 L191.4,748.1 L194.1,748.2 L196.8,748.2 L199.5,748.2 L202.2,748.3 L204.8,748.3 L207.5,748.4 L210.2,748.4 L212.9,748.4 L215.6,748.5 L218.2,748.5 L220.9,748.5 L223.6,748.5 L226.3,748.6 L229.0,748.6 L231.7,748.6 L234.4,748.6 L237.0,748.6 L239.7,748.6 L242.4,748.6 L245.1,748.6 L247.8,748.6 L250.5,748.6 L253.1,748.6 L255.8,748.6 L258.5,748.6 L261.2,748.6 L263.9,748.6 L266.6,748.6 L269.2,748.6 L271.9,748.5 L274.6,748.5 L277.3,748.5 L280.0,748.5 L282.7,748.5 L285.3,748.4 L288.0,748.4 L290.7,748.4 L293.4,748.4 L296.1,748.3 L298.8,748.3 L301.4,748.3 L304.1,748.3 L306.8,748.3 L309.5,748.2 L312.2,748.2 L314.9,748.2 L317.5,748.2 L320.2,748.2 L322.9,748.2 L325.6,748.1 L328.3,748.1 L331.0,748.1 L333.6,748.1 L336.3,748.1 L339.0,748.1 L341.7,748.1 L344.4,748.1 L347.1,748.1 L349.7,748.1 L352.4,748.1 L355.1,748.1 L357.8,748.1 L360.5,748.1 L363.2,748.0 L365.8,748.0 L368.5,748.0 L371.2,748.0 L373.9,748.0 L376.6,748.0 L379.2,748.0 L381.9,748.0 L384.6,748.0 L387.3,748.0 L390.0,748.0 L392.7,748.0 L395.4,748.0 L398.0,748.0 L400.7,748.0 L403.4,748.0 L406.1,748.0 L408.8,748.0 L411.5,748.0 L414.1,748.0 L416.8,748.0 L419.5,748.0 L422.2,748.0 L424.9,748.0 L427.6,748.0 L430.2,748.0 L432.9,748.0 L435.6,748.0 L438.3,748.0 L441.0,748.0 L443.7,748.0 L446.3,748.0 L449.0,748.0 L451.7,748.0 L454.4,748.0 L457.1,748.0 L459.8,748.0 L462.4,748.0 L465.1,748.0 L467.8,748.0 L470.5,748.0 L473.2,748.0 L475.9,748.0 L478.5,748.0 L481.2,748.0 L483.9,748.0 L486.6,748.0 L489.3,748.0 L492.0,748.0 L494.6,748.0 L497.3,748.0 L500.0,748.0 L502.7,748.0 L505.4,748.0 L508.1,748.0" fill="none" stroke="#45C3EE" stroke-opacity="0.8" stroke-width="3.0" stroke-linejoin="round"/>
<path d="M153.9,746.9 L156.5,747.0 L159.2,747.2 L161.9,747.3 L164.6,747.4 L167.3,747.5 L170.0,747.6 L172.6,747.7 L175.3,747.8 L178.0,747.8 L180.7,747.9 L183.4,748.0 L186.1,748.0 L188.7,748.1 L191.4,748.1 L194.1,748.2 L196.8,748.2 L199.5,748.3 L202.2,748.3 L204.8,748.4 L207.5,748.4 L210.2,748.4 L212.9,748.5 L215.6,748.5 L218.2,748.5 L220.9,748.6 L223.6,748.6 L226.3,748.6 L229.0,748.6 L231.7,748.6 L234.4,748.7 L237.0,748.7 L239.7,748.7 L242.4,748.7 L245.1,748.7 L247.8,748.7 L250.5,748.7 L253.1,748.7 L255.8,748.7 L258.5,748.7 L261.2,748.6 L263.9,748.6 L266.6,748.6 L269.2,748.6 L271.9,748.6 L274.6,748.6 L277.3,748.5 L280.0,748.5 L282.7,748.5 L285.3,748.5 L288.0,748.5 L290.7,748.4 L293.4,748.4 L296.1,748.4 L298.8,748.4 L301.4,748.3 L304.1,748.3 L306.8,748.3 L309.5,748.3 L312.2,748.3 L314.9,748.2 L317.5,748.2 L320.2,748.2 L322.9,748.2 L325.6,748.2 L328.3,748.2 L331.0,748.2 L333.6,748.2 L336.3,748.1 L339.0,748.1 L341.7,748.1 L344.4,748.1 L347.1,748.1 L349.7,748.1 L352.4,748.1 L355.1,748.1 L357.8,748.1 L360.5,748.1 L363.2,748.1 L365.8,748.1 L368.5,748.1 L371.2,748.1 L373.9,748.1 L376.6,748.1 L379.2,748.1 L381.9,748.1 L384.6,748.1 L387.3,748.1 L390.0,748.1 L392.7,748.1 L395.4,748.1 L398.0,748.1 L400.7,748.1 L403.4,748.1 L406.1,748.1 L408.8,748.1 L411.5,748.1 L414.1,748.1 L416.8,748.1 L419.5,748.1 L422.2,748.1 L424.9,748.1 L427.6,748.1 L430.2,748.1 L432.9,748.1 L435.6,748.1 L438.3,748.1 L441.0,748.1 L443.7,748.1 L446.3,748.1 L449.0,748.1 L451.7,748.1 L454.4,748.1 L457.1,748.1 L459.8,748.1 L462.4,748.1 L465.1,748.1 L467.8,748.1 L470.5,748.1 L473.2,748.1 L475.9,748.1 L478.5,748.1 L481.2,748.1 L483.9,748.1 L486.6,748.1 L489.3,748.1 L492.0,748.1 L494.6,748.1 L497.3,748.1 L500.0,748.1 L502.7,748.1 L505.4,748.1 L508.1,748.1" fill="none" stroke="#45C3EE" stroke-opacity="0.8" stroke-width="3.0" stroke-linejoin="round"/>
<path d="M153.9,746.6 L156.5,746.8 L159.2,746.9 L161.9,747.0 L164.6,747.1 L167.3,747.2 L170.0,747.3 L172.6,747.4 L175.3,747.5 L178.0,747.6 L180.7,747.6 L183.4,747.7 L186.1,747.7 L188.7,747.8 L191.4,747.9 L194.1,747.9 L196.8,748.0 L199.5,748.0 L202.2,748.0 L204.8,748.1 L207.5,748.1 L210.2,748.2 L212.9,748.2 L215.6,748.2 L218.2,748.3 L220.9,748.3 L223.6,748.3 L226.3,748.3 L229.0,748.3 L231.7,748.4 L234.4,748.4 L237.0,748.4 L239.7,748.4 L242.4,748.4 L245.1,748.4 L247.8,748.4 L250.5,748.4 L253.1,748.4 L255.8,748.4 L258.5,748.4 L261.2,748.4 L263.9,748.3 L266.6,748.3 L269.2,748.3 L271.9,748.3 L274.6,748.3 L277.3,748.3 L280.0,748.2 L282.7,748.2 L285.3,748.2 L288.0,748.2 L290.7,748.1 L293.4,748.1 L296.1,748.1 L298.8,748.1 L301.4,748.1 L304.1,748.0 L306.8,748.0 L309.5,748.0 L312.2,748.0 L314.9,748.0 L317.5,747.9 L320.2,747.9 L322.9,747.9 L325.6,747.9 L328.3,747.9 L331.0,747.9 L333.6,747.9 L336.3,747.9 L339.0,747.9 L341.7,747.8 L344.4,747.8 L347.1,747.8 L349.7,747.8 L352.4,747.8 L355.1,747.8 L357.8,747.8 L360.5,747.8 L363.2,747.8 L365.8,747.8 L368.5,747.8 L371.2,747.8 L373.9,747.8 L376.6,747.8 L379.2,747.8 L381.9,747.8 L384.6,747.8 L387.3,747.8 L390.0,747.8 L392.7,747.8 L395.4,747.8 L398.0,747.8 L400.7,747.8 L403.4,747.8 L406.1,747.8 L408.8,747.8 L411.5,747.8 L414.1,747.8 L416.8,747.8 L419.5,747.8 L422.2,747.8 L424.9,747.8 L427.6,747.8 L430.2,747.8 L432.9,747.8 L435.6,747.8 L438.3,747.8 L441.0,747.8 L443.7,747.8 L446.3,747.8 L449.0,747.8 L451.7,747.8 L454.4,747.8 L457.1,747.8 L459.8,747.8 L462.4,747.8 L465.1,747.8 L467.8,747.8 L470.5,747.8 L473.2,747.8 L475.9,747.8 L478.5,747.8 L481.2,747.8 L483.9,747.8 L486.6,747.8 L489.3,747.8 L492.0,747.8 L494.6,747.8 L497.3,747.8 L500.0,747.8 L502.7,747.8 L505.4,747.8 L508.1,747.8" fill="none" stroke="#45C3EE" stroke-opacity="0.8" stroke-width="3.0" stroke-linejoin="round"/>
<path d="M153.9,747.0 L156.5,747.1 L159.2,747.3 L161.9,747.4 L164.6,747.5 L167.3,747.6 L170.0,747.7 L172.6,747.8 L175.3,747.9 L178.0,747.9 L180.7,748.0 L183.4,748.1 L186.1,748.1 L188.7,748.2 L191.4,748.2 L194.1,748.3 L196.8,748.3 L199.5,748.4 L202.2,748.4 L204.8,748.5 L207.5,748.5 L210.2,748.5 L212.9,748.6 L215.6,748.6 L218.2,748.6 L220.9,748.7 L223.6,748.7 L226.3,748.7 L229.0,748.7 L231.7,748.7 L234.4,748.8 L237.0,748.8 L239.7,748.8 L242.4,748.8 L245.1,748.8 L247.8,748.8 L250.5,748.8 L253.1,748.8 L255.8,748.8 L258.5,748.8 L261.2,748.7 L263.9,748.7 L266.6,748.7 L269.2,748.7 L271.9,748.7 L274.6,748.7 L277.3,748.6 L280.0,748.6 L282.7,748.6 L285.3,748.6 L288.0,748.6 L290.7,748.5 L293.4,748.5 L296.1,748.5 L298.8,748.5 L301.4,748.4 L304.1,748.4 L306.8,748.4 L309.5,748.4 L312.2,748.4 L314.9,748.4 L317.5,748.3 L320.2,748.3 L322.9,748.3 L325.6,748.3 L328.3,748.3 L331.0,748.3 L333.6,748.3 L336.3,748.3 L339.0,748.2 L341.7,748.2 L344.4,748.2 L347.1,748.2 L349.7,748.2 L352.4,748.2 L355.1,748.2 L357.8,748.2 L360.5,748.2 L363.2,748.2 L365.8,748.2 L368.5,748.2 L371.2,748.2 L373.9,748.2 L376.6,748.2 L379.2,748.2 L381.9,748.2 L384.6,748.2 L387.3,748.2 L390.0,748.2 L392.7,748.2 L395.4,748.2 L398.0,748.2 L400.7,748.2 L403.4,748.2 L406.1,748.2 L408.8,748.2 L411.5,748.2 L414.1,748.2 L416.8,748.2 L419.5,748.2 L422.2,748.2 L424.9,748.2 L427.6,748.2 L430.2,748.2 L432.9,748.2 L435.6,748.2 L438.3,748.2 L441.0,748.2 L443.7,748.2 L446.3,748.2 L449.0,748.2 L451.7,748.2 L454.4,748.2 L457.1,748.2 L459.8,748.2 L462.4,748.2 L465.1,748.2 L467.8,748.2 L470.5,748.2 L473.2,748.2 L475.9,748.2 L478.5,748.2 L481.2,748.2 L483.9,748.2 L486.6,748.2 L489.3,748.2 L492.0,748.2 L494.6,748.2 L497.3,748.2 L500.0,748.2 L502.7,748.2 L505.4,748.2 L508.1,748.2" fill="none" stroke="#CBC759" stroke-opacity="0.8" stroke-width="3.0" stroke-linejoin="round"/>
<path d="M153.9,745.8 L156.5,745.9 L159.2,746.1 L161.9,746.2 L164.6,746.3 L167.3,746.4 L170.0,746.5 L172.6,746.6 L175.3,746.7 L178.0,746.7 L180.7,746.8 L183.4,746.9 L186.1,746.9 L188.7,747.0 L191.4,747.0 L194.1,747.1 L196.8,747.1 L199.5,747.2 L202.2,747.2 L204.8,747.3 L207.5,747.3 L210.2,747.3 L212.9,747.4 L215.6,747.4 L218.2,747.4 L220.9,747.5 L223.6,747.5 L226.3,747.5 L229.0,747.5 L231.7,747.5 L234.4,747.5 L237.0,747.6 L239.7,747.6 L242.4,747.6 L245.1,747.6 L247.8,747.6 L250.5,747.6 L253.1,747.6 L255.8,747.6 L258.5,747.5 L261.2,747.5 L263.9,747.5 L266.6,747.5 L269.2,747.5 L271.9,747.5 L274.6,747.5 L277.3,747.4 L280.0,747.4 L282.7,747.4 L285.3,747.4 L288.0,747.3 L290.7,747.3 L293.4,747.3 L296.1,747.3 L298.8,747.3 L301.4,747.2 L304.1,747.2 L306.8,747.2 L309.5,747.2 L312.2,747.2 L314.9,747.1 L317.5,747.1 L320.2,747.1 L322.9,747.1 L325.6,747.1 L328.3,747.1 L331.0,747.1 L333.6,747.1 L336.3,747.0 L339.0,747.0 L341.7,747.0 L344.4,747.0 L347.1,747.0 L349.7,747.0 L352.4,747.0 L355.1,747.0 L357.8,747.0 L360.5,747.0 L363.2,747.0 L365.8,747.0 L368.5,747.0 L371.2,747.0 L373.9,747.0 L376.6,747.0 L379.2,747.0 L381.9,747.0 L384.6,747.0 L387.3,747.0 L390.0,747.0 L392.7,747.0 L395.4,747.0 L398.0,747.0 L400.7,747.0 L403.4,747.0 L406.1,747.0 L408.8,747.0 L411.5,747.0 L414.1,747.0 L416.8,747.0 L419.5,747.0 L422.2,747.0 L424.9,747.0 L427.6,747.0 L430.2,747.0 L432.9,747.0 L435.6,747.0 L438.3,747.0 L441.0,747.0 L443.7,747.0 L446.3,747.0 L449.0,747.0 L451.7,747.0 L454.4,747.0 L457.1,747.0 L459.8,747.0 L462.4,747.0 L465.1,747.0 L467.8,747.0 L470.5,747.0 L473.2,747.0 L475.9,747.0 L478.5,747.0 L481.2,747.0 L483.9,747.0 L486.6,747.0 L489.3,747.0 L492.0,747.0 L494.6,747.0 L497.3,747.0 L500.0,747.0 L502.7,747.0 L505.4,747.0 L508.1,747.0" fill="none" stroke="#CBC759" stroke-opacity="0.8" stroke-width="3.0" stroke-linejoin="round"/>
<path d="M153.9,746.6 L156.5,746.8 L159.2,746.9 L161.9,747.0 L164.6,747.1 L167.3,747.2 L170.0,747.3 L172.6,747.4 L175.3,747.5 L178.0,747.6 L180.7,747.6 L183.4,747.7 L186.1,747.8 L188.7,747.8 L191.4,747.9 L194.1,747.9 L196.8,748.0 L199.5,748.0 L202.2,748.1 L204.8,748.1 L207.5,748.2 L210.2,748.2 L212.9,748.2 L215.6,748.3 L218.2,748.3 L220.9,748.3 L223.6,748.3 L226.3,748.3 L229.0,748.4 L231.7,748.4 L234.4,748.4 L237.0,748.4 L239.7,748.4 L242.4,748.4 L245.1,748.4 L247.8,748.4 L250.5,748.4 L253.1,748.4 L255.8,748.4 L258.5,748.4 L261.2,748.4 L263.9,748.4 L266.6,748.4 L269.2,748.3 L271.9,748.3 L274.6,748.3 L277.3,748.3 L280.0,748.3 L282.7,748.2 L285.3,748.2 L288.0,748.2 L290.7,748.2 L293.4,748.2 L296.1,748.1 L298.8,748.1 L301.4,748.1 L304.1,748.1 L306.8,748.0 L309.5,748.0 L312.2,748.0 L314.9,748.0 L317.5,748.0 L320.2,748.0 L322.9,747.9 L325.6,747.9 L328.3,747.9 L331.0,747.9 L333.6,747.9 L336.3,747.9 L339.0,747.9 L341.7,747.9 L344.4,747.9 L347.1,747.9 L349.7,747.9 L352.4,747.8 L355.1,747.8 L357.8,747.8 L360.5,747.8 L363.2,747.8 L365.8,747.8 L368.5,747.8 L371.2,747.8 L373.9,747.8 L376.6,747.8 L379.2,747.8 L381.9,747.8 L384.6,747.8 L387.3,747.8 L390.0,747.8 L392.7,747.8 L395.4,747.8 L398.0,747.8 L400.7,747.8 L403.4,747.8 L406.1,747.8 L408.8,747.8 L411.5,747.8 L414.1,747.8 L416.8,747.8 L419.5,747.8 L422.2,747.8 L424.9,747.8 L427.6,747.8 L430.2,747.8 L432.9,747.8 L435.6,747.8 L438.3,747.8 L441.0,747.8 L443.7,747.8 L446.3,747.8 L449.0,747.8 L451.7,747.8 L454.4,747.8 L457.1,747.8 L459.8,747.8 L462.4,747.8 L465.1,747.8 L467.8,747.8 L470.5,747.8 L473.2,747.8 L475.9,747.8 L478.5,747.8 L481.2,747.8 L483.9,747.8 L486.6,747.8 L489.3,747.8 L492.0,747.8 L494.6,747.8 L497.3,747.8 L500.0,747.8 L502.7,747.8 L505.4,747.8 L508.1,747.8" fill="none" stroke="#CBC759" stroke-opacity="0.8" stroke-width="3.0" stroke-linejoin="round"/>
<path d="M153.9,745.1 L156.5,745.4 L159.2,745.6 L161.9,745.8 L164.6,746.0 L167.3,746.2 L170.0,746.4 L172.6,746.5 L175.3,746.6 L178.0,746.8 L180.7,746.9 L183.4,747.0 L186.1,747.1 L188.7,747.2 L191.4,747.2 L194.1,747.3 L196.8,747.4 L199.5,747.4 L202.2,747.5 L204.8,747.6 L207.5,747.6 L210.2,747.7 L212.9,747.7 L215.6,747.7 L218.2,747.8 L220.9,747.8 L223.6,747.8 L226.3,747.9 L229.0,747.9 L231.7,747.9 L234.4,747.9 L237.0,747.9 L239.7,748.0 L242.4,748.0 L245.1,748.0 L247.8,748.0 L250.5,748.0 L253.1,748.0 L255.8,748.0 L258.5,748.0 L261.2,747.9 L263.9,747.9 L266.6,747.9 L269.2,747.9 L271.9,747.9 L274.6,747.9 L277.3,747.8 L280.0,747.8 L282.7,747.8 L285.3,747.8 L288.0,747.8 L290.7,747.7 L293.4,747.7 L296.1,747.7 L298.8,747.7 L301.4,747.7 L304.1,747.6 L306.8,747.6 L309.5,747.6 L312.2,747.6 L314.9,747.6 L317.5,747.5 L320.2,747.5 L322.9,747.5 L325.6,747.5 L328.3,747.5 L331.0,747.5 L333.6,747.5 L336.3,747.5 L339.0,747.5 L341.7,747.4 L344.4,747.4 L347.1,747.4 L349.7,747.4 L352.4,747.4 L355.1,747.4 L357.8,747.4 L360.5,747.4 L363.2,747.4 L365.8,747.4 L368.5,747.4 L371.2,747.4 L373.9,747.4 L376.6,747.4 L379.2,747.4 L381.9,747.4 L384.6,747.4 L387.3,747.4 L390.0,747.4 L392.7,747.4 L395.4,747.4 L398.0,747.4 L400.7,747.4 L403.4,747.4 L406.1,747.4 L408.8,747.4 L411.5,747.4 L414.1,747.4 L416.8,747.4 L419.5,747.4 L422.2,747.4 L424.9,747.4 L427.6,747.4 L430.2,747.4 L432.9,747.4 L435.6,747.4 L438.3,747.4 L441.0,747.4 L443.7,747.4 L446.3,747.4 L449.0,747.4 L451.7,747.4 L454.4,747.4 L457.1,747.4 L459.8,747.4 L462.4,747.4 L465.1,747.4 L467.8,747.4 L470.5,747.4 L473.2,747.4 L475.9,747.4 L478.5,747.4 L481.2,747.4 L483.9,747.4 L486.6,747.4 L489.3,747.4 L492.0,747.4 L494.6,747.4 L497.3,747.4 L500.0,747.4 L502.7,747.4 L505.4,747.4 L508.1,747.4" fill="none" stroke="#26B18B" stroke-opacity="0.8" stroke-width="3.0" stroke-linejoin="round"/>
<path d="M153.9,745.4 L156.5,745.7 L159.2,745.9 L161.9,746.1 L164.6,746.3 L167.3,746.5 L170.0,746.6 L172.6,746.8 L175.3,746.9 L178.0,747.0 L180.7,747.1 L183.4,747.2 L186.1,747.3 L188.7,747.4 L191.4,747.5 L194.1,747.6 L196.8,747.6 L199.5,747.7 L202.2,747.8 L204.8,747.8 L207.5,747.9 L210.2,747.9 L212.9,748.0 L215.6,748.0 L218.2,748.0 L220.9,748.1 L223.6,748.1 L226.3,748.1 L229.0,748.2 L231.7,748.2 L234.4,748.2 L237.0,748.2 L239.7,748.2 L242.4,748.2 L245.1,748.2 L247.8,748.2 L250.5,748.2 L253.1,748.2 L255.8,748.2 L258.5,748.2 L261.2,748.2 L263.9,748.2 L266.6,748.2 L269.2,748.2 L271.9,748.2 L274.6,748.1 L277.3,748.1 L280.0,748.1 L282.7,748.1 L285.3,748.1 L288.0,748.0 L290.7,748.0 L293.4,748.0 L296.1,748.0 L298.8,747.9 L301.4,747.9 L304.1,747.9 L306.8,747.9 L309.5,747.9 L312.2,747.8 L314.9,747.8 L317.5,747.8 L320.2,747.8 L322.9,747.8 L325.6,747.8 L328.3,747.8 L331.0,747.7 L333.6,747.7 L336.3,747.7 L339.0,747.7 L341.7,747.7 L344.4,747.7 L347.1,747.7 L349.7,747.7 L352.4,747.7 L355.1,747.7 L357.8,747.7 L360.5,747.7 L363.2,747.7 L365.8,747.7 L368.5,747.7 L371.2,747.7 L373.9,747.7 L376.6,747.7 L379.2,747.7 L381.9,747.7 L384.6,747.7 L387.3,747.7 L390.0,747.7 L392.7,747.7 L395.4,747.7 L398.0,747.7 L400.7,747.7 L403.4,747.7 L406.1,747.7 L408.8,747.7 L411.5,747.7 L414.1,747.7 L416.8,747.7 L419.5,747.7 L422.2,747.7 L424.9,747.7 L427.6,747.7 L430.2,747.7 L432.9,747.7 L435.6,747.7 L438.3,747.7 L441.0,747.7 L443.7,747.7 L446.3,747.7 L449.0,747.7 L451.7,747.7 L454.4,747.7 L457.1,747.7 L459.8,747.7 L462.4,747.7 L465.1,747.7 L467.8,747.7 L470.5,747.7 L473.2,747.7 L475.9,747.7 L478.5,747.7 L481.2,747.7 L483.9,747.7 L486.6,747.7 L489.3,747.7 L492.0,747.7 L494.6,747.7 L497.3,747.7 L500.0,747.7 L502.7,747.7 L505.4,747.7 L508.1,747.7" fill="none" stroke="#26B18B" stroke-opacity="0.8" stroke-width="3.0" stroke-linejoin="round"/>
<path d="M153.9,744.5 L156.5,744.8 L159.2,745.0 L161.9,745.2 L164.6,745.4 L167.3,745.6 L170.0,745.8 L172.6,745.9 L175.3,746.0 L178.0,746.2 L180.7,746.3 L183.4,746.4 L186.1,746.5 L188.7,746.6 L191.4,746.6 L194.1,746.7 L196.8,746.8 L199.5,746.8 L202.2,746.9 L204.8,747.0 L207.5,747.0 L210.2,747.1 L212.9,747.1 L215.6,747.1 L218.2,747.2 L220.9,747.2 L223.6,747.2 L226.3,747.3 L229.0,747.3 L231.7,747.3 L234.4,747.3 L237.0,747.3 L239.7,747.4 L242.4,747.4 L245.1,747.4 L247.8,747.4 L250.5,747.4 L253.1,747.4 L255.8,747.4 L258.5,747.4 L261.2,747.3 L263.9,747.3 L266.6,747.3 L269.2,747.3 L271.9,747.3 L274.6,747.3 L277.3,747.3 L280.0,747.2 L282.7,747.2 L285.3,747.2 L288.0,747.2 L290.7,747.1 L293.4,747.1 L296.1,747.1 L298.8,747.1 L301.4,747.1 L304.1,747.0 L306.8,747.0 L309.5,747.0 L312.2,747.0 L314.9,747.0 L317.5,747.0 L320.2,746.9 L322.9,746.9 L325.6,746.9 L328.3,746.9 L331.0,746.9 L333.6,746.9 L336.3,746.9 L339.0,746.9 L341.7,746.8 L344.4,746.8 L347.1,746.8 L349.7,746.8 L352.4,746.8 L355.1,746.8 L357.8,746.8 L360.5,746.8 L363.2,746.8 L365.8,746.8 L368.5,746.8 L371.2,746.8 L373.9,746.8 L376.6,746.8 L379.2,746.8 L381.9,746.8 L384.6,746.8 L387.3,746.8 L390.0,746.8 L392.7,746.8 L395.4,746.8 L398.0,746.8 L400.7,746.8 L403.4,746.8 L406.1,746.8 L408.8,746.8 L411.5,746.8 L414.1,746.8 L416.8,746.8 L419.5,746.8 L422.2,746.8 L424.9,746.8 L427.6,746.8 L430.2,746.8 L432.9,746.8 L435.6,746.8 L438.3,746.8 L441.0,746.8 L443.7,746.8 L446.3,746.8 L449.0,746.8 L451.7,746.8 L454.4,746.8 L457.1,746.8 L459.8,746.8 L462.4,746.8 L465.1,746.8 L467.8,746.8 L470.5,746.8 L473.2,746.8 L475.9,746.8 L478.5,746.8 L481.2,746.8 L483.9,746.8 L486.6,746.8 L489.3,746.8 L492.0,746.8 L494.6,746.8 L497.3,746.8 L500.0,746.8 L502.7,746.8 L505.4,746.8 L508.1,746.8" fill="none" stroke="#26B18B" stroke-opacity="0.8" stroke-width="3.0" stroke-linejoin="round"/>
<path d="M153.9,746.5 L156.5,746.6 L159.2,746.6 L161.9,746.7 L164.6,746.8 L167.3,746.8 L170.0,746.9 L172.6,746.9 L175.3,747.0 L178.0,747.0 L180.7,747.1 L183.4,747.1 L186.1,747.2 L188.7,747.2 L191.4,747.2 L194.1,747.3 L196.8,747.3 L199.5,747.3 L202.2,747.4 L204.8,747.4 L207.5,747.4 L210.2,747.5 L212.9,747.5 L215.6,747.5 L218.2,747.5 L220.9,747.6 L223.6,747.6 L226.3,747.6 L229.0,747.6 L231.7,747.6 L234.4,747.6 L237.0,747.6 L239.7,747.6 L242.4,747.7 L245.1,747.7 L247.8,747.7 L250.5,747.6 L253.1,747.6 L255.8,747.6 L258.5,747.6 L261.2,747.6 L263.9,747.6 L266.6,747.6 L269.2,747.6 L271.9,747.5 L274.6,747.5 L277.3,747.5 L280.0,747.5 L282.7,747.5 L285.3,747.4 L288.0,747.4 L290.7,747.4 L293.4,747.4 L296.1,747.3 L298.8,747.3 L301.4,747.3 L304.1,747.3 L306.8,747.3 L309.5,747.2 L312.2,747.2 L314.9,747.2 L317.5,747.2 L320.2,747.2 L322.9,747.2 L325.6,747.1 L328.3,747.1 L331.0,747.1 L333.6,747.1 L336.3,747.1 L339.0,747.1 L341.7,747.1 L344.4,747.1 L347.1,747.1 L349.7,747.1 L352.4,747.1 L355.1,747.1 L357.8,747.1 L360.5,747.1 L363.2,747.0 L365.8,747.0 L368.5,747.0 L371.2,747.0 L373.9,747.0 L376.6,747.0 L379.2,747.0 L381.9,747.0 L384.6,747.0 L387.3,747.0 L390.0,747.0 L392.7,747.0 L395.4,747.0 L398.0,747.0 L400.7,747.0 L403.4,747.0 L406.1,747.0 L408.8,747.0 L411.5,747.0 L414.1,747.0 L416.8,747.0 L419.5,747.0 L422.2,747.0 L424.9,747.0 L427.6,747.0 L430.2,747.0 L432.9,747.0 L435.6,747.0 L438.3,747.0 L441.0,747.0 L443.7,747.0 L446.3,747.0 L449.0,747.0 L451.7,747.0 L454.4,747.0 L457.1,747.0 L459.8,747.0 L462.4,747.0 L465.1,747.0 L467.8,747.0 L470.5,747.0 L473.2,747.0 L475.9,747.0 L478.5,747.0 L481.2,747.0 L483.9,747.0 L486.6,747.0 L489.3,747.0 L492.0,747.0 L494.6,747.0 L497.3,747.0 L500.0,747.0 L502.7,747.0 L505.4,747.0 L508.1,747.0" fill="none" stroke="#E7298A" stroke-opacity="0.8" stroke-width="3.0" stroke-linejoin="round"/>
<path d="M153.9,747.4 L156.5,747.5 L159.2,747.6 L161.9,747.7 L164.6,747.7 L167.3,747.8 L170.0,747.8 L172.6,747.9 L175.3,747.9 L178.0,748.0 L180.7,748.0 L183.4,748.1 L186.1,748.1 L188.7,748.1 L191.4,748.2 L194.1,748.2 L196.8,748.3 L199.5,748.3 L202.2,748.3 L204.8,748.4 L207.5,748.4 L210.2,748.4 L212.9,748.4 L215.6,748.5 L218.2,748.5 L220.9,748.5 L223.6,748.5 L226.3,748.5 L229.0,748.6 L231.7,748.6 L234.4,748.6 L237.0,748.6 L239.7,748.6 L242.4,748.6 L245.1,748.6 L247.8,748.6 L250.5,748.6 L253.1,748.6 L255.8,748.6 L258.5,748.6 L261.2,748.6 L263.9,748.5 L266.6,748.5 L269.2,748.5 L271.9,748.5 L274.6,748.5 L277.3,748.4 L280.0,748.4 L282.7,748.4 L285.3,748.4 L288.0,748.4 L290.7,748.3 L293.4,748.3 L296.1,748.3 L298.8,748.3 L301.4,748.3 L304.1,748.2 L306.8,748.2 L309.5,748.2 L312.2,748.2 L314.9,748.2 L317.5,748.1 L320.2,748.1 L322.9,748.1 L325.6,748.1 L328.3,748.1 L331.0,748.1 L333.6,748.1 L336.3,748.1 L339.0,748.0 L341.7,748.0 L344.4,748.0 L347.1,748.0 L349.7,748.0 L352.4,748.0 L355.1,748.0 L357.8,748.0 L360.5,748.0 L363.2,748.0 L365.8,748.0 L368.5,748.0 L371.2,748.0 L373.9,748.0 L376.6,748.0 L379.2,748.0 L381.9,748.0 L384.6,748.0 L387.3,748.0 L390.0,748.0 L392.7,748.0 L395.4,748.0 L398.0,748.0 L400.7,748.0 L403.4,748.0 L406.1,748.0 L408.8,748.0 L411.5,748.0 L414.1,748.0 L416.8,748.0 L419.5,748.0 L422.2,748.0 L424.9,748.0 L427.6,748.0 L430.2,748.0 L432.9,748.0 L435.6,748.0 L438.3,748.0 L441.0,748.0 L443.7,748.0 L446.3,748.0 L449.0,748.0 L451.7,748.0 L454.4,748.0 L457.1,748.0 L459.8,748.0 L462.4,748.0 L465.1,748.0 L467.8,748.0 L470.5,748.0 L473.2,748.0 L475.9,748.0 L478.5,748.0 L481.2,748.0 L483.9,748.0 L486.6,748.0 L489.3,748.0 L492.0,748.0 L494.6,748.0 L497.3,748.0 L500.0,748.0 L502.7,748.0 L505.4,748.0 L508.1,748.0" fill="none" stroke="#E7298A" stroke-opacity="0.8" stroke-width="3.0" stroke-linejoin="round"/>
<path d="M153.9,746.8 L156.5,746.9 L159.2,747.0 L161.9,747.1 L164.6,747.1 L167.3,747.2 L170.0,747.2 L172.6,747.3 L175.3,747.3 L178.0,747.4 L180.7,747.4 L183.4,747.5 L186.1,747.5 L188.7,747.5 L191.4,747.6 L194.1,747.6 L196.8,747.7 L199.5,747.7 L202.2,747.7 L204.8,747.8 L207.5,747.8 L210.2,747.8 L212.9,747.8 L215.6,747.9 L218.2,747.9 L220.9,747.9 L223.6,747.9 L226.3,747.9 L229.0,748.0 L231.7,748.0 L234.4,748.0 L237.0,748.0 L239.7,748.0 L242.4,748.0 L245.1,748.0 L247.8,748.0 L250.5,748.0 L253.1,748.0 L255.8,748.0 L258.5,748.0 L261.2,748.0 L263.9,747.9 L266.6,747.9 L269.2,747.9 L271.9,747.9 L274.6,747.9 L277.3,747.9 L280.0,747.8 L282.7,747.8 L285.3,747.8 L288.0,747.8 L290.7,747.7 L293.4,747.7 L296.1,747.7 L298.8,747.7 L301.4,747.7 L304.1,747.6 L306.8,747.6 L309.5,747.6 L312.2,747.6 L314.9,747.6 L317.5,747.5 L320.2,747.5 L322.9,747.5 L325.6,747.5 L328.3,747.5 L331.0,747.5 L333.6,747.5 L336.3,747.5 L339.0,747.4 L341.7,747.4 L344.4,747.4 L347.1,747.4 L349.7,747.4 L352.4,747.4 L355.1,747.4 L357.8,747.4 L360.5,747.4 L363.2,747.4 L365.8,747.4 L368.5,747.4 L371.2,747.4 L373.9,747.4 L376.6,747.4 L379.2,747.4 L381.9,747.4 L384.6,747.4 L387.3,747.4 L390.0,747.4 L392.7,747.4 L395.4,747.4 L398.0,747.4 L400.7,747.4 L403.4,747.4 L406.1,747.4 L408.8,747.4 L411.5,747.4 L414.1,747.4 L416.8,747.4 L419.5,747.4 L422.2,747.4 L424.9,747.4 L427.6,747.4 L430.2,747.4 L432.9,747.4 L435.6,747.4 L438.3,747.4 L441.0,747.4 L443.7,747.4 L446.3,747.4 L449.0,747.4 L451.7,747.4 L454.4,747.4 L457.1,747.4 L459.8,747.4 L462.4,747.4 L465.1,747.4 L467.8,747.4 L470.5,747.4 L473.2,747.4 L475.9,747.4 L478.5,747.4 L481.2,747.4 L483.9,747.4 L486.6,747.4 L489.3,747.4 L492.0,747.4 L494.6,747.4 L497.3,747.4 L500.0,747.4 L502.7,747.4 L505.4,747.4 L508.1,747.4" fill="none" stroke="#E7298A" stroke-opacity="0.8" stroke-width="3.0" stroke-linejoin="round"/>
<path d="M571.0,746.1 L573.7,746.2 L576.4,746.3 L579.1,746.4 L581.8,746.6 L584.5,746.7 L587.1,746.8 L589.8,746.8 L592.5,746.9 L595.2,747.0 L597.9,747.1 L600.6,747.1 L603.2,747.2 L605.9,747.2 L608.6,747.3 L611.3,747.4 L614.0,747.4 L616.7,747.4 L619.4,747.5 L622.0,747.5 L624.7,747.6 L627.4,747.6 L630.1,747.6 L632.8,747.7 L635.5,747.7 L638.1,747.7 L640.8,747.7 L643.5,747.8 L646.2,747.8 L648.9,747.8 L651.5,747.8 L654.2,747.8 L656.9,747.8 L659.6,747.8 L662.3,747.8 L665.0,747.8 L667.6,747.8 L670.3,747.8 L673.0,747.8 L675.7,747.8 L678.4,747.8 L681.1,747.8 L683.8,747.8 L686.4,747.8 L689.1,747.7 L691.8,747.7 L694.5,747.7 L697.2,747.7 L699.9,747.7 L702.5,747.6 L705.2,747.6 L707.9,747.6 L710.6,747.6 L713.3,747.5 L716.0,747.5 L718.6,747.5 L721.3,747.5 L724.0,747.5 L726.7,747.4 L729.4,747.4 L732.0,747.4 L734.7,747.4 L737.4,747.4 L740.1,747.4 L742.8,747.4 L745.5,747.3 L748.1,747.3 L750.8,747.3 L753.5,747.3 L756.2,747.3 L758.9,747.3 L761.6,747.3 L764.2,747.3 L766.9,747.3 L769.6,747.3 L772.3,747.3 L775.0,747.3 L777.7,747.3 L780.4,747.2 L783.0,747.2 L785.7,747.2 L788.4,747.2 L791.1,747.2 L793.8,747.2 L796.5,747.2 L799.1,747.2 L801.8,747.2 L804.5,747.2 L807.2,747.2 L809.9,747.2 L812.5,747.2 L815.2,747.2 L817.9,747.2 L820.6,747.2 L823.3,747.2 L826.0,747.2 L828.7,747.2 L831.3,747.2 L834.0,747.2 L836.7,747.2 L839.4,747.2 L842.1,747.2 L844.8,747.2 L847.4,747.2 L850.1,747.2 L852.8,747.2 L855.5,747.2 L858.2,747.2 L860.9,747.2 L863.5,747.2 L866.2,747.2 L868.9,747.2 L871.6,747.2 L874.3,747.2 L877.0,747.2 L879.6,747.2 L882.3,747.2 L885.0,747.2 L887.7,747.2 L890.4,747.2 L893.0,747.2 L895.7,747.2 L898.4,747.2 L901.1,747.2 L903.8,747.2 L906.5,747.2 L909.2,747.2 L911.8,747.2 L914.5,747.2 L917.2,747.2 L919.9,747.2 L922.6,747.2 L925.2,747.2" fill="none" stroke="#45C3EE" stroke-opacity="0.8" stroke-width="3.0" stroke-linejoin="round"/>
<path d="M571.0,746.4 L573.7,746.6 L576.4,746.7 L579.1,746.8 L581.8,746.9 L584.5,747.0 L587.1,747.1 L589.8,747.2 L592.5,747.3 L595.2,747.4 L597.9,747.4 L600.6,747.5 L603.2,747.6 L605.9,747.6 L608.6,747.7 L611.3,747.7 L614.0,747.8 L616.7,747.8 L619.4,747.9 L622.0,747.9 L624.7,747.9 L627.4,748.0 L630.1,748.0 L632.8,748.0 L635.5,748.1 L638.1,748.1 L640.8,748.1 L643.5,748.1 L646.2,748.2 L648.9,748.2 L651.5,748.2 L654.2,748.2 L656.9,748.2 L659.6,748.2 L662.3,748.2 L665.0,748.2 L667.6,748.2 L670.3,748.2 L673.0,748.2 L675.7,748.2 L678.4,748.2 L681.1,748.2 L683.8,748.2 L686.4,748.1 L689.1,748.1 L691.8,748.1 L694.5,748.1 L697.2,748.1 L699.9,748.0 L702.5,748.0 L705.2,748.0 L707.9,748.0 L710.6,747.9 L713.3,747.9 L716.0,747.9 L718.6,747.9 L721.3,747.9 L724.0,747.8 L726.7,747.8 L729.4,747.8 L732.0,747.8 L734.7,747.8 L737.4,747.8 L740.1,747.7 L742.8,747.7 L745.5,747.7 L748.1,747.7 L750.8,747.7 L753.5,747.7 L756.2,747.7 L758.9,747.7 L761.6,747.7 L764.2,747.7 L766.9,747.6 L769.6,747.6 L772.3,747.6 L775.0,747.6 L777.7,747.6 L780.4,747.6 L783.0,747.6 L785.7,747.6 L788.4,747.6 L791.1,747.6 L793.8,747.6 L796.5,747.6 L799.1,747.6 L801.8,747.6 L804.5,747.6 L807.2,747.6 L809.9,747.6 L812.5,747.6 L815.2,747.6 L817.9,747.6 L820.6,747.6 L823.3,747.6 L826.0,747.6 L828.7,747.6 L831.3,747.6 L834.0,747.6 L836.7,747.6 L839.4,747.6 L842.1,747.6 L844.8,747.6 L847.4,747.6 L850.1,747.6 L852.8,747.6 L855.5,747.6 L858.2,747.6 L860.9,747.6 L863.5,747.6 L866.2,747.6 L868.9,747.6 L871.6,747.6 L874.3,747.6 L877.0,747.6 L879.6,747.6 L882.3,747.6 L885.0,747.6 L887.7,747.6 L890.4,747.6 L893.0,747.6 L895.7,747.6 L898.4,747.6 L901.1,747.6 L903.8,747.6 L906.5,747.6 L909.2,747.6 L911.8,747.6 L914.5,747.6 L917.2,747.6 L919.9,747.6 L922.6,747.6 L925.2,747.6" fill="none" stroke="#45C3EE" stroke-opacity="0.8" stroke-width="3.0" stroke-linejoin="round"/>
<path d="M571.0,746.6 L573.7,746.7 L576.4,746.9 L579.1,747.0 L581.8,747.1 L584.5,747.2 L587.1,747.3 L589.8,747.4 L592.5,747.5 L595.2,747.5 L597.9,747.6 L600.6,747.7 L603.2,747.7 L605.9,747.8 L608.6,747.8 L611.3,747.9 L614.0,747.9 L616.7,748.0 L619.4,748.0 L622.0,748.1 L624.7,748.1 L627.4,748.2 L630.1,748.2 L632.8,748.2 L635.5,748.2 L638.1,748.3 L640.8,748.3 L643.5,748.3 L646.2,748.3 L648.9,748.3 L651.5,748.4 L654.2,748.4 L656.9,748.4 L659.6,748.4 L662.3,748.4 L665.0,748.4 L667.6,748.4 L670.3,748.4 L673.0,748.4 L675.7,748.4 L678.4,748.3 L681.1,748.3 L683.8,748.3 L686.4,748.3 L689.1,748.3 L691.8,748.3 L694.5,748.2 L697.2,748.2 L699.9,748.2 L702.5,748.2 L705.2,748.2 L707.9,748.1 L710.6,748.1 L713.3,748.1 L716.0,748.1 L718.6,748.0 L721.3,748.0 L724.0,748.0 L726.7,748.0 L729.4,748.0 L732.0,748.0 L734.7,747.9 L737.4,747.9 L740.1,747.9 L742.8,747.9 L745.5,747.9 L748.1,747.9 L750.8,747.9 L753.5,747.9 L756.2,747.8 L758.9,747.8 L761.6,747.8 L764.2,747.8 L766.9,747.8 L769.6,747.8 L772.3,747.8 L775.0,747.8 L777.7,747.8 L780.4,747.8 L783.0,747.8 L785.7,747.8 L788.4,747.8 L791.1,747.8 L793.8,747.8 L796.5,747.8 L799.1,747.8 L801.8,747.8 L804.5,747.8 L807.2,747.8 L809.9,747.8 L812.5,747.8 L815.2,747.8 L817.9,747.8 L820.6,747.8 L823.3,747.8 L826.0,747.8 L828.7,747.8 L831.3,747.8 L834.0,747.8 L836.7,747.8 L839.4,747.8 L842.1,747.8 L844.8,747.8 L847.4,747.8 L850.1,747.8 L852.8,747.8 L855.5,747.8 L858.2,747.8 L860.9,747.8 L863.5,747.8 L866.2,747.8 L868.9,747.8 L871.6,747.8 L874.3,747.8 L877.0,747.8 L879.6,747.8 L882.3,747.8 L885.0,747.8 L887.7,747.8 L890.4,747.8 L893.0,747.8 L895.7,747.8 L898.4,747.8 L901.1,747.8 L903.8,747.8 L906.5,747.8 L909.2,747.8 L911.8,747.8 L914.5,747.8 L917.2,747.8 L919.9,747.8 L922.6,747.8 L925.2,747.8" fill="none" stroke="#45C3EE" stroke-opacity="0.8" stroke-width="3.0" stroke-linejoin="round"/>
<path d="M571.0,747.0 L573.7,747.1 L576.4,747.2 L579.1,747.4 L581.8,747.5 L584.5,747.6 L587.1,747.7 L589.8,747.8 L592.5,747.8 L595.2,747.9 L597.9,748.0 L600.6,748.1 L603.2,748.1 L605.9,748.2 L608.6,748.2 L611.3,748.3 L614.0,748.3 L616.7,748.4 L619.4,748.4 L622.0,748.5 L624.7,748.5 L627.4,748.5 L630.1,748.6 L632.8,748.6 L635.5,748.6 L638.1,748.6 L640.8,748.7 L643.5,748.7 L646.2,748.7 L648.9,748.7 L651.5,748.7 L654.2,748.7 L656.9,748.8 L659.6,748.8 L662.3,748.8 L665.0,748.8 L667.6,748.8 L670.3,748.8 L673.0,748.7 L675.7,748.7 L678.4,748.7 L681.1,748.7 L683.8,748.7 L686.4,748.7 L689.1,748.7 L691.8,748.6 L694.5,748.6 L697.2,748.6 L699.9,748.6 L702.5,748.6 L705.2,748.5 L707.9,748.5 L710.6,748.5 L713.3,748.5 L716.0,748.4 L718.6,748.4 L721.3,748.4 L724.0,748.4 L726.7,748.4 L729.4,748.3 L732.0,748.3 L734.7,748.3 L737.4,748.3 L740.1,748.3 L742.8,748.3 L745.5,748.3 L748.1,748.2 L750.8,748.2 L753.5,748.2 L756.2,748.2 L758.9,748.2 L761.6,748.2 L764.2,748.2 L766.9,748.2 L769.6,748.2 L772.3,748.2 L775.0,748.2 L777.7,748.2 L780.4,748.2 L783.0,748.2 L785.7,748.2 L788.4,748.2 L791.1,748.2 L793.8,748.2 L796.5,748.2 L799.1,748.2 L801.8,748.2 L804.5,748.2 L807.2,748.2 L809.9,748.2 L812.5,748.2 L815.2,748.2 L817.9,748.2 L820.6,748.2 L823.3,748.2 L826.0,748.2 L828.7,748.2 L831.3,748.2 L834.0,748.2 L836.7,748.2 L839.4,748.2 L842.1,748.2 L844.8,748.2 L847.4,748.2 L850.1,748.2 L852.8,748.2 L855.5,748.2 L858.2,748.2 L860.9,748.2 L863.5,748.2 L866.2,748.2 L868.9,748.2 L871.6,748.2 L874.3,748.2 L877.0,748.2 L879.6,748.2 L882.3,748.2 L885.0,748.2 L887.7,748.2 L890.4,748.2 L893.0,748.2 L895.7,748.2 L898.4,748.2 L901.1,748.2 L903.8,748.2 L906.5,748.2 L909.2,748.2 L911.8,748.2 L914.5,748.2 L917.2,748.2 L919.9,748.2 L922.6,748.2 L925.2,748.2" fill="none" stroke="#CBC759" stroke-opacity="0.8" stroke-width="3.0" stroke-linejoin="round"/>
<path d="M571.0,747.0 L573.7,747.1 L576.4,747.3 L579.1,747.4 L581.8,747.5 L584.5,747.6 L587.1,747.7 L589.8,747.8 L592.5,747.8 L595.2,747.9 L597.9,748.0 L600.6,748.1 L603.2,748.1 L605.9,748.2 L608.6,748.2 L611.3,748.3 L614.0,748.3 L616.7,748.4 L619.4,748.4 L622.0,748.5 L624.7,748.5 L627.4,748.5 L630.1,748.6 L632.8,748.6 L635.5,748.6 L638.1,748.6 L640.8,748.7 L643.5,748.7 L646.2,748.7 L648.9,748.7 L651.5,748.7 L654.2,748.7 L656.9,748.8 L659.6,748.8 L662.3,748.8 L665.0,748.8 L667.6,748.8 L670.3,748.8 L673.0,748.7 L675.7,748.7 L678.4,748.7 L681.1,748.7 L683.8,748.7 L686.4,748.7 L689.1,748.7 L691.8,748.6 L694.5,748.6 L697.2,748.6 L699.9,748.6 L702.5,748.6 L705.2,748.5 L707.9,748.5 L710.6,748.5 L713.3,748.5 L716.0,748.5 L718.6,748.4 L721.3,748.4 L724.0,748.4 L726.7,748.4 L729.4,748.4 L732.0,748.3 L734.7,748.3 L737.4,748.3 L740.1,748.3 L742.8,748.3 L745.5,748.3 L748.1,748.3 L750.8,748.2 L753.5,748.2 L756.2,748.2 L758.9,748.2 L761.6,748.2 L764.2,748.2 L766.9,748.2 L769.6,748.2 L772.3,748.2 L775.0,748.2 L777.7,748.2 L780.4,748.2 L783.0,748.2 L785.7,748.2 L788.4,748.2 L791.1,748.2 L793.8,748.2 L796.5,748.2 L799.1,748.2 L801.8,748.2 L804.5,748.2 L807.2,748.2 L809.9,748.2 L812.5,748.2 L815.2,748.2 L817.9,748.2 L820.6,748.2 L823.3,748.2 L826.0,748.2 L828.7,748.2 L831.3,748.2 L834.0,748.2 L836.7,748.2 L839.4,748.2 L842.1,748.2 L844.8,748.2 L847.4,748.2 L850.1,748.2 L852.8,748.2 L855.5,748.2 L858.2,748.2 L860.9,748.2 L863.5,748.2 L866.2,748.2 L868.9,748.2 L871.6,748.2 L874.3,748.2 L877.0,748.2 L879.6,748.2 L882.3,748.2 L885.0,748.2 L887.7,748.2 L890.4,748.2 L893.0,748.2 L895.7,748.2 L898.4,748.2 L901.1,748.2 L903.8,748.2 L906.5,748.2 L909.2,748.2 L911.8,748.2 L914.5,748.2 L917.2,748.2 L919.9,748.2 L922.6,748.2 L925.2,748.2" fill="none" stroke="#CBC759" stroke-opacity="0.8" stroke-width="3.0" stroke-linejoin="round"/>
<path d="M571.0,746.8 L573.7,746.9 L576.4,747.0 L579.1,747.2 L581.8,747.3 L584.5,747.4 L587.1,747.5 L589.8,747.5 L592.5,747.6 L595.2,747.7 L597.9,747.8 L600.6,747.8 L603.2,747.9 L605.9,748.0 L608.6,748.0 L611.3,748.1 L614.0,748.1 L616.7,748.2 L619.4,748.2 L622.0,748.2 L624.7,748.3 L627.4,748.3 L630.1,748.3 L632.8,748.4 L635.5,748.4 L638.1,748.4 L640.8,748.5 L643.5,748.5 L646.2,748.5 L648.9,748.5 L651.5,748.5 L654.2,748.5 L656.9,748.5 L659.6,748.5 L662.3,748.5 L665.0,748.5 L667.6,748.5 L670.3,748.5 L673.0,748.5 L675.7,748.5 L678.4,748.5 L681.1,748.5 L683.8,748.5 L686.4,748.5 L689.1,748.4 L691.8,748.4 L694.5,748.4 L697.2,748.4 L699.9,748.4 L702.5,748.3 L705.2,748.3 L707.9,748.3 L710.6,748.3 L713.3,748.3 L716.0,748.2 L718.6,748.2 L721.3,748.2 L724.0,748.2 L726.7,748.2 L729.4,748.1 L732.0,748.1 L734.7,748.1 L737.4,748.1 L740.1,748.1 L742.8,748.1 L745.5,748.0 L748.1,748.0 L750.8,748.0 L753.5,748.0 L756.2,748.0 L758.9,748.0 L761.6,748.0 L764.2,748.0 L766.9,748.0 L769.6,748.0 L772.3,748.0 L775.0,748.0 L777.7,748.0 L780.4,748.0 L783.0,748.0 L785.7,748.0 L788.4,747.9 L791.1,747.9 L793.8,747.9 L796.5,747.9 L799.1,747.9 L801.8,747.9 L804.5,747.9 L807.2,747.9 L809.9,747.9 L812.5,747.9 L815.2,747.9 L817.9,747.9 L820.6,747.9 L823.3,747.9 L826.0,747.9 L828.7,747.9 L831.3,747.9 L834.0,747.9 L836.7,747.9 L839.4,747.9 L842.1,747.9 L844.8,747.9 L847.4,747.9 L850.1,747.9 L852.8,747.9 L855.5,747.9 L858.2,747.9 L860.9,747.9 L863.5,747.9 L866.2,747.9 L868.9,747.9 L871.6,747.9 L874.3,747.9 L877.0,747.9 L879.6,747.9 L882.3,747.9 L885.0,747.9 L887.7,747.9 L890.4,747.9 L893.0,747.9 L895.7,747.9 L898.4,747.9 L901.1,747.9 L903.8,747.9 L906.5,747.9 L909.2,747.9 L911.8,747.9 L914.5,747.9 L917.2,747.9 L919.9,747.9 L922.6,747.9 L925.2,747.9" fill="none" stroke="#CBC759" stroke-opacity="0.8" stroke-width="3.0" stroke-linejoin="round"/>
<path d="M571.0,745.0 L573.7,745.3 L576.4,745.5 L579.1,745.7 L581.8,745.9 L584.5,746.1 L587.1,746.3 L589.8,746.4 L592.5,746.5 L595.2,746.7 L597.9,746.8 L600.6,746.9 L603.2,747.0 L605.9,747.1 L608.6,747.1 L611.3,747.2 L614.0,747.3 L616.7,747.3 L619.4,747.4 L622.0,747.5 L624.7,747.5 L627.4,747.6 L630.1,747.6 L632.8,747.6 L635.5,747.7 L638.1,747.7 L640.8,747.7 L643.5,747.8 L646.2,747.8 L648.9,747.8 L651.5,747.8 L654.2,747.9 L656.9,747.9 L659.6,747.9 L662.3,747.9 L665.0,747.9 L667.6,747.9 L670.3,747.9 L673.0,747.9 L675.7,747.9 L678.4,747.9 L681.1,747.8 L683.8,747.8 L686.4,747.8 L689.1,747.8 L691.8,747.8 L694.5,747.8 L697.2,747.7 L699.9,747.7 L702.5,747.7 L705.2,747.7 L707.9,747.6 L710.6,747.6 L713.3,747.6 L716.0,747.6 L718.6,747.6 L721.3,747.5 L724.0,747.5 L726.7,747.5 L729.4,747.5 L732.0,747.5 L734.7,747.5 L737.4,747.4 L740.1,747.4 L742.8,747.4 L745.5,747.4 L748.1,747.4 L750.8,747.4 L753.5,747.4 L756.2,747.4 L758.9,747.4 L761.6,747.3 L764.2,747.3 L766.9,747.3 L769.6,747.3 L772.3,747.3 L775.0,747.3 L777.7,747.3 L780.4,747.3 L783.0,747.3 L785.7,747.3 L788.4,747.3 L791.1,747.3 L793.8,747.3 L796.5,747.3 L799.1,747.3 L801.8,747.3 L804.5,747.3 L807.2,747.3 L809.9,747.3 L812.5,747.3 L815.2,747.3 L817.9,747.3 L820.6,747.3 L823.3,747.3 L826.0,747.3 L828.7,747.3 L831.3,747.3 L834.0,747.3 L836.7,747.3 L839.4,747.3 L842.1,747.3 L844.8,747.3 L847.4,747.3 L850.1,747.3 L852.8,747.3 L855.5,747.3 L858.2,747.3 L860.9,747.3 L863.5,747.3 L866.2,747.3 L868.9,747.3 L871.6,747.3 L874.3,747.3 L877.0,747.3 L879.6,747.3 L882.3,747.3 L885.0,747.3 L887.7,747.3 L890.4,747.3 L893.0,747.3 L895.7,747.3 L898.4,747.3 L901.1,747.3 L903.8,747.3 L906.5,747.3 L909.2,747.3 L911.8,747.3 L914.5,747.3 L917.2,747.3 L919.9,747.3 L922.6,747.3 L925.2,747.3" fill="none" stroke="#26B18B" stroke-opacity="0.8" stroke-width="3.0" stroke-linejoin="round"/>
<path d="M571.0,745.4 L573.7,745.7 L576.4,745.9 L579.1,746.1 L581.8,746.3 L584.5,746.5 L587.1,746.7 L589.8,746.8 L592.5,746.9 L595.2,747.1 L597.9,747.2 L600.6,747.3 L603.2,747.4 L605.9,747.5 L608.6,747.5 L611.3,747.6 L614.0,747.7 L616.7,747.7 L619.4,747.8 L622.0,747.9 L624.7,747.9 L627.4,748.0 L630.1,748.0 L632.8,748.0 L635.5,748.1 L638.1,748.1 L640.8,748.1 L643.5,748.2 L646.2,748.2 L648.9,748.2 L651.5,748.2 L654.2,748.2 L656.9,748.3 L659.6,748.3 L662.3,748.3 L665.0,748.3 L667.6,748.3 L670.3,748.3 L673.0,748.3 L675.7,748.3 L678.4,748.2 L681.1,748.2 L683.8,748.2 L686.4,748.2 L689.1,748.2 L691.8,748.2 L694.5,748.2 L697.2,748.1 L699.9,748.1 L702.5,748.1 L705.2,748.1 L707.9,748.0 L710.6,748.0 L713.3,748.0 L716.0,748.0 L718.6,748.0 L721.3,747.9 L724.0,747.9 L726.7,747.9 L729.4,747.9 L732.0,747.9 L734.7,747.9 L737.4,747.8 L740.1,747.8 L742.8,747.8 L745.5,747.8 L748.1,747.8 L750.8,747.8 L753.5,747.8 L756.2,747.8 L758.9,747.7 L761.6,747.7 L764.2,747.7 L766.9,747.7 L769.6,747.7 L772.3,747.7 L775.0,747.7 L777.7,747.7 L780.4,747.7 L783.0,747.7 L785.7,747.7 L788.4,747.7 L791.1,747.7 L793.8,747.7 L796.5,747.7 L799.1,747.7 L801.8,747.7 L804.5,747.7 L807.2,747.7 L809.9,747.7 L812.5,747.7 L815.2,747.7 L817.9,747.7 L820.6,747.7 L823.3,747.7 L826.0,747.7 L828.7,747.7 L831.3,747.7 L834.0,747.7 L836.7,747.7 L839.4,747.7 L842.1,747.7 L844.8,747.7 L847.4,747.7 L850.1,747.7 L852.8,747.7 L855.5,747.7 L858.2,747.7 L860.9,747.7 L863.5,747.7 L866.2,747.7 L868.9,747.7 L871.6,747.7 L874.3,747.7 L877.0,747.7 L879.6,747.7 L882.3,747.7 L885.0,747.7 L887.7,747.7 L890.4,747.7 L893.0,747.7 L895.7,747.7 L898.4,747.7 L901.1,747.7 L903.8,747.7 L906.5,747.7 L909.2,747.7 L911.8,747.7 L914.5,747.7 L917.2,747.7 L919.9,747.7 L922.6,747.7 L925.2,747.7" fill="none" stroke="#26B18B" stroke-opacity="0.8" stroke-width="3.0" stroke-linejoin="round"/>
<path d="M571.0,745.2 L573.7,745.4 L576.4,745.7 L579.1,745.9 L581.8,746.1 L584.5,746.2 L587.1,746.4 L589.8,746.6 L592.5,746.7 L595.2,746.8 L597.9,746.9 L600.6,747.0 L603.2,747.1 L605.9,747.2 L608.6,747.3 L611.3,747.4 L614.0,747.4 L616.7,747.5 L619.4,747.5 L622.0,747.6 L624.7,747.7 L627.4,747.7 L630.1,747.7 L632.8,747.8 L635.5,747.8 L638.1,747.9 L640.8,747.9 L643.5,747.9 L646.2,747.9 L648.9,748.0 L651.5,748.0 L654.2,748.0 L656.9,748.0 L659.6,748.0 L662.3,748.0 L665.0,748.0 L667.6,748.0 L670.3,748.0 L673.0,748.0 L675.7,748.0 L678.4,748.0 L681.1,748.0 L683.8,748.0 L686.4,747.9 L689.1,747.9 L691.8,747.9 L694.5,747.9 L697.2,747.9 L699.9,747.8 L702.5,747.8 L705.2,747.8 L707.9,747.8 L710.6,747.8 L713.3,747.7 L716.0,747.7 L718.6,747.7 L721.3,747.7 L724.0,747.7 L726.7,747.6 L729.4,747.6 L732.0,747.6 L734.7,747.6 L737.4,747.6 L740.1,747.6 L742.8,747.5 L745.5,747.5 L748.1,747.5 L750.8,747.5 L753.5,747.5 L756.2,747.5 L758.9,747.5 L761.6,747.5 L764.2,747.5 L766.9,747.5 L769.6,747.5 L772.3,747.5 L775.0,747.5 L777.7,747.5 L780.4,747.4 L783.0,747.4 L785.7,747.4 L788.4,747.4 L791.1,747.4 L793.8,747.4 L796.5,747.4 L799.1,747.4 L801.8,747.4 L804.5,747.4 L807.2,747.4 L809.9,747.4 L812.5,747.4 L815.2,747.4 L817.9,747.4 L820.6,747.4 L823.3,747.4 L826.0,747.4 L828.7,747.4 L831.3,747.4 L834.0,747.4 L836.7,747.4 L839.4,747.4 L842.1,747.4 L844.8,747.4 L847.4,747.4 L850.1,747.4 L852.8,747.4 L855.5,747.4 L858.2,747.4 L860.9,747.4 L863.5,747.4 L866.2,747.4 L868.9,747.4 L871.6,747.4 L874.3,747.4 L877.0,747.4 L879.6,747.4 L882.3,747.4 L885.0,747.4 L887.7,747.4 L890.4,747.4 L893.0,747.4 L895.7,747.4 L898.4,747.4 L901.1,747.4 L903.8,747.4 L906.5,747.4 L909.2,747.4 L911.8,747.4 L914.5,747.4 L917.2,747.4 L919.9,747.4 L922.6,747.4 L925.2,747.4" fill="none" stroke="#26B18B" stroke-opacity="0.8" stroke-width="3.0" stroke-linejoin="round"/>
<path d="M571.0,746.8 L573.7,746.9 L576.4,747.0 L579.1,747.0 L581.8,747.1 L584.5,747.2 L587.1,747.2 L589.8,747.3 L592.5,747.3 L595.2,747.4 L597.9,747.4 L600.6,747.5 L603.2,747.5 L605.9,747.5 L608.6,747.6 L611.3,747.6 L614.0,747.7 L616.7,747.7 L619.4,747.7 L622.0,747.7 L624.7,747.8 L627.4,747.8 L630.1,747.8 L632.8,747.9 L635.5,747.9 L638.1,747.9 L640.8,747.9 L643.5,747.9 L646.2,748.0 L648.9,748.0 L651.5,748.0 L654.2,748.0 L656.9,748.0 L659.6,748.0 L662.3,748.0 L665.0,748.0 L667.6,748.0 L670.3,748.0 L673.0,748.0 L675.7,748.0 L678.4,748.0 L681.1,747.9 L683.8,747.9 L686.4,747.9 L689.1,747.9 L691.8,747.9 L694.5,747.8 L697.2,747.8 L699.9,747.8 L702.5,747.8 L705.2,747.8 L707.9,747.7 L710.6,747.7 L713.3,747.7 L716.0,747.7 L718.6,747.6 L721.3,747.6 L724.0,747.6 L726.7,747.6 L729.4,747.6 L732.0,747.6 L734.7,747.5 L737.4,747.5 L740.1,747.5 L742.8,747.5 L745.5,747.5 L748.1,747.5 L750.8,747.5 L753.5,747.4 L756.2,747.4 L758.9,747.4 L761.6,747.4 L764.2,747.4 L766.9,747.4 L769.6,747.4 L772.3,747.4 L775.0,747.4 L777.7,747.4 L780.4,747.4 L783.0,747.4 L785.7,747.4 L788.4,747.4 L791.1,747.4 L793.8,747.4 L796.5,747.4 L799.1,747.4 L801.8,747.4 L804.5,747.4 L807.2,747.4 L809.9,747.4 L812.5,747.4 L815.2,747.4 L817.9,747.4 L820.6,747.4 L823.3,747.4 L826.0,747.4 L828.7,747.4 L831.3,747.4 L834.0,747.4 L836.7,747.4 L839.4,747.4 L842.1,747.4 L844.8,747.4 L847.4,747.4 L850.1,747.4 L852.8,747.4 L855.5,747.4 L858.2,747.4 L860.9,747.4 L863.5,747.4 L866.2,747.4 L868.9,747.4 L871.6,747.4 L874.3,747.4 L877.0,747.4 L879.6,747.4 L882.3,747.4 L885.0,747.4 L887.7,747.4 L890.4,747.4 L893.0,747.4 L895.7,747.4 L898.4,747.4 L901.1,747.4 L903.8,747.4 L906.5,747.4 L909.2,747.4 L911.8,747.4 L914.5,747.4 L917.2,747.4 L919.9,747.4 L922.6,747.4 L925.2,747.4" fill="none" stroke="#E7298A" stroke-opacity="0.8" stroke-width="3.0" stroke-linejoin="round"/>
<path d="M571.0,747.0 L573.7,747.1 L576.4,747.2 L579.1,747.2 L581.8,747.3 L584.5,747.4 L587.1,747.4 L589.8,747.5 L592.5,747.5 L595.2,747.6 L597.9,747.6 L600.6,747.7 L603.2,747.7 L605.9,747.7 L608.6,747.8 L611.3,747.8 L614.0,747.8 L616.7,747.9 L619.4,747.9 L622.0,747.9 L624.7,748.0 L627.4,748.0 L630.1,748.0 L632.8,748.1 L635.5,748.1 L638.1,748.1 L640.8,748.1 L643.5,748.1 L646.2,748.2 L648.9,748.2 L651.5,748.2 L654.2,748.2 L656.9,748.2 L659.6,748.2 L662.3,748.2 L665.0,748.2 L667.6,748.2 L670.3,748.2 L673.0,748.2 L675.7,748.2 L678.4,748.1 L681.1,748.1 L683.8,748.1 L686.4,748.1 L689.1,748.1 L691.8,748.1 L694.5,748.0 L697.2,748.0 L699.9,748.0 L702.5,748.0 L705.2,748.0 L707.9,747.9 L710.6,747.9 L713.3,747.9 L716.0,747.9 L718.6,747.8 L721.3,747.8 L724.0,747.8 L726.7,747.8 L729.4,747.8 L732.0,747.7 L734.7,747.7 L737.4,747.7 L740.1,747.7 L742.8,747.7 L745.5,747.7 L748.1,747.7 L750.8,747.7 L753.5,747.6 L756.2,747.6 L758.9,747.6 L761.6,747.6 L764.2,747.6 L766.9,747.6 L769.6,747.6 L772.3,747.6 L775.0,747.6 L777.7,747.6 L780.4,747.6 L783.0,747.6 L785.7,747.6 L788.4,747.6 L791.1,747.6 L793.8,747.6 L796.5,747.6 L799.1,747.6 L801.8,747.6 L804.5,747.6 L807.2,747.6 L809.9,747.6 L812.5,747.6 L815.2,747.6 L817.9,747.6 L820.6,747.6 L823.3,747.6 L826.0,747.6 L828.7,747.6 L831.3,747.6 L834.0,747.6 L836.7,747.6 L839.4,747.6 L842.1,747.6 L844.8,747.6 L847.4,747.6 L850.1,747.6 L852.8,747.6 L855.5,747.6 L858.2,747.6 L860.9,747.6 L863.5,747.6 L866.2,747.6 L868.9,747.6 L871.6,747.6 L874.3,747.6 L877.0,747.6 L879.6,747.6 L882.3,747.6 L885.0,747.6 L887.7,747.6 L890.4,747.6 L893.0,747.6 L895.7,747.6 L898.4,747.6 L901.1,747.6 L903.8,747.6 L906.5,747.6 L909.2,747.6 L911.8,747.6 L914.5,747.6 L917.2,747.6 L919.9,747.6 L922.6,747.6 L925.2,747.6" fill="none" stroke="#E7298A" stroke-opacity="0.8" stroke-width="3.0" stroke-linejoin="round"/>
<path d="M571.0,747.3 L573.7,747.3 L576.4,747.4 L579.1,747.5 L581.8,747.5 L584.5,747.6 L587.1,747.7 L589.8,747.7 L592.5,747.8 L595.2,747.8 L597.9,747.8 L600.6,747.9 L603.2,747.9 L605.9,748.0 L608.6,748.0 L611.3,748.0 L614.0,748.1 L616.7,748.1 L619.4,748.1 L622.0,748.2 L624.7,748.2 L627.4,748.2 L630.1,748.3 L632.8,748.3 L635.5,748.3 L638.1,748.3 L640.8,748.3 L643.5,748.4 L646.2,748.4 L648.9,748.4 L651.5,748.4 L654.2,748.4 L656.9,748.4 L659.6,748.4 L662.3,748.4 L665.0,748.4 L667.6,748.4 L670.3,748.4 L673.0,748.4 L675.7,748.4 L678.4,748.4 L681.1,748.4 L683.8,748.3 L686.4,748.3 L689.1,748.3 L691.8,748.3 L694.5,748.3 L697.2,748.2 L699.9,748.2 L702.5,748.2 L705.2,748.2 L707.9,748.2 L710.6,748.1 L713.3,748.1 L716.0,748.1 L718.6,748.1 L721.3,748.1 L724.0,748.0 L726.7,748.0 L729.4,748.0 L732.0,748.0 L734.7,748.0 L737.4,747.9 L740.1,747.9 L742.8,747.9 L745.5,747.9 L748.1,747.9 L750.8,747.9 L753.5,747.9 L756.2,747.9 L758.9,747.9 L761.6,747.9 L764.2,747.8 L766.9,747.8 L769.6,747.8 L772.3,747.8 L775.0,747.8 L777.7,747.8 L780.4,747.8 L783.0,747.8 L785.7,747.8 L788.4,747.8 L791.1,747.8 L793.8,747.8 L796.5,747.8 L799.1,747.8 L801.8,747.8 L804.5,747.8 L807.2,747.8 L809.9,747.8 L812.5,747.8 L815.2,747.8 L817.9,747.8 L820.6,747.8 L823.3,747.8 L826.0,747.8 L828.7,747.8 L831.3,747.8 L834.0,747.8 L836.7,747.8 L839.4,747.8 L842.1,747.8 L844.8,747.8 L847.4,747.8 L850.1,747.8 L852.8,747.8 L855.5,747.8 L858.2,747.8 L860.9,747.8 L863.5,747.8 L866.2,747.8 L868.9,747.8 L871.6,747.8 L874.3,747.8 L877.0,747.8 L879.6,747.8 L882.3,747.8 L885.0,747.8 L887.7,747.8 L890.4,747.8 L893.0,747.8 L895.7,747.8 L898.4,747.8 L901.1,747.8 L903.8,747.8 L906.5,747.8 L909.2,747.8 L911.8,747.8 L914.5,747.8 L917.2,747.8 L919.9,747.8 L922.6,747.8 L925.2,747.8" fill="none" stroke="#E7298A" stroke-opacity="0.8" stroke-width="3.0" stroke-linejoin="round"/>
<path d="M987.4,746.3 L990.1,746.5 L992.8,746.6 L995.5,746.7 L998.2,746.8 L1000.9,746.9 L1003.5,747.0 L1006.2,747.1 L1008.9,747.2 L1011.6,747.3 L1014.3,747.3 L1017.0,747.4 L1019.6,747.5 L1022.3,747.5 L1025.0,747.6 L1027.7,747.6 L1030.4,747.7 L1033.1,747.7 L1035.8,747.8 L1038.4,747.8 L1041.1,747.8 L1043.8,747.9 L1046.5,747.9 L1049.2,747.9 L1051.8,748.0 L1054.5,748.0 L1057.2,748.0 L1059.9,748.0 L1062.6,748.1 L1065.3,748.1 L1068.0,748.1 L1070.6,748.1 L1073.3,748.1 L1076.0,748.1 L1078.7,748.1 L1081.4,748.1 L1084.0,748.1 L1086.7,748.1 L1089.4,748.1 L1092.1,748.1 L1094.8,748.1 L1097.5,748.1 L1100.2,748.0 L1102.8,748.0 L1105.5,748.0 L1108.2,748.0 L1110.9,748.0 L1113.6,747.9 L1116.2,747.9 L1118.9,747.9 L1121.6,747.9 L1124.3,747.9 L1127.0,747.8 L1129.7,747.8 L1132.3,747.8 L1135.0,747.8 L1137.7,747.8 L1140.4,747.7 L1143.1,747.7 L1145.8,747.7 L1148.5,747.7 L1151.1,747.7 L1153.8,747.6 L1156.5,747.6 L1159.2,747.6 L1161.9,747.6 L1164.5,747.5 L1167.2,747.5 L1169.9,747.4 L1172.6,747.4 L1175.3,747.3 L1178.0,747.2 L1180.7,747.1 L1183.3,746.9 L1186.0,746.7 L1188.7,746.4 L1191.4,746.1 L1194.1,745.7 L1196.8,745.2 L1199.4,744.5 L1202.1,743.8 L1204.8,742.9 L1207.5,741.8 L1210.2,740.5 L1212.8,739.0 L1215.5,737.3 L1218.2,735.4 L1220.9,733.2 L1223.6,730.8 L1226.3,728.1 L1229.0,725.2 L1231.6,722.0 L1234.3,718.6 L1237.0,714.9 L1239.7,711.0 L1242.4,706.9 L1245.0,702.7 L1247.7,698.3 L1250.4,693.8 L1253.1,689.2 L1255.8,684.6 L1258.5,679.9 L1261.2,675.1 L1263.8,670.4 L1266.5,665.8 L1269.2,661.2 L1271.9,656.6 L1274.6,652.2 L1277.2,647.9 L1279.9,643.7 L1282.6,639.6 L1285.3,635.7 L1288.0,631.9 L1290.7,628.3 L1293.3,624.8 L1296.0,621.5 L1298.7,618.4 L1301.4,615.4 L1304.1,612.5 L1306.8,609.8 L1309.5,607.3 L1312.1,604.9 L1314.8,602.6 L1317.5,600.5 L1320.2,598.5 L1322.9,596.7 L1325.5,594.9 L1328.2,593.3 L1330.9,591.7 L1333.6,590.3 L1336.3,589.0 L1339.0,587.7 L1341.7,586.5" fill="none" stroke="#45C3EE" stroke-opacity="0.8" stroke-width="3.0" stroke-linejoin="round"/>
<path d="M987.4,746.3 L990.1,746.5 L992.8,746.6 L995.5,746.7 L998.2,746.8 L1000.9,746.9 L1003.5,747.0 L1006.2,747.1 L1008.9,747.2 L1011.6,747.3 L1014.3,747.3 L1017.0,747.4 L1019.6,747.5 L1022.3,747.5 L1025.0,747.6 L1027.7,747.6 L1030.4,747.7 L1033.1,747.7 L1035.8,747.8 L1038.4,747.8 L1041.1,747.8 L1043.8,747.9 L1046.5,747.9 L1049.2,747.9 L1051.8,748.0 L1054.5,748.0 L1057.2,748.0 L1059.9,748.0 L1062.6,748.1 L1065.3,748.1 L1068.0,748.1 L1070.6,748.1 L1073.3,748.1 L1076.0,748.1 L1078.7,748.1 L1081.4,748.1 L1084.0,748.1 L1086.7,748.1 L1089.4,748.1 L1092.1,748.1 L1094.8,748.1 L1097.5,748.1 L1100.2,748.0 L1102.8,748.0 L1105.5,748.0 L1108.2,748.0 L1110.9,748.0 L1113.6,747.9 L1116.2,747.9 L1118.9,747.9 L1121.6,747.9 L1124.3,747.9 L1127.0,747.8 L1129.7,747.8 L1132.3,747.8 L1135.0,747.8 L1137.7,747.8 L1140.4,747.7 L1143.1,747.7 L1145.8,747.7 L1148.5,747.7 L1151.1,747.7 L1153.8,747.6 L1156.5,747.6 L1159.2,747.6 L1161.9,747.6 L1164.5,747.5 L1167.2,747.5 L1169.9,747.4 L1172.6,747.4 L1175.3,747.3 L1178.0,747.2 L1180.7,747.1 L1183.3,746.9 L1186.0,746.7 L1188.7,746.4 L1191.4,746.1 L1194.1,745.7 L1196.8,745.2 L1199.4,744.6 L1202.1,743.8 L1204.8,742.9 L1207.5,741.8 L1210.2,740.6 L1212.8,739.1 L1215.5,737.4 L1218.2,735.5 L1220.9,733.3 L1223.6,730.9 L1226.3,728.3 L1229.0,725.4 L1231.6,722.2 L1234.3,718.8 L1237.0,715.1 L1239.7,711.3 L1242.4,707.3 L1245.0,703.1 L1247.7,698.7 L1250.4,694.2 L1253.1,689.7 L1255.8,685.1 L1258.5,680.4 L1261.2,675.7 L1263.8,671.1 L1266.5,666.4 L1269.2,661.9 L1271.9,657.4 L1274.6,653.0 L1277.2,648.7 L1279.9,644.5 L1282.6,640.5 L1285.3,636.6 L1288.0,632.8 L1290.7,629.2 L1293.3,625.8 L1296.0,622.5 L1298.7,619.4 L1301.4,616.4 L1304.1,613.6 L1306.8,610.9 L1309.5,608.4 L1312.1,606.0 L1314.8,603.8 L1317.5,601.7 L1320.2,599.7 L1322.9,597.9 L1325.5,596.1 L1328.2,594.5 L1330.9,593.0 L1333.6,591.5 L1336.3,590.2 L1339.0,589.0 L1341.7,587.8" fill="none" stroke="#45C3EE" stroke-opacity="0.8" stroke-width="3.0" stroke-linejoin="round"/>
<path d="M987.4,746.3 L990.1,746.5 L992.8,746.6 L995.5,746.7 L998.2,746.8 L1000.9,746.9 L1003.5,747.0 L1006.2,747.1 L1008.9,747.2 L1011.6,747.3 L1014.3,747.3 L1017.0,747.4 L1019.6,747.5 L1022.3,747.5 L1025.0,747.6 L1027.7,747.6 L1030.4,747.7 L1033.1,747.7 L1035.8,747.8 L1038.4,747.8 L1041.1,747.8 L1043.8,747.9 L1046.5,747.9 L1049.2,747.9 L1051.8,748.0 L1054.5,748.0 L1057.2,748.0 L1059.9,748.0 L1062.6,748.1 L1065.3,748.1 L1068.0,748.1 L1070.6,748.1 L1073.3,748.1 L1076.0,748.1 L1078.7,748.1 L1081.4,748.1 L1084.0,748.1 L1086.7,748.1 L1089.4,748.1 L1092.1,748.1 L1094.8,748.1 L1097.5,748.1 L1100.2,748.0 L1102.8,748.0 L1105.5,748.0 L1108.2,748.0 L1110.9,748.0 L1113.6,747.9 L1116.2,747.9 L1118.9,747.9 L1121.6,747.9 L1124.3,747.9 L1127.0,747.8 L1129.7,747.8 L1132.3,747.8 L1135.0,747.8 L1137.7,747.8 L1140.4,747.7 L1143.1,747.7 L1145.8,747.7 L1148.5,747.7 L1151.1,747.7 L1153.8,747.6 L1156.5,747.6 L1159.2,747.6 L1161.9,747.6 L1164.5,747.5 L1167.2,747.5 L1169.9,747.4 L1172.6,747.4 L1175.3,747.3 L1178.0,747.2 L1180.7,747.1 L1183.3,746.9 L1186.0,746.7 L1188.7,746.5 L1191.4,746.1 L1194.1,745.7 L1196.8,745.2 L1199.4,744.6 L1202.1,743.8 L1204.8,742.9 L1207.5,741.9 L1210.2,740.6 L1212.8,739.2 L1215.5,737.5 L1218.2,735.6 L1220.9,733.5 L1223.6,731.1 L1226.3,728.4 L1229.0,725.5 L1231.6,722.4 L1234.3,719.0 L1237.0,715.4 L1239.7,711.6 L1242.4,707.6 L1245.0,703.4 L1247.7,699.1 L1250.4,694.7 L1253.1,690.1 L1255.8,685.6 L1258.5,680.9 L1261.2,676.3 L1263.8,671.7 L1266.5,667.1 L1269.2,662.5 L1271.9,658.1 L1274.6,653.7 L1277.2,649.5 L1279.9,645.3 L1282.6,641.3 L1285.3,637.5 L1288.0,633.7 L1290.7,630.2 L1293.3,626.8 L1296.0,623.5 L1298.7,620.4 L1301.4,617.5 L1304.1,614.7 L1306.8,612.0 L1309.5,609.5 L1312.1,607.2 L1314.8,604.9 L1317.5,602.9 L1320.2,600.9 L1322.9,599.1 L1325.5,597.3 L1328.2,595.7 L1330.9,594.2 L1333.6,592.8 L1336.3,591.5 L1339.0,590.2 L1341.7,589.1" fill="none" stroke="#45C3EE" stroke-opacity="0.8" stroke-width="3.0" stroke-linejoin="round"/>
<path d="M987.4,746.3 L990.1,746.5 L992.8,746.6 L995.5,746.7 L998.2,746.8 L1000.9,746.9 L1003.5,747.0 L1006.2,747.1 L1008.9,747.2 L1011.6,747.3 L1014.3,747.3 L1017.0,747.4 L1019.6,747.5 L1022.3,747.5 L1025.0,747.6 L1027.7,747.6 L1030.4,747.7 L1033.1,747.7 L1035.8,747.8 L1038.4,747.8 L1041.1,747.8 L1043.8,747.9 L1046.5,747.9 L1049.2,747.9 L1051.8,748.0 L1054.5,748.0 L1057.2,748.0 L1059.9,748.0 L1062.6,748.1 L1065.3,748.1 L1068.0,748.1 L1070.6,748.1 L1073.3,748.1 L1076.0,748.1 L1078.7,748.1 L1081.4,748.1 L1084.0,748.1 L1086.7,748.1 L1089.4,748.1 L1092.1,748.1 L1094.8,748.1 L1097.5,748.1 L1100.2,748.0 L1102.8,748.0 L1105.5,748.0 L1108.2,748.0 L1110.9,748.0 L1113.6,747.9 L1116.2,747.9 L1118.9,747.9 L1121.6,747.9 L1124.3,747.9 L1127.0,747.8 L1129.7,747.8 L1132.3,747.8 L1135.0,747.8 L1137.7,747.8 L1140.4,747.7 L1143.1,747.7 L1145.8,747.7 L1148.5,747.7 L1151.1,747.7 L1153.8,747.6 L1156.5,747.6 L1159.2,747.6 L1161.9,747.6 L1164.5,747.6 L1167.2,747.6 L1169.9,747.6 L1172.6,747.6 L1175.3,747.6 L1178.0,747.5 L1180.7,747.5 L1183.3,747.5 L1186.0,747.5 L1188.7,747.5 L1191.4,747.5 L1194.1,747.5 L1196.8,747.5 L1199.4,747.5 L1202.1,747.5 L1204.8,747.5 L1207.5,747.4 L1210.2,747.4 L1212.8,747.4 L1215.5,747.4 L1218.2,747.3 L1220.9,747.3 L1223.6,747.2 L1226.3,747.2 L1229.0,747.1 L1231.6,747.0 L1234.3,746.8 L1237.0,746.6 L1239.7,746.4 L1242.4,746.1 L1245.0,745.8 L1247.7,745.3 L1250.4,744.8 L1253.1,744.1 L1255.8,743.3 L1258.5,742.4 L1261.2,741.3 L1263.8,739.9 L1266.5,738.3 L1269.2,736.5 L1271.9,734.4 L1274.6,731.9 L1277.2,729.2 L1279.9,726.1 L1282.6,722.7 L1285.3,718.9 L1288.0,714.9 L1290.7,710.5 L1293.3,706.0 L1296.0,701.2 L1298.7,696.2 L1301.4,691.1 L1304.1,686.0 L1306.8,680.9 L1309.5,675.8 L1312.1,670.8 L1314.8,666.0 L1317.5,661.3 L1320.2,656.8 L1322.9,652.6 L1325.5,648.6 L1328.2,644.8 L1330.9,641.3 L1333.6,638.0 L1336.3,635.0 L1339.0,632.3 L1341.7,629.8" fill="none" stroke="#CBC759" stroke-opacity="0.8" stroke-width="3.0" stroke-linejoin="round"/>
<path d="M987.4,746.3 L990.1,746.5 L992.8,746.6 L995.5,746.7 L998.2,746.8 L1000.9,746.9 L1003.5,747.0 L1006.2,747.1 L1008.9,747.2 L1011.6,747.3 L1014.3,747.3 L1017.0,747.4 L1019.6,747.5 L1022.3,747.5 L1025.0,747.6 L1027.7,747.6 L1030.4,747.7 L1033.1,747.7 L1035.8,747.8 L1038.4,747.8 L1041.1,747.8 L1043.8,747.9 L1046.5,747.9 L1049.2,747.9 L1051.8,748.0 L1054.5,748.0 L1057.2,748.0 L1059.9,748.0 L1062.6,748.1 L1065.3,748.1 L1068.0,748.1 L1070.6,748.1 L1073.3,748.1 L1076.0,748.1 L1078.7,748.1 L1081.4,748.1 L1084.0,748.1 L1086.7,748.1 L1089.4,748.1 L1092.1,748.1 L1094.8,748.1 L1097.5,748.1 L1100.2,748.0 L1102.8,748.0 L1105.5,748.0 L1108.2,748.0 L1110.9,748.0 L1113.6,747.9 L1116.2,747.9 L1118.9,747.9 L1121.6,747.9 L1124.3,747.9 L1127.0,747.8 L1129.7,747.8 L1132.3,747.8 L1135.0,747.8 L1137.7,747.8 L1140.4,747.7 L1143.1,747.7 L1145.8,747.7 L1148.5,747.7 L1151.1,747.7 L1153.8,747.6 L1156.5,747.6 L1159.2,747.6 L1161.9,747.6 L1164.5,747.6 L1167.2,747.6 L1169.9,747.6 L1172.6,747.6 L1175.3,747.6 L1178.0,747.5 L1180.7,747.5 L1183.3,747.5 L1186.0,747.5 L1188.7,747.5 L1191.4,747.5 L1194.1,747.5 L1196.8,747.5 L1199.4,747.5 L1202.1,747.5 L1204.8,747.5 L1207.5,747.5 L1210.2,747.4 L1212.8,747.4 L1215.5,747.4 L1218.2,747.4 L1220.9,747.3 L1223.6,747.3 L1226.3,747.2 L1229.0,747.1 L1231.6,747.0 L1234.3,746.9 L1237.0,746.8 L1239.7,746.6 L1242.4,746.4 L1245.0,746.1 L1247.7,745.8 L1250.4,745.4 L1253.1,744.9 L1255.8,744.3 L1258.5,743.6 L1261.2,742.8 L1263.8,741.7 L1266.5,740.5 L1269.2,739.1 L1271.9,737.4 L1274.6,735.4 L1277.2,733.2 L1279.9,730.6 L1282.6,727.7 L1285.3,724.5 L1288.0,721.0 L1290.7,717.2 L1293.3,713.1 L1296.0,708.7 L1298.7,704.1 L1301.4,699.3 L1304.1,694.4 L1306.8,689.5 L1309.5,684.6 L1312.1,679.7 L1314.8,675.0 L1317.5,670.4 L1320.2,665.9 L1322.9,661.8 L1325.5,657.8 L1328.2,654.1 L1330.9,650.7 L1333.6,647.6 L1336.3,644.7 L1339.0,642.1 L1341.7,639.7" fill="none" stroke="#CBC759" stroke-opacity="0.8" stroke-width="3.0" stroke-linejoin="round"/>
<path d="M987.4,746.3 L990.1,746.5 L992.8,746.6 L995.5,746.7 L998.2,746.8 L1000.9,746.9 L1003.5,747.0 L1006.2,747.1 L1008.9,747.2 L1011.6,747.3 L1014.3,747.3 L1017.0,747.4 L1019.6,747.5 L1022.3,747.5 L1025.0,747.6 L1027.7,747.6 L1030.4,747.7 L1033.1,747.7 L1035.8,747.8 L1038.4,747.8 L1041.1,747.8 L1043.8,747.9 L1046.5,747.9 L1049.2,747.9 L1051.8,748.0 L1054.5,748.0 L1057.2,748.0 L1059.9,748.0 L1062.6,748.1 L1065.3,748.1 L1068.0,748.1 L1070.6,748.1 L1073.3,748.1 L1076.0,748.1 L1078.7,748.1 L1081.4,748.1 L1084.0,748.1 L1086.7,748.1 L1089.4,748.1 L1092.1,748.1 L1094.8,748.1 L1097.5,748.1 L1100.2,748.0 L1102.8,748.0 L1105.5,748.0 L1108.2,748.0 L1110.9,748.0 L1113.6,747.9 L1116.2,747.9 L1118.9,747.9 L1121.6,747.9 L1124.3,747.9 L1127.0,747.8 L1129.7,747.8 L1132.3,747.8 L1135.0,747.8 L1137.7,747.8 L1140.4,747.7 L1143.1,747.7 L1145.8,747.7 L1148.5,747.7 L1151.1,747.7 L1153.8,747.6 L1156.5,747.6 L1159.2,747.6 L1161.9,747.6 L1164.5,747.6 L1167.2,747.6 L1169.9,747.6 L1172.6,747.6 L1175.3,747.5 L1178.0,747.5 L1180.7,747.5 L1183.3,747.5 L1186.0,747.5 L1188.7,747.5 L1191.4,747.5 L1194.1,747.5 L1196.8,747.5 L1199.4,747.5 L1202.1,747.4 L1204.8,747.4 L1207.5,747.4 L1210.2,747.4 L1212.8,747.4 L1215.5,747.3 L1218.2,747.3 L1220.9,747.3 L1223.6,747.2 L1226.3,747.2 L1229.0,747.1 L1231.6,747.0 L1234.3,746.9 L1237.0,746.8 L1239.7,746.7 L1242.4,746.5 L1245.0,746.3 L1247.7,746.0 L1250.4,745.8 L1253.1,745.4 L1255.8,745.0 L1258.5,744.5 L1261.2,743.9 L1263.8,743.2 L1266.5,742.4 L1269.2,741.4 L1271.9,740.3 L1274.6,738.9 L1277.2,737.4 L1279.9,735.5 L1282.6,733.4 L1285.3,731.0 L1288.0,728.2 L1290.7,725.1 L1293.3,721.6 L1296.0,717.8 L1298.7,713.6 L1301.4,709.0 L1304.1,704.2 L1306.8,699.1 L1309.5,693.9 L1312.1,688.7 L1314.8,683.4 L1317.5,678.2 L1320.2,673.2 L1322.9,668.5 L1325.5,664.0 L1328.2,659.9 L1330.9,656.1 L1333.6,652.7 L1336.3,649.7 L1339.0,647.0 L1341.7,644.7" fill="none" stroke="#CBC759" stroke-opacity="0.8" stroke-width="3.0" stroke-linejoin="round"/>
<path d="M987.4,744.8 L990.1,745.1 L992.8,745.3 L995.5,745.5 L998.2,745.7 L1000.9,745.9 L1003.5,746.0 L1006.2,746.2 L1008.9,746.3 L1011.6,746.4 L1014.3,746.5 L1017.0,746.6 L1019.6,746.7 L1022.3,746.8 L1025.0,746.9 L1027.7,747.0 L1030.4,747.1 L1033.1,747.1 L1035.8,747.2 L1038.4,747.2 L1041.1,747.3 L1043.8,747.3 L1046.5,747.4 L1049.2,747.4 L1051.8,747.5 L1054.5,747.5 L1057.2,747.5 L1059.9,747.5 L1062.6,747.6 L1065.3,747.6 L1068.0,747.6 L1070.6,747.6 L1073.3,747.6 L1076.0,747.6 L1078.7,747.6 L1081.4,747.6 L1084.0,747.6 L1086.7,747.6 L1089.4,747.6 L1092.1,747.6 L1094.8,747.6 L1097.5,747.6 L1100.2,747.6 L1102.8,747.6 L1105.5,747.6 L1108.2,747.5 L1110.9,747.5 L1113.6,747.5 L1116.2,747.5 L1118.9,747.5 L1121.6,747.4 L1124.3,747.4 L1127.0,747.4 L1129.7,747.4 L1132.3,747.4 L1135.0,747.3 L1137.7,747.3 L1140.4,747.3 L1143.1,747.3 L1145.8,747.3 L1148.5,747.2 L1151.1,747.2 L1153.8,747.2 L1156.5,747.2 L1159.2,747.2 L1161.9,747.2 L1164.5,747.2 L1167.2,747.1 L1169.9,747.1 L1172.6,747.1 L1175.3,747.1 L1178.0,747.1 L1180.7,747.1 L1183.3,747.1 L1186.0,747.1 L1188.7,747.1 L1191.4,747.1 L1194.1,747.1 L1196.8,747.1 L1199.4,747.1 L1202.1,747.1 L1204.8,747.1 L1207.5,747.1 L1210.2,747.1 L1212.8,747.1 L1215.5,747.1 L1218.2,747.1 L1220.9,747.1 L1223.6,747.1 L1226.3,747.1 L1229.0,747.1 L1231.6,747.1 L1234.3,747.1 L1237.0,747.1 L1239.7,747.1 L1242.4,747.1 L1245.0,747.1 L1247.7,747.1 L1250.4,747.1 L1253.1,747.1 L1255.8,747.1 L1258.5,747.1 L1261.2,747.1 L1263.8,747.1 L1266.5,747.1 L1269.2,747.1 L1271.9,747.1 L1274.6,747.1 L1277.2,747.1 L1279.9,747.1 L1282.6,747.1 L1285.3,747.1 L1288.0,747.1 L1290.7,747.1 L1293.3,747.1 L1296.0,747.1 L1298.7,747.1 L1301.4,747.1 L1304.1,747.1 L1306.8,747.1 L1309.5,747.1 L1312.1,747.1 L1314.8,747.1 L1317.5,747.1 L1320.2,747.1 L1322.9,747.1 L1325.5,747.1 L1328.2,747.1 L1330.9,747.1 L1333.6,747.1 L1336.3,747.1 L1339.0,747.1 L1341.7,747.1" fill="none" stroke="#26B18B" stroke-opacity="0.8" stroke-width="3.0" stroke-linejoin="round"/>
<path d="M987.4,745.0 L990.1,745.2 L992.8,745.4 L995.5,745.7 L998.2,745.9 L1000.9,746.0 L1003.5,746.2 L1006.2,746.3 L1008.9,746.5 L1011.6,746.6 L1014.3,746.7 L1017.0,746.8 L1019.6,746.9 L1022.3,747.0 L1025.0,747.1 L1027.7,747.1 L1030.4,747.2 L1033.1,747.3 L1035.8,747.3 L1038.4,747.4 L1041.1,747.4 L1043.8,747.5 L1046.5,747.5 L1049.2,747.6 L1051.8,747.6 L1054.5,747.6 L1057.2,747.7 L1059.9,747.7 L1062.6,747.7 L1065.3,747.7 L1068.0,747.7 L1070.6,747.8 L1073.3,747.8 L1076.0,747.8 L1078.7,747.8 L1081.4,747.8 L1084.0,747.8 L1086.7,747.8 L1089.4,747.8 L1092.1,747.8 L1094.8,747.8 L1097.5,747.8 L1100.2,747.7 L1102.8,747.7 L1105.5,747.7 L1108.2,747.7 L1110.9,747.7 L1113.6,747.6 L1116.2,747.6 L1118.9,747.6 L1121.6,747.6 L1124.3,747.6 L1127.0,747.5 L1129.7,747.5 L1132.3,747.5 L1135.0,747.5 L1137.7,747.5 L1140.4,747.4 L1143.1,747.4 L1145.8,747.4 L1148.5,747.4 L1151.1,747.4 L1153.8,747.3 L1156.5,747.3 L1159.2,747.3 L1161.9,747.3 L1164.5,747.3 L1167.2,747.3 L1169.9,747.3 L1172.6,747.3 L1175.3,747.3 L1178.0,747.3 L1180.7,747.2 L1183.3,747.2 L1186.0,747.2 L1188.7,747.2 L1191.4,747.2 L1194.1,747.2 L1196.8,747.2 L1199.4,747.2 L1202.1,747.2 L1204.8,747.2 L1207.5,747.2 L1210.2,747.2 L1212.8,747.2 L1215.5,747.2 L1218.2,747.2 L1220.9,747.2 L1223.6,747.2 L1226.3,747.2 L1229.0,747.2 L1231.6,747.2 L1234.3,747.2 L1237.0,747.2 L1239.7,747.2 L1242.4,747.2 L1245.0,747.2 L1247.7,747.2 L1250.4,747.2 L1253.1,747.2 L1255.8,747.2 L1258.5,747.2 L1261.2,747.2 L1263.8,747.2 L1266.5,747.2 L1269.2,747.2 L1271.9,747.2 L1274.6,747.2 L1277.2,747.2 L1279.9,747.2 L1282.6,747.2 L1285.3,747.2 L1288.0,747.2 L1290.7,747.2 L1293.3,747.2 L1296.0,747.2 L1298.7,747.2 L1301.4,747.2 L1304.1,747.2 L1306.8,747.2 L1309.5,747.2 L1312.1,747.2 L1314.8,747.2 L1317.5,747.2 L1320.2,747.2 L1322.9,747.2 L1325.5,747.2 L1328.2,747.2 L1330.9,747.2 L1333.6,747.2 L1336.3,747.2 L1339.0,747.2 L1341.7,747.2" fill="none" stroke="#26B18B" stroke-opacity="0.8" stroke-width="3.0" stroke-linejoin="round"/>
<path d="M987.4,745.6 L990.1,745.9 L992.8,746.1 L995.5,746.3 L998.2,746.5 L1000.9,746.7 L1003.5,746.9 L1006.2,747.0 L1008.9,747.1 L1011.6,747.3 L1014.3,747.4 L1017.0,747.5 L1019.6,747.6 L1022.3,747.6 L1025.0,747.7 L1027.7,747.8 L1030.4,747.9 L1033.1,747.9 L1035.8,748.0 L1038.4,748.1 L1041.1,748.1 L1043.8,748.2 L1046.5,748.2 L1049.2,748.2 L1051.8,748.3 L1054.5,748.3 L1057.2,748.3 L1059.9,748.4 L1062.6,748.4 L1065.3,748.4 L1068.0,748.4 L1070.6,748.4 L1073.3,748.5 L1076.0,748.5 L1078.7,748.5 L1081.4,748.5 L1084.0,748.5 L1086.7,748.5 L1089.4,748.5 L1092.1,748.5 L1094.8,748.4 L1097.5,748.4 L1100.2,748.4 L1102.8,748.4 L1105.5,748.4 L1108.2,748.4 L1110.9,748.3 L1113.6,748.3 L1116.2,748.3 L1118.9,748.3 L1121.6,748.3 L1124.3,748.2 L1127.0,748.2 L1129.7,748.2 L1132.3,748.2 L1135.0,748.2 L1137.7,748.1 L1140.4,748.1 L1143.1,748.1 L1145.8,748.1 L1148.5,748.1 L1151.1,748.0 L1153.8,748.0 L1156.5,748.0 L1159.2,748.0 L1161.9,748.0 L1164.5,748.0 L1167.2,748.0 L1169.9,748.0 L1172.6,747.9 L1175.3,747.9 L1178.0,747.9 L1180.7,747.9 L1183.3,747.9 L1186.0,747.9 L1188.7,747.9 L1191.4,747.9 L1194.1,747.9 L1196.8,747.9 L1199.4,747.9 L1202.1,747.9 L1204.8,747.9 L1207.5,747.9 L1210.2,747.9 L1212.8,747.9 L1215.5,747.9 L1218.2,747.9 L1220.9,747.9 L1223.6,747.9 L1226.3,747.9 L1229.0,747.9 L1231.6,747.9 L1234.3,747.9 L1237.0,747.9 L1239.7,747.9 L1242.4,747.9 L1245.0,747.9 L1247.7,747.9 L1250.4,747.9 L1253.1,747.9 L1255.8,747.9 L1258.5,747.9 L1261.2,747.9 L1263.8,747.9 L1266.5,747.9 L1269.2,747.9 L1271.9,747.9 L1274.6,747.9 L1277.2,747.9 L1279.9,747.9 L1282.6,747.9 L1285.3,747.9 L1288.0,747.9 L1290.7,747.9 L1293.3,747.9 L1296.0,747.9 L1298.7,747.9 L1301.4,747.9 L1304.1,747.9 L1306.8,747.9 L1309.5,747.9 L1312.1,747.9 L1314.8,747.9 L1317.5,747.9 L1320.2,747.9 L1322.9,747.9 L1325.5,747.9 L1328.2,747.9 L1330.9,747.9 L1333.6,747.9 L1336.3,747.9 L1339.0,747.9 L1341.7,747.9" fill="none" stroke="#26B18B" stroke-opacity="0.8" stroke-width="3.0" stroke-linejoin="round"/>
<path d="M987.4,747.0 L990.1,747.0 L992.8,747.1 L995.5,747.2 L998.2,747.2 L1000.9,747.3 L1003.5,747.4 L1006.2,747.4 L1008.9,747.5 L1011.6,747.5 L1014.3,747.5 L1017.0,747.6 L1019.6,747.6 L1022.3,747.7 L1025.0,747.7 L1027.7,747.7 L1030.4,747.8 L1033.1,747.8 L1035.8,747.8 L1038.4,747.9 L1041.1,747.9 L1043.8,747.9 L1046.5,748.0 L1049.2,748.0 L1051.8,748.0 L1054.5,748.0 L1057.2,748.1 L1059.9,748.1 L1062.6,748.1 L1065.3,748.1 L1068.0,748.1 L1070.6,748.1 L1073.3,748.1 L1076.0,748.1 L1078.7,748.1 L1081.4,748.1 L1084.0,748.1 L1086.7,748.1 L1089.4,748.1 L1092.1,748.1 L1094.8,748.1 L1097.5,748.0 L1100.2,748.0 L1102.8,748.0 L1105.5,747.9 L1108.2,747.9 L1110.9,747.8 L1113.6,747.7 L1116.2,747.6 L1118.9,747.5 L1121.6,747.3 L1124.3,747.1 L1127.0,746.8 L1129.7,746.4 L1132.3,745.9 L1135.0,745.4 L1137.7,744.7 L1140.4,743.9 L1143.1,742.9 L1145.8,741.7 L1148.5,740.3 L1151.1,738.7 L1153.8,736.9 L1156.5,734.8 L1159.2,732.5 L1161.9,729.9 L1164.5,727.1 L1167.2,724.0 L1169.9,720.7 L1172.6,717.1 L1175.3,713.3 L1178.0,709.3 L1180.7,705.2 L1183.3,700.8 L1186.0,696.4 L1188.7,691.8 L1191.4,687.1 L1194.1,682.4 L1196.8,677.7 L1199.4,673.0 L1202.1,668.3 L1204.8,663.6 L1207.5,659.1 L1210.2,654.5 L1212.8,650.1 L1215.5,645.9 L1218.2,641.7 L1220.9,637.7 L1223.6,633.8 L1226.3,630.0 L1229.0,626.4 L1231.6,623.0 L1234.3,619.7 L1237.0,616.6 L1239.7,613.6 L1242.4,610.8 L1245.0,608.2 L1247.7,605.6 L1250.4,603.3 L1253.1,601.0 L1255.8,598.9 L1258.5,596.9 L1261.2,595.0 L1263.8,593.3 L1266.5,591.6 L1269.2,590.1 L1271.9,588.7 L1274.6,587.3 L1277.2,586.0 L1279.9,584.9 L1282.6,583.8 L1285.3,582.7 L1288.0,581.8 L1290.7,580.9 L1293.3,580.1 L1296.0,579.3 L1298.7,578.6 L1301.4,577.9 L1304.1,577.3 L1306.8,576.7 L1309.5,576.2 L1312.1,575.7 L1314.8,575.2 L1317.5,574.8 L1320.2,574.4 L1322.9,574.0 L1325.5,573.7 L1328.2,573.4 L1330.9,573.1 L1333.6,572.8 L1336.3,572.5 L1339.0,572.3 L1341.7,572.1" fill="none" stroke="#E7298A" stroke-opacity="0.8" stroke-width="3.0" stroke-linejoin="round"/>
<path d="M987.4,747.0 L990.1,747.0 L992.8,747.1 L995.5,747.2 L998.2,747.2 L1000.9,747.3 L1003.5,747.4 L1006.2,747.4 L1008.9,747.5 L1011.6,747.5 L1014.3,747.5 L1017.0,747.6 L1019.6,747.6 L1022.3,747.7 L1025.0,747.7 L1027.7,747.7 L1030.4,747.8 L1033.1,747.8 L1035.8,747.8 L1038.4,747.9 L1041.1,747.9 L1043.8,747.9 L1046.5,748.0 L1049.2,748.0 L1051.8,748.0 L1054.5,748.0 L1057.2,748.1 L1059.9,748.1 L1062.6,748.1 L1065.3,748.1 L1068.0,748.1 L1070.6,748.1 L1073.3,748.1 L1076.0,748.1 L1078.7,748.1 L1081.4,748.1 L1084.0,748.1 L1086.7,748.1 L1089.4,748.1 L1092.1,748.1 L1094.8,748.1 L1097.5,748.0 L1100.2,748.0 L1102.8,748.0 L1105.5,747.9 L1108.2,747.9 L1110.9,747.8 L1113.6,747.7 L1116.2,747.6 L1118.9,747.5 L1121.6,747.3 L1124.3,747.1 L1127.0,746.8 L1129.7,746.4 L1132.3,746.0 L1135.0,745.4 L1137.7,744.7 L1140.4,743.9 L1143.1,742.9 L1145.8,741.7 L1148.5,740.4 L1151.1,738.8 L1153.8,737.0 L1156.5,734.9 L1159.2,732.7 L1161.9,730.1 L1164.5,727.3 L1167.2,724.2 L1169.9,720.9 L1172.6,717.4 L1175.3,713.6 L1178.0,709.7 L1180.7,705.5 L1183.3,701.2 L1186.0,696.8 L1188.7,692.3 L1191.4,687.7 L1194.1,683.0 L1196.8,678.3 L1199.4,673.6 L1202.1,669.0 L1204.8,664.4 L1207.5,659.8 L1210.2,655.3 L1212.8,651.0 L1215.5,646.7 L1218.2,642.6 L1220.9,638.6 L1223.6,634.7 L1226.3,631.0 L1229.0,627.5 L1231.6,624.1 L1234.3,620.8 L1237.0,617.7 L1239.7,614.8 L1242.4,612.0 L1245.0,609.3 L1247.7,606.8 L1250.4,604.5 L1253.1,602.3 L1255.8,600.2 L1258.5,598.2 L1261.2,596.3 L1263.8,594.6 L1266.5,593.0 L1269.2,591.4 L1271.9,590.0 L1274.6,588.7 L1277.2,587.4 L1279.9,586.2 L1282.6,585.2 L1285.3,584.1 L1288.0,583.2 L1290.7,582.3 L1293.3,581.5 L1296.0,580.7 L1298.7,580.0 L1301.4,579.4 L1304.1,578.7 L1306.8,578.2 L1309.5,577.6 L1312.1,577.1 L1314.8,576.7 L1317.5,576.3 L1320.2,575.9 L1322.9,575.5 L1325.5,575.1 L1328.2,574.8 L1330.9,574.5 L1333.6,574.3 L1336.3,574.0 L1339.0,573.8 L1341.7,573.6" fill="none" stroke="#E7298A" stroke-opacity="0.8" stroke-width="3.0" stroke-linejoin="round"/>
<path d="M987.4,747.0 L990.1,747.0 L992.8,747.1 L995.5,747.2 L998.2,747.2 L1000.9,747.3 L1003.5,747.4 L1006.2,747.4 L1008.9,747.5 L1011.6,747.5 L1014.3,747.5 L1017.0,747.6 L1019.6,747.6 L1022.3,747.7 L1025.0,747.7 L1027.7,747.7 L1030.4,747.8 L1033.1,747.8 L1035.8,747.8 L1038.4,747.9 L1041.1,747.9 L1043.8,747.9 L1046.5,748.0 L1049.2,748.0 L1051.8,748.0 L1054.5,748.0 L1057.2,748.1 L1059.9,748.1 L1062.6,748.1 L1065.3,748.1 L1068.0,748.1 L1070.6,748.1 L1073.3,748.1 L1076.0,748.1 L1078.7,748.1 L1081.4,748.1 L1084.0,748.1 L1086.7,748.1 L1089.4,748.1 L1092.1,748.1 L1094.8,748.1 L1097.5,748.0 L1100.2,748.0 L1102.8,748.0 L1105.5,747.9 L1108.2,747.9 L1110.9,747.8 L1113.6,747.7 L1116.2,747.6 L1118.9,747.5 L1121.6,747.3 L1124.3,747.1 L1127.0,746.8 L1129.7,746.4 L1132.3,746.0 L1135.0,745.4 L1137.7,744.7 L1140.4,743.9 L1143.1,742.9 L1145.8,741.8 L1148.5,740.4 L1151.1,738.9 L1153.8,737.1 L1156.5,735.1 L1159.2,732.8 L1161.9,730.2 L1164.5,727.5 L1167.2,724.4 L1169.9,721.2 L1172.6,717.6 L1175.3,713.9 L1178.0,710.0 L1180.7,705.9 L1183.3,701.6 L1186.0,697.2 L1188.7,692.7 L1191.4,688.2 L1194.1,683.5 L1196.8,678.9 L1199.4,674.3 L1202.1,669.6 L1204.8,665.1 L1207.5,660.6 L1210.2,656.1 L1212.8,651.8 L1215.5,647.6 L1218.2,643.5 L1220.9,639.5 L1223.6,635.7 L1226.3,632.0 L1229.0,628.5 L1231.6,625.1 L1234.3,621.9 L1237.0,618.8 L1239.7,615.9 L1242.4,613.2 L1245.0,610.5 L1247.7,608.0 L1250.4,605.7 L1253.1,603.5 L1255.8,601.4 L1258.5,599.5 L1261.2,597.6 L1263.8,595.9 L1266.5,594.3 L1269.2,592.8 L1271.9,591.4 L1274.6,590.0 L1277.2,588.8 L1279.9,587.6 L1282.6,586.5 L1285.3,585.5 L1288.0,584.6 L1290.7,583.7 L1293.3,582.9 L1296.0,582.2 L1298.7,581.4 L1301.4,580.8 L1304.1,580.2 L1306.8,579.6 L1309.5,579.1 L1312.1,578.6 L1314.8,578.1 L1317.5,577.7 L1320.2,577.3 L1322.9,577.0 L1325.5,576.6 L1328.2,576.3 L1330.9,576.0 L1333.6,575.7 L1336.3,575.5 L1339.0,575.3 L1341.7,575.1" fill="none" stroke="#E7298A" stroke-opacity="0.8" stroke-width="3.0" stroke-linejoin="round"/>
<path d="M1404.5,746.3 L1406.8,746.4 L1409.2,746.6 L1411.6,746.7 L1414.0,746.8 L1416.3,746.9 L1418.7,747.0 L1421.1,747.0 L1423.5,747.1 L1425.8,747.2 L1428.2,747.3 L1430.6,747.3 L1433.0,747.4 L1435.4,747.4 L1437.7,747.5 L1440.1,747.5 L1442.5,747.6 L1444.9,747.6 L1447.2,747.7 L1449.6,747.7 L1452.0,747.7 L1454.4,747.8 L1456.7,747.8 L1459.1,747.9 L1461.5,747.9 L1463.9,747.9 L1466.3,747.9 L1468.6,748.0 L1471.0,748.0 L1473.4,748.0 L1475.8,748.0 L1478.1,748.0 L1480.5,748.1 L1482.9,748.1 L1485.3,748.1 L1487.7,748.1 L1490.0,748.1 L1492.4,748.1 L1494.8,748.1 L1497.2,748.1 L1499.5,748.1 L1501.9,748.1 L1504.3,748.1 L1506.7,748.1 L1509.0,748.1 L1511.4,748.1 L1513.8,748.1 L1516.2,748.0 L1518.6,748.0 L1520.9,748.0 L1523.3,748.0 L1525.7,748.0 L1528.1,748.0 L1530.4,747.9 L1532.8,747.9 L1535.2,747.9 L1537.6,747.8 L1539.9,747.8 L1542.3,747.8 L1544.7,747.7 L1547.1,747.7 L1549.5,747.6 L1551.8,747.6 L1554.2,747.5 L1556.6,747.4 L1559.0,747.3 L1561.3,747.1 L1563.7,747.0 L1566.1,746.7 L1568.5,746.5 L1570.9,746.2 L1573.2,745.8 L1575.6,745.3 L1578.0,744.7 L1580.4,744.0 L1582.7,743.1 L1585.1,742.1 L1587.5,740.9 L1589.9,739.4 L1592.2,737.8 L1594.6,735.8 L1597.0,733.6 L1599.4,731.0 L1601.8,728.1 L1604.1,724.9 L1606.5,721.3 L1608.9,717.4 L1611.3,713.1 L1613.6,708.4 L1616.0,703.4 L1618.4,698.1 L1620.8,692.5 L1623.2,686.7 L1625.5,680.7 L1627.9,674.5 L1630.3,668.2 L1632.7,661.8 L1635.0,655.4 L1637.4,649.0 L1639.8,642.6 L1642.2,636.4 L1644.5,630.3 L1646.9,624.3 L1649.3,618.6 L1651.7,613.0 L1654.1,607.7 L1656.4,602.9 L1658.8,598.2 L1661.2,593.7 L1663.6,589.2 L1665.9,584.8 L1668.3,580.4 L1670.7,576.3 L1673.1,572.6 L1675.4,569.1 L1677.8,566.0 L1680.2,563.1 L1682.6,560.5 L1685.0,558.1 L1687.3,556.0 L1689.7,554.1 L1692.1,552.3 L1694.5,550.8 L1696.8,549.4 L1699.2,548.1 L1701.6,546.9 L1704.0,545.9 L1706.4,545.0 L1708.7,544.1 L1711.1,543.4 L1713.5,542.7 L1715.9,542.1 L1718.2,541.6 L1720.6,541.2 L1723.0,540.8 L1725.4,540.5 L1727.7,540.2 L1730.1,539.9 L1732.5,539.7 L1734.9,539.5 L1737.3,539.3 L1739.6,539.1 L1742.0,539.0 L1744.4,538.8 L1746.8,538.7 L1749.1,538.7 L1751.5,538.7 L1753.9,538.7 L1756.3,538.7 L1758.7,538.6" fill="none" stroke="#45C3EE" stroke-opacity="0.8" stroke-width="3.0" stroke-linejoin="round"/>
<path d="M1404.5,746.3 L1406.8,746.4 L1409.2,746.6 L1411.6,746.7 L1414.0,746.8 L1416.3,746.9 L1418.7,747.0 L1421.1,747.0 L1423.5,747.1 L1425.8,747.2 L1428.2,747.3 L1430.6,747.3 L1433.0,747.4 L1435.4,747.4 L1437.7,747.5 L1440.1,747.5 L1442.5,747.6 L1444.9,747.6 L1447.2,747.7 L1449.6,747.7 L1452.0,747.7 L1454.4,747.8 L1456.7,747.8 L1459.1,747.9 L1461.5,747.9 L1463.9,747.9 L1466.3,747.9 L1468.6,748.0 L1471.0,748.0 L1473.4,748.0 L1475.8,748.0 L1478.1,748.0 L1480.5,748.1 L1482.9,748.1 L1485.3,748.1 L1487.7,748.1 L1490.0,748.1 L1492.4,748.1 L1494.8,748.1 L1497.2,748.1 L1499.5,748.1 L1501.9,748.1 L1504.3,748.1 L1506.7,748.1 L1509.0,748.1 L1511.4,748.1 L1513.8,748.1 L1516.2,748.0 L1518.6,748.0 L1520.9,748.0 L1523.3,748.0 L1525.7,748.0 L1528.1,748.0 L1530.4,747.9 L1532.8,747.9 L1535.2,747.9 L1537.6,747.8 L1539.9,747.8 L1542.3,747.8 L1544.7,747.7 L1547.1,747.7 L1549.5,747.6 L1551.8,747.6 L1554.2,747.5 L1556.6,747.4 L1559.0,747.3 L1561.3,747.1 L1563.7,747.0 L1566.1,746.7 L1568.5,746.5 L1570.9,746.1 L1573.2,745.7 L1575.6,745.2 L1578.0,744.6 L1580.4,743.9 L1582.7,743.0 L1585.1,741.9 L1587.5,740.7 L1589.9,739.2 L1592.2,737.5 L1594.6,735.5 L1597.0,733.2 L1599.4,730.6 L1601.8,727.6 L1604.1,724.3 L1606.5,720.7 L1608.9,716.7 L1611.3,712.3 L1613.6,707.6 L1616.0,702.5 L1618.4,697.2 L1620.8,691.5 L1623.2,685.7 L1625.5,679.6 L1627.9,673.4 L1630.3,667.1 L1632.7,660.7 L1635.0,654.3 L1637.4,648.0 L1639.8,641.6 L1642.2,635.4 L1644.5,629.3 L1646.9,623.4 L1649.3,617.7 L1651.7,612.1 L1654.1,606.8 L1656.4,602.0 L1658.8,597.4 L1661.2,592.8 L1663.6,588.3 L1665.9,583.9 L1668.3,579.6 L1670.7,575.5 L1673.1,571.8 L1675.4,568.3 L1677.8,565.2 L1680.2,562.3 L1682.6,559.7 L1685.0,557.3 L1687.3,555.1 L1689.7,553.2 L1692.1,551.4 L1694.5,549.9 L1696.8,548.4 L1699.2,547.1 L1701.6,545.9 L1704.0,544.9 L1706.4,543.9 L1708.7,543.0 L1711.1,542.2 L1713.5,541.5 L1715.9,540.9 L1718.2,540.4 L1720.6,539.9 L1723.0,539.5 L1725.4,539.1 L1727.7,538.8 L1730.1,538.6 L1732.5,538.3 L1734.9,538.1 L1737.3,537.9 L1739.6,537.7 L1742.0,537.6 L1744.4,537.4 L1746.8,537.3 L1749.1,537.3 L1751.5,537.3 L1753.9,537.3 L1756.3,537.3 L1758.7,537.2" fill="none" stroke="#45C3EE" stroke-opacity="0.8" stroke-width="3.0" stroke-linejoin="round"/>
<path d="M1404.5,746.3 L1406.8,746.4 L1409.2,746.6 L1411.6,746.7 L1414.0,746.8 L1416.3,746.9 L1418.7,747.0 L1421.1,747.0 L1423.5,747.1 L1425.8,747.2 L1428.2,747.3 L1430.6,747.3 L1433.0,747.4 L1435.4,747.4 L1437.7,747.5 L1440.1,747.5 L1442.5,747.6 L1444.9,747.6 L1447.2,747.7 L1449.6,747.7 L1452.0,747.7 L1454.4,747.8 L1456.7,747.8 L1459.1,747.9 L1461.5,747.9 L1463.9,747.9 L1466.3,747.9 L1468.6,748.0 L1471.0,748.0 L1473.4,748.0 L1475.8,748.0 L1478.1,748.0 L1480.5,748.1 L1482.9,748.1 L1485.3,748.1 L1487.7,748.1 L1490.0,748.1 L1492.4,748.1 L1494.8,748.1 L1497.2,748.1 L1499.5,748.1 L1501.9,748.1 L1504.3,748.1 L1506.7,748.1 L1509.0,748.1 L1511.4,748.1 L1513.8,748.1 L1516.2,748.0 L1518.6,748.0 L1520.9,748.0 L1523.3,748.0 L1525.7,748.0 L1528.1,748.0 L1530.4,747.9 L1532.8,747.9 L1535.2,747.9 L1537.6,747.9 L1539.9,747.8 L1542.3,747.8 L1544.7,747.7 L1547.1,747.7 L1549.5,747.6 L1551.8,747.6 L1554.2,747.5 L1556.6,747.4 L1559.0,747.3 L1561.3,747.1 L1563.7,746.9 L1566.1,746.7 L1568.5,746.4 L1570.9,746.1 L1573.2,745.7 L1575.6,745.2 L1578.0,744.5 L1580.4,743.8 L1582.7,742.9 L1585.1,741.8 L1587.5,740.5 L1589.9,738.9 L1592.2,737.1 L1594.6,735.1 L1597.0,732.7 L1599.4,730.0 L1601.8,727.0 L1604.1,723.6 L1606.5,719.8 L1608.9,715.7 L1611.3,711.3 L1613.6,706.5 L1616.0,701.4 L1618.4,696.0 L1620.8,690.3 L1623.2,684.4 L1625.5,678.3 L1627.9,672.1 L1630.3,665.8 L1632.7,659.4 L1635.0,653.0 L1637.4,646.7 L1639.8,640.4 L1642.2,634.2 L1644.5,628.1 L1646.9,622.2 L1649.3,616.5 L1651.7,611.1 L1654.1,605.8 L1656.4,601.0 L1658.8,596.4 L1661.2,591.8 L1663.6,587.4 L1665.9,583.0 L1668.3,578.7 L1670.7,574.6 L1673.1,570.9 L1675.4,567.5 L1677.8,564.4 L1680.2,561.5 L1682.6,558.9 L1685.0,556.5 L1687.3,554.4 L1689.7,552.4 L1692.1,550.7 L1694.5,549.1 L1696.8,547.6 L1699.2,546.3 L1701.6,545.1 L1704.0,544.0 L1706.4,543.0 L1708.7,542.1 L1711.1,541.2 L1713.5,540.5 L1715.9,539.9 L1718.2,539.3 L1720.6,538.8 L1723.0,538.3 L1725.4,538.0 L1727.7,537.6 L1730.1,537.4 L1732.5,537.1 L1734.9,536.9 L1737.3,536.7 L1739.6,536.5 L1742.0,536.4 L1744.4,536.2 L1746.8,536.1 L1749.1,536.1 L1751.5,536.1 L1753.9,536.1 L1756.3,536.1 L1758.7,536.0" fill="none" stroke="#45C3EE" stroke-opacity="0.8" stroke-width="3.0" stroke-linejoin="round"/>
<path d="M1404.5,746.3 L1406.8,746.4 L1409.2,746.6 L1411.6,746.7 L1414.0,746.8 L1416.3,746.9 L1418.7,747.0 L1421.1,747.0 L1423.5,747.1 L1425.8,747.2 L1428.2,747.3 L1430.6,747.3 L1433.0,747.4 L1435.4,747.4 L1437.7,747.5 L1440.1,747.5 L1442.5,747.6 L1444.9,747.6 L1447.2,747.7 L1449.6,747.7 L1452.0,747.7 L1454.4,747.8 L1456.7,747.8 L1459.1,747.9 L1461.5,747.9 L1463.9,747.9 L1466.3,747.9 L1468.6,748.0 L1471.0,748.0 L1473.4,748.0 L1475.8,748.0 L1478.1,748.0 L1480.5,748.1 L1482.9,748.1 L1485.3,748.1 L1487.7,748.1 L1490.0,748.1 L1492.4,748.1 L1494.8,748.1 L1497.2,748.1 L1499.5,748.1 L1501.9,748.1 L1504.3,748.1 L1506.7,748.1 L1509.0,748.1 L1511.4,748.1 L1513.8,748.1 L1516.2,748.0 L1518.6,748.0 L1520.9,748.0 L1523.3,748.0 L1525.7,748.0 L1528.1,748.0 L1530.4,747.9 L1532.8,747.9 L1535.2,747.9 L1537.6,747.9 L1539.9,747.8 L1542.3,747.8 L1544.7,747.7 L1547.1,747.7 L1549.5,747.6 L1551.8,747.6 L1554.2,747.5 L1556.6,747.4 L1559.0,747.3 L1561.3,747.1 L1563.7,747.0 L1566.1,746.7 L1568.5,746.5 L1570.9,746.1 L1573.2,745.7 L1575.6,745.2 L1578.0,744.6 L1580.4,743.8 L1582.7,743.0 L1585.1,741.9 L1587.5,740.6 L1589.9,739.1 L1592.2,737.4 L1594.6,735.4 L1597.0,733.1 L1599.4,730.4 L1601.8,727.5 L1604.1,724.2 L1606.5,720.5 L1608.9,716.5 L1611.3,712.1 L1613.6,707.4 L1616.0,702.3 L1618.4,697.0 L1620.8,691.3 L1623.2,685.5 L1625.5,679.4 L1627.9,673.2 L1630.3,666.9 L1632.7,660.5 L1635.0,654.1 L1637.4,647.7 L1639.8,641.4 L1642.2,635.2 L1644.5,629.1 L1646.9,623.1 L1649.3,617.4 L1651.7,611.8 L1654.1,606.5 L1656.4,601.7 L1658.8,597.0 L1661.2,592.4 L1663.6,587.8 L1665.9,583.3 L1668.3,579.0 L1670.7,574.8 L1673.1,571.1 L1675.4,567.6 L1677.8,564.4 L1680.2,561.5 L1682.6,558.8 L1685.0,556.4 L1687.3,554.2 L1689.7,552.2 L1692.1,550.4 L1694.5,548.7 L1696.8,547.3 L1699.2,545.9 L1701.6,544.7 L1704.0,543.5 L1706.4,542.5 L1708.7,541.6 L1711.1,540.7 L1713.5,540.0 L1715.9,539.3 L1718.2,538.7 L1720.6,538.2 L1723.0,537.8 L1725.4,537.4 L1727.7,537.1 L1730.1,536.8 L1732.5,536.5 L1734.9,536.3 L1737.3,536.1 L1739.6,535.9 L1742.0,535.8 L1744.4,535.6 L1746.8,535.5 L1749.1,535.5 L1751.5,535.5 L1753.9,535.5 L1756.3,535.5 L1758.7,535.4" fill="none" stroke="#CBC759" stroke-opacity="0.8" stroke-width="3.0" stroke-linejoin="round"/>
<path d="M1404.5,746.3 L1406.8,746.4 L1409.2,746.6 L1411.6,746.7 L1414.0,746.8 L1416.3,746.9 L1418.7,747.0 L1421.1,747.0 L1423.5,747.1 L1425.8,747.2 L1428.2,747.3 L1430.6,747.3 L1433.0,747.4 L1435.4,747.4 L1437.7,747.5 L1440.1,747.5 L1442.5,747.6 L1444.9,747.6 L1447.2,747.7 L1449.6,747.7 L1452.0,747.7 L1454.4,747.8 L1456.7,747.8 L1459.1,747.9 L1461.5,747.9 L1463.9,747.9 L1466.3,747.9 L1468.6,748.0 L1471.0,748.0 L1473.4,748.0 L1475.8,748.0 L1478.1,748.0 L1480.5,748.1 L1482.9,748.1 L1485.3,748.1 L1487.7,748.1 L1490.0,748.1 L1492.4,748.1 L1494.8,748.1 L1497.2,748.1 L1499.5,748.1 L1501.9,748.1 L1504.3,748.1 L1506.7,748.1 L1509.0,748.1 L1511.4,748.1 L1513.8,748.1 L1516.2,748.0 L1518.6,748.0 L1520.9,748.0 L1523.3,748.0 L1525.7,748.0 L1528.1,748.0 L1530.4,747.9 L1532.8,747.9 L1535.2,747.9 L1537.6,747.9 L1539.9,747.8 L1542.3,747.8 L1544.7,747.7 L1547.1,747.7 L1549.5,747.6 L1551.8,747.6 L1554.2,747.5 L1556.6,747.4 L1559.0,747.3 L1561.3,747.1 L1563.7,746.9 L1566.1,746.7 L1568.5,746.4 L1570.9,746.1 L1573.2,745.6 L1575.6,745.1 L1578.0,744.5 L1580.4,743.7 L1582.7,742.7 L1585.1,741.6 L1587.5,740.3 L1589.9,738.7 L1592.2,736.8 L1594.6,734.7 L1597.0,732.3 L1599.4,729.5 L1601.8,726.4 L1604.1,723.0 L1606.5,719.1 L1608.9,715.0 L1611.3,710.5 L1613.6,705.6 L1616.0,700.4 L1618.4,695.0 L1620.8,689.3 L1623.2,683.4 L1625.5,677.3 L1627.9,671.0 L1630.3,664.7 L1632.7,658.3 L1635.0,652.0 L1637.4,645.6 L1639.8,639.4 L1642.2,633.2 L1644.5,627.2 L1646.9,621.3 L1649.3,615.6 L1651.7,610.2 L1654.1,604.9 L1656.4,600.2 L1658.8,595.6 L1661.2,591.0 L1663.6,586.5 L1665.9,582.1 L1668.3,577.9 L1670.7,573.8 L1673.1,570.2 L1675.4,566.8 L1677.8,563.7 L1680.2,560.8 L1682.6,558.2 L1685.0,555.8 L1687.3,553.6 L1689.7,551.7 L1692.1,549.9 L1694.5,548.3 L1696.8,546.8 L1699.2,545.4 L1701.6,544.2 L1704.0,543.1 L1706.4,542.1 L1708.7,541.1 L1711.1,540.3 L1713.5,539.5 L1715.9,538.8 L1718.2,538.2 L1720.6,537.7 L1723.0,537.2 L1725.4,536.8 L1727.7,536.5 L1730.1,536.2 L1732.5,535.9 L1734.9,535.7 L1737.3,535.5 L1739.6,535.3 L1742.0,535.2 L1744.4,535.0 L1746.8,534.9 L1749.1,534.9 L1751.5,534.9 L1753.9,534.9 L1756.3,534.9 L1758.7,534.8" fill="none" stroke="#CBC759" stroke-opacity="0.8" stroke-width="3.0" stroke-linejoin="round"/>
<path d="M1404.5,746.3 L1406.8,746.4 L1409.2,746.6 L1411.6,746.7 L1414.0,746.8 L1416.3,746.9 L1418.7,747.0 L1421.1,747.0 L1423.5,747.1 L1425.8,747.2 L1428.2,747.3 L1430.6,747.3 L1433.0,747.4 L1435.4,747.4 L1437.7,747.5 L1440.1,747.5 L1442.5,747.6 L1444.9,747.6 L1447.2,747.7 L1449.6,747.7 L1452.0,747.7 L1454.4,747.8 L1456.7,747.8 L1459.1,747.9 L1461.5,747.9 L1463.9,747.9 L1466.3,747.9 L1468.6,748.0 L1471.0,748.0 L1473.4,748.0 L1475.8,748.0 L1478.1,748.0 L1480.5,748.1 L1482.9,748.1 L1485.3,748.1 L1487.7,748.1 L1490.0,748.1 L1492.4,748.1 L1494.8,748.1 L1497.2,748.1 L1499.5,748.1 L1501.9,748.1 L1504.3,748.1 L1506.7,748.1 L1509.0,748.1 L1511.4,748.1 L1513.8,748.1 L1516.2,748.0 L1518.6,748.0 L1520.9,748.0 L1523.3,748.0 L1525.7,748.0 L1528.1,748.0 L1530.4,747.9 L1532.8,747.9 L1535.2,747.9 L1537.6,747.9 L1539.9,747.8 L1542.3,747.8 L1544.7,747.7 L1547.1,747.7 L1549.5,747.6 L1551.8,747.6 L1554.2,747.5 L1556.6,747.4 L1559.0,747.3 L1561.3,747.1 L1563.7,746.9 L1566.1,746.7 L1568.5,746.4 L1570.9,746.1 L1573.2,745.7 L1575.6,745.2 L1578.0,744.5 L1580.4,743.8 L1582.7,742.9 L1585.1,741.8 L1587.5,740.5 L1589.9,738.9 L1592.2,737.1 L1594.6,735.1 L1597.0,732.7 L1599.4,730.0 L1601.8,727.0 L1604.1,723.6 L1606.5,719.8 L1608.9,715.7 L1611.3,711.3 L1613.6,706.5 L1616.0,701.4 L1618.4,696.0 L1620.8,690.3 L1623.2,684.4 L1625.5,678.3 L1627.9,672.1 L1630.3,665.8 L1632.7,659.4 L1635.0,653.0 L1637.4,646.6 L1639.8,640.4 L1642.2,634.2 L1644.5,628.1 L1646.9,622.3 L1649.3,616.6 L1651.7,611.1 L1654.1,605.8 L1656.4,601.1 L1658.8,596.4 L1661.2,591.9 L1663.6,587.4 L1665.9,583.1 L1668.3,578.8 L1670.7,574.7 L1673.1,571.1 L1675.4,567.7 L1677.8,564.6 L1680.2,561.7 L1682.6,559.1 L1685.0,556.7 L1687.3,554.6 L1689.7,552.6 L1692.1,550.9 L1694.5,549.3 L1696.8,547.9 L1699.2,546.6 L1701.6,545.4 L1704.0,544.3 L1706.4,543.3 L1708.7,542.4 L1711.1,541.6 L1713.5,540.8 L1715.9,540.2 L1718.2,539.6 L1720.6,539.2 L1723.0,538.7 L1725.4,538.4 L1727.7,538.0 L1730.1,537.8 L1732.5,537.5 L1734.9,537.3 L1737.3,537.1 L1739.6,536.9 L1742.0,536.8 L1744.4,536.6 L1746.8,536.5 L1749.1,536.5 L1751.5,536.5 L1753.9,536.5 L1756.3,536.5 L1758.7,536.4" fill="none" stroke="#CBC759" stroke-opacity="0.8" stroke-width="3.0" stroke-linejoin="round"/>
<path d="M1404.5,745.3 L1406.8,745.5 L1409.2,745.7 L1411.6,745.9 L1414.0,746.1 L1416.3,746.2 L1418.7,746.4 L1421.1,746.5 L1423.5,746.6 L1425.8,746.7 L1428.2,746.9 L1430.6,747.0 L1433.0,747.0 L1435.4,747.1 L1437.7,747.2 L1440.1,747.3 L1442.5,747.4 L1444.9,747.4 L1447.2,747.5 L1449.6,747.5 L1452.0,747.6 L1454.4,747.6 L1456.7,747.7 L1459.1,747.7 L1461.5,747.8 L1463.9,747.8 L1466.3,747.9 L1468.6,747.9 L1471.0,747.9 L1473.4,747.9 L1475.8,748.0 L1478.1,748.0 L1480.5,748.0 L1482.9,748.0 L1485.3,748.0 L1487.7,748.1 L1490.0,748.1 L1492.4,748.1 L1494.8,748.1 L1497.2,748.1 L1499.5,748.1 L1501.9,748.1 L1504.3,748.1 L1506.7,748.1 L1509.0,748.1 L1511.4,748.1 L1513.8,748.0 L1516.2,748.0 L1518.6,748.0 L1520.9,748.0 L1523.3,748.0 L1525.7,748.0 L1528.1,748.0 L1530.4,747.9 L1532.8,747.9 L1535.2,747.9 L1537.6,747.9 L1539.9,747.8 L1542.3,747.8 L1544.7,747.7 L1547.1,747.7 L1549.5,747.6 L1551.8,747.6 L1554.2,747.5 L1556.6,747.4 L1559.0,747.3 L1561.3,747.1 L1563.7,746.9 L1566.1,746.7 L1568.5,746.4 L1570.9,746.1 L1573.2,745.6 L1575.6,745.1 L1578.0,744.4 L1580.4,743.6 L1582.7,742.6 L1585.1,741.4 L1587.5,740.1 L1589.9,738.4 L1592.2,736.5 L1594.6,734.4 L1597.0,731.9 L1599.4,729.0 L1601.8,725.9 L1604.1,722.3 L1606.5,718.5 L1608.9,714.2 L1611.3,709.6 L1613.6,704.7 L1616.0,699.5 L1618.4,694.0 L1620.8,688.3 L1623.2,682.3 L1625.5,676.2 L1627.9,670.0 L1630.3,663.6 L1632.7,657.3 L1635.0,650.9 L1637.4,644.6 L1639.8,638.3 L1642.2,632.2 L1644.5,626.2 L1646.9,620.4 L1649.3,614.8 L1651.7,609.3 L1654.1,604.1 L1656.4,599.4 L1658.8,594.8 L1661.2,590.3 L1663.6,585.8 L1665.9,581.4 L1668.3,577.2 L1670.7,573.2 L1673.1,569.6 L1675.4,566.2 L1677.8,563.1 L1680.2,560.3 L1682.6,557.7 L1685.0,555.3 L1687.3,553.1 L1689.7,551.1 L1692.1,549.3 L1694.5,547.7 L1696.8,546.2 L1699.2,544.9 L1701.6,543.6 L1704.0,542.5 L1706.4,541.4 L1708.7,540.5 L1711.1,539.6 L1713.5,538.8 L1715.9,538.1 L1718.2,537.5 L1720.6,536.9 L1723.0,536.5 L1725.4,536.0 L1727.7,535.7 L1730.1,535.4 L1732.5,535.1 L1734.9,534.9 L1737.3,534.7 L1739.6,534.5 L1742.0,534.3 L1744.4,534.2 L1746.8,534.1 L1749.1,534.1 L1751.5,534.1 L1753.9,534.1 L1756.3,534.1 L1758.7,534.0" fill="none" stroke="#26B18B" stroke-opacity="0.8" stroke-width="3.0" stroke-linejoin="round"/>
<path d="M1404.5,745.3 L1406.8,745.5 L1409.2,745.7 L1411.6,745.9 L1414.0,746.1 L1416.3,746.2 L1418.7,746.4 L1421.1,746.5 L1423.5,746.6 L1425.8,746.7 L1428.2,746.9 L1430.6,747.0 L1433.0,747.0 L1435.4,747.1 L1437.7,747.2 L1440.1,747.3 L1442.5,747.4 L1444.9,747.4 L1447.2,747.5 L1449.6,747.5 L1452.0,747.6 L1454.4,747.6 L1456.7,747.7 L1459.1,747.7 L1461.5,747.8 L1463.9,747.8 L1466.3,747.9 L1468.6,747.9 L1471.0,747.9 L1473.4,747.9 L1475.8,748.0 L1478.1,748.0 L1480.5,748.0 L1482.9,748.0 L1485.3,748.0 L1487.7,748.1 L1490.0,748.1 L1492.4,748.1 L1494.8,748.1 L1497.2,748.1 L1499.5,748.1 L1501.9,748.1 L1504.3,748.1 L1506.7,748.1 L1509.0,748.1 L1511.4,748.1 L1513.8,748.0 L1516.2,748.0 L1518.6,748.0 L1520.9,748.0 L1523.3,748.0 L1525.7,748.0 L1528.1,747.9 L1530.4,747.9 L1532.8,747.9 L1535.2,747.9 L1537.6,747.8 L1539.9,747.8 L1542.3,747.8 L1544.7,747.7 L1547.1,747.7 L1549.5,747.6 L1551.8,747.6 L1554.2,747.5 L1556.6,747.4 L1559.0,747.3 L1561.3,747.1 L1563.7,746.9 L1566.1,746.7 L1568.5,746.5 L1570.9,746.1 L1573.2,745.7 L1575.6,745.2 L1578.0,744.6 L1580.4,743.8 L1582.7,742.9 L1585.1,741.9 L1587.5,740.6 L1589.9,739.1 L1592.2,737.3 L1594.6,735.3 L1597.0,733.0 L1599.4,730.3 L1601.8,727.3 L1604.1,724.0 L1606.5,720.3 L1608.9,716.3 L1611.3,711.9 L1613.6,707.1 L1616.0,702.1 L1618.4,696.7 L1620.8,691.1 L1623.2,685.2 L1625.5,679.1 L1627.9,672.9 L1630.3,666.6 L1632.7,660.2 L1635.0,653.8 L1637.4,647.5 L1639.8,641.1 L1642.2,634.9 L1644.5,628.8 L1646.9,622.9 L1649.3,617.2 L1651.7,611.6 L1654.1,606.3 L1656.4,601.5 L1658.8,596.8 L1661.2,592.2 L1663.6,587.7 L1665.9,583.3 L1668.3,578.9 L1670.7,574.8 L1673.1,571.1 L1675.4,567.6 L1677.8,564.5 L1680.2,561.6 L1682.6,558.9 L1685.0,556.5 L1687.3,554.3 L1689.7,552.3 L1692.1,550.5 L1694.5,548.9 L1696.8,547.4 L1699.2,546.1 L1701.6,544.9 L1704.0,543.8 L1706.4,542.7 L1708.7,541.8 L1711.1,541.0 L1713.5,540.2 L1715.9,539.6 L1718.2,539.0 L1720.6,538.5 L1723.0,538.1 L1725.4,537.7 L1727.7,537.4 L1730.1,537.1 L1732.5,536.8 L1734.9,536.6 L1737.3,536.4 L1739.6,536.2 L1742.0,536.1 L1744.4,535.9 L1746.8,535.8 L1749.1,535.8 L1751.5,535.8 L1753.9,535.8 L1756.3,535.8 L1758.7,535.7" fill="none" stroke="#26B18B" stroke-opacity="0.8" stroke-width="3.0" stroke-linejoin="round"/>
<path d="M1404.5,745.3 L1406.8,745.5 L1409.2,745.7 L1411.6,745.9 L1414.0,746.1 L1416.3,746.2 L1418.7,746.4 L1421.1,746.5 L1423.5,746.6 L1425.8,746.7 L1428.2,746.9 L1430.6,747.0 L1433.0,747.0 L1435.4,747.1 L1437.7,747.2 L1440.1,747.3 L1442.5,747.4 L1444.9,747.4 L1447.2,747.5 L1449.6,747.5 L1452.0,747.6 L1454.4,747.6 L1456.7,747.7 L1459.1,747.7 L1461.5,747.8 L1463.9,747.8 L1466.3,747.9 L1468.6,747.9 L1471.0,747.9 L1473.4,747.9 L1475.8,748.0 L1478.1,748.0 L1480.5,748.0 L1482.9,748.0 L1485.3,748.0 L1487.7,748.1 L1490.0,748.1 L1492.4,748.1 L1494.8,748.1 L1497.2,748.1 L1499.5,748.1 L1501.9,748.1 L1504.3,748.1 L1506.7,748.1 L1509.0,748.1 L1511.4,748.1 L1513.8,748.0 L1516.2,748.0 L1518.6,748.0 L1520.9,748.0 L1523.3,748.0 L1525.7,748.0 L1528.1,747.9 L1530.4,747.9 L1532.8,747.9 L1535.2,747.9 L1537.6,747.8 L1539.9,747.8 L1542.3,747.8 L1544.7,747.7 L1547.1,747.7 L1549.5,747.6 L1551.8,747.6 L1554.2,747.5 L1556.6,747.4 L1559.0,747.3 L1561.3,747.1 L1563.7,746.9 L1566.1,746.7 L1568.5,746.4 L1570.9,746.1 L1573.2,745.7 L1575.6,745.1 L1578.0,744.5 L1580.4,743.7 L1582.7,742.8 L1585.1,741.7 L1587.5,740.3 L1589.9,738.8 L1592.2,736.9 L1594.6,734.8 L1597.0,732.4 L1599.4,729.7 L1601.8,726.6 L1604.1,723.1 L1606.5,719.3 L1608.9,715.2 L1611.3,710.7 L1613.6,705.8 L1616.0,700.6 L1618.4,695.2 L1620.8,689.5 L1623.2,683.6 L1625.5,677.4 L1627.9,671.2 L1630.3,664.9 L1632.7,658.5 L1635.0,652.1 L1637.4,645.8 L1639.8,639.6 L1642.2,633.4 L1644.5,627.4 L1646.9,621.6 L1649.3,616.0 L1651.7,610.6 L1654.1,605.4 L1656.4,600.7 L1658.8,596.1 L1661.2,591.6 L1663.6,587.2 L1665.9,582.9 L1668.3,578.7 L1670.7,574.8 L1673.1,571.2 L1675.4,567.8 L1677.8,564.8 L1680.2,562.0 L1682.6,559.5 L1685.0,557.1 L1687.3,555.0 L1689.7,553.1 L1692.1,551.4 L1694.5,549.9 L1696.8,548.5 L1699.2,547.2 L1701.6,546.1 L1704.0,545.0 L1706.4,544.0 L1708.7,543.2 L1711.1,542.4 L1713.5,541.7 L1715.9,541.1 L1718.2,540.6 L1720.6,540.1 L1723.0,539.7 L1725.4,539.3 L1727.7,539.0 L1730.1,538.8 L1732.5,538.5 L1734.9,538.3 L1737.3,538.1 L1739.6,537.9 L1742.0,537.8 L1744.4,537.6 L1746.8,537.5 L1749.1,537.5 L1751.5,537.5 L1753.9,537.5 L1756.3,537.5 L1758.7,537.4" fill="none" stroke="#26B18B" stroke-opacity="0.8" stroke-width="3.0" stroke-linejoin="round"/>
<path d="M1404.5,747.0 L1406.8,747.0 L1409.2,747.1 L1411.6,747.2 L1414.0,747.2 L1416.3,747.3 L1418.7,747.3 L1421.1,747.4 L1423.5,747.4 L1425.8,747.5 L1428.2,747.5 L1430.6,747.5 L1433.0,747.6 L1435.4,747.6 L1437.7,747.6 L1440.1,747.7 L1442.5,747.7 L1444.9,747.7 L1447.2,747.8 L1449.6,747.8 L1452.0,747.8 L1454.4,747.9 L1456.7,747.9 L1459.1,747.9 L1461.5,747.9 L1463.9,748.0 L1466.3,748.0 L1468.6,748.0 L1471.0,748.0 L1473.4,748.0 L1475.8,748.0 L1478.1,748.0 L1480.5,748.1 L1482.9,748.1 L1485.3,748.1 L1487.7,748.1 L1490.0,748.1 L1492.4,748.0 L1494.8,748.0 L1497.2,748.0 L1499.5,748.0 L1501.9,747.9 L1504.3,747.9 L1506.7,747.9 L1509.0,747.8 L1511.4,747.7 L1513.8,747.7 L1516.2,747.6 L1518.6,747.5 L1520.9,747.3 L1523.3,747.2 L1525.7,747.0 L1528.1,746.8 L1530.4,746.6 L1532.8,746.3 L1535.2,746.0 L1537.6,745.7 L1539.9,745.3 L1542.3,744.8 L1544.7,744.2 L1547.1,743.5 L1549.5,742.8 L1551.8,741.9 L1554.2,740.9 L1556.6,739.8 L1559.0,738.4 L1561.3,736.9 L1563.7,735.2 L1566.1,733.3 L1568.5,731.1 L1570.9,728.7 L1573.2,726.0 L1575.6,723.0 L1578.0,719.7 L1580.4,716.1 L1582.7,712.2 L1585.1,707.9 L1587.5,703.3 L1589.9,698.4 L1592.2,693.3 L1594.6,687.8 L1597.0,682.0 L1599.4,676.1 L1601.8,669.9 L1604.1,663.6 L1606.5,657.2 L1608.9,650.7 L1611.3,644.2 L1613.6,637.6 L1616.0,631.2 L1618.4,624.8 L1620.8,618.5 L1623.2,612.4 L1625.5,606.5 L1627.9,601.1 L1630.3,595.7 L1632.7,590.4 L1635.0,585.1 L1637.4,579.9 L1639.8,574.9 L1642.2,570.2 L1644.5,566.0 L1646.9,562.2 L1649.3,558.7 L1651.7,555.4 L1654.1,552.4 L1656.4,549.6 L1658.8,547.1 L1661.2,544.8 L1663.6,542.6 L1665.9,540.7 L1668.3,538.9 L1670.7,537.2 L1673.1,535.7 L1675.4,534.4 L1677.8,533.1 L1680.2,531.9 L1682.6,530.9 L1685.0,529.9 L1687.3,529.0 L1689.7,528.2 L1692.1,527.5 L1694.5,526.9 L1696.8,526.4 L1699.2,525.9 L1701.6,525.5 L1704.0,525.2 L1706.4,524.9 L1708.7,524.7 L1711.1,524.5 L1713.5,524.3 L1715.9,524.1 L1718.2,524.0 L1720.6,523.9 L1723.0,523.8 L1725.4,523.8 L1727.7,523.7 L1730.1,523.7 L1732.5,523.7 L1734.9,523.7 L1737.3,523.6 L1739.6,523.6 L1742.0,523.6 L1744.4,523.6 L1746.8,523.6 L1749.1,523.6 L1751.5,523.6 L1753.9,523.6 L1756.3,523.6 L1758.7,523.6" fill="none" stroke="#E7298A" stroke-opacity="0.8" stroke-width="3.0" stroke-linejoin="round"/>
<path d="M1404.5,747.0 L1406.8,747.0 L1409.2,747.1 L1411.6,747.2 L1414.0,747.2 L1416.3,747.3 L1418.7,747.3 L1421.1,747.4 L1423.5,747.4 L1425.8,747.5 L1428.2,747.5 L1430.6,747.5 L1433.0,747.6 L1435.4,747.6 L1437.7,747.6 L1440.1,747.7 L1442.5,747.7 L1444.9,747.7 L1447.2,747.8 L1449.6,747.8 L1452.0,747.8 L1454.4,747.9 L1456.7,747.9 L1459.1,747.9 L1461.5,747.9 L1463.9,748.0 L1466.3,748.0 L1468.6,748.0 L1471.0,748.0 L1473.4,748.0 L1475.8,748.0 L1478.1,748.0 L1480.5,748.1 L1482.9,748.1 L1485.3,748.1 L1487.7,748.1 L1490.0,748.0 L1492.4,748.0 L1494.8,748.0 L1497.2,748.0 L1499.5,748.0 L1501.9,747.9 L1504.3,747.9 L1506.7,747.9 L1509.0,747.8 L1511.4,747.7 L1513.8,747.7 L1516.2,747.6 L1518.6,747.5 L1520.9,747.4 L1523.3,747.2 L1525.7,747.0 L1528.1,746.9 L1530.4,746.6 L1532.8,746.4 L1535.2,746.1 L1537.6,745.7 L1539.9,745.3 L1542.3,744.9 L1544.7,744.3 L1547.1,743.7 L1549.5,743.0 L1551.8,742.1 L1554.2,741.2 L1556.6,740.1 L1559.0,738.8 L1561.3,737.4 L1563.7,735.8 L1566.1,733.9 L1568.5,731.9 L1570.9,729.6 L1573.2,727.0 L1575.6,724.1 L1578.0,720.9 L1580.4,717.4 L1582.7,713.6 L1585.1,709.4 L1587.5,705.0 L1589.9,700.2 L1592.2,695.1 L1594.6,689.7 L1597.0,684.0 L1599.4,678.1 L1601.8,672.0 L1604.1,665.8 L1606.5,659.3 L1608.9,652.8 L1611.3,646.3 L1613.6,639.8 L1616.0,633.3 L1618.4,626.8 L1620.8,620.5 L1623.2,614.4 L1625.5,608.4 L1627.9,603.0 L1630.3,597.6 L1632.7,592.3 L1635.0,586.9 L1637.4,581.7 L1639.8,576.7 L1642.2,571.9 L1644.5,567.7 L1646.9,563.8 L1649.3,560.3 L1651.7,557.0 L1654.1,554.0 L1656.4,551.3 L1658.8,548.8 L1661.2,546.4 L1663.6,544.3 L1665.9,542.4 L1668.3,540.7 L1670.7,539.1 L1673.1,537.7 L1675.4,536.3 L1677.8,535.1 L1680.2,534.0 L1682.6,533.0 L1685.0,532.2 L1687.3,531.3 L1689.7,530.6 L1692.1,530.0 L1694.5,529.5 L1696.8,529.0 L1699.2,528.6 L1701.6,528.2 L1704.0,527.9 L1706.4,527.6 L1708.7,527.4 L1711.1,527.2 L1713.5,527.0 L1715.9,526.8 L1718.2,526.7 L1720.6,526.6 L1723.0,526.6 L1725.4,526.5 L1727.7,526.4 L1730.1,526.4 L1732.5,526.4 L1734.9,526.4 L1737.3,526.3 L1739.6,526.3 L1742.0,526.3 L1744.4,526.3 L1746.8,526.3 L1749.1,526.3 L1751.5,526.3 L1753.9,526.3 L1756.3,526.3 L1758.7,526.3" fill="none" stroke="#E7298A" stroke-opacity="0.8" stroke-width="3.0" stroke-linejoin="round"/>
<path d="M1404.5,747.0 L1406.8,747.0 L1409.2,747.1 L1411.6,747.2 L1414.0,747.2 L1416.3,747.3 L1418.7,747.3 L1421.1,747.4 L1423.5,747.4 L1425.8,747.5 L1428.2,747.5 L1430.6,747.5 L1433.0,747.6 L1435.4,747.6 L1437.7,747.6 L1440.1,747.7 L1442.5,747.7 L1444.9,747.7 L1447.2,747.8 L1449.6,747.8 L1452.0,747.8 L1454.4,747.9 L1456.7,747.9 L1459.1,747.9 L1461.5,747.9 L1463.9,748.0 L1466.3,748.0 L1468.6,748.0 L1471.0,748.0 L1473.4,748.0 L1475.8,748.0 L1478.1,748.0 L1480.5,748.1 L1482.9,748.1 L1485.3,748.1 L1487.7,748.1 L1490.0,748.0 L1492.4,748.0 L1494.8,748.0 L1497.2,748.0 L1499.5,748.0 L1501.9,747.9 L1504.3,747.9 L1506.7,747.9 L1509.0,747.8 L1511.4,747.7 L1513.8,747.7 L1516.2,747.6 L1518.6,747.5 L1520.9,747.4 L1523.3,747.2 L1525.7,747.1 L1528.1,746.9 L1530.4,746.7 L1532.8,746.4 L1535.2,746.1 L1537.6,745.8 L1539.9,745.4 L1542.3,745.0 L1544.7,744.4 L1547.1,743.8 L1549.5,743.1 L1551.8,742.4 L1554.2,741.4 L1556.6,740.4 L1559.0,739.2 L1561.3,737.8 L1563.7,736.3 L1566.1,734.5 L1568.5,732.6 L1570.9,730.3 L1573.2,727.8 L1575.6,725.1 L1578.0,722.0 L1580.4,718.6 L1582.7,714.9 L1585.1,710.9 L1587.5,706.6 L1589.9,701.9 L1592.2,696.9 L1594.6,691.6 L1597.0,686.0 L1599.4,680.2 L1601.8,674.1 L1604.1,667.9 L1606.5,661.5 L1608.9,655.0 L1611.3,648.5 L1613.6,641.9 L1616.0,635.4 L1618.4,628.9 L1620.8,622.6 L1623.2,616.4 L1625.5,610.3 L1627.9,604.9 L1630.3,599.5 L1632.7,594.2 L1635.0,588.8 L1637.4,583.6 L1639.8,578.5 L1642.2,573.6 L1644.5,569.4 L1646.9,565.5 L1649.3,561.9 L1651.7,558.6 L1654.1,555.6 L1656.4,552.9 L1658.8,550.4 L1661.2,548.1 L1663.6,546.1 L1665.9,544.2 L1668.3,542.5 L1670.7,540.9 L1673.1,539.6 L1675.4,538.3 L1677.8,537.2 L1680.2,536.1 L1682.6,535.2 L1685.0,534.4 L1687.3,533.7 L1689.7,533.0 L1692.1,532.5 L1694.5,532.0 L1696.8,531.6 L1699.2,531.2 L1701.6,530.9 L1704.0,530.6 L1706.4,530.3 L1708.7,530.1 L1711.1,529.9 L1713.5,529.7 L1715.9,529.6 L1718.2,529.4 L1720.6,529.3 L1723.0,529.3 L1725.4,529.2 L1727.7,529.1 L1730.1,529.1 L1732.5,529.1 L1734.9,529.1 L1737.3,529.0 L1739.6,529.0 L1742.0,529.0 L1744.4,529.0 L1746.8,529.0 L1749.1,529.0 L1751.5,529.0 L1753.9,529.0 L1756.3,529.1 L1758.7,529.0" fill="none" stroke="#E7298A" stroke-opacity="0.8" stroke-width="3.0" stroke-linejoin="round"/>
<text x="1818.3" y="165.8" font-size="32.4" font-weight="bold" fill="#000" text-anchor="start">Standard A</text>
<text x="1817.7" y="205.3" font-size="32.4" font-weight="bold" fill="#000" text-anchor="start">(3,964 cp/µl)</text>
<text x="1846.2" y="249.5" font-size="32" font-weight="normal" fill="#E6087F" text-anchor="start">1:1</text>
<text x="1846.2" y="299.1" font-size="32" font-weight="normal" fill="#2BC1F3" text-anchor="start">1:100</text>
<text x="1846.2" y="348.7" font-size="32" font-weight="normal" fill="#D0C96E" text-anchor="start">1:10000</text>
<text x="1846.2" y="398.3" font-size="32" font-weight="normal" fill="#1DB18C" text-anchor="start">1:1000000</text>
<text x="1818.3" y="525.8" font-size="32.4" font-weight="bold" fill="#000" text-anchor="start">Standard B</text>
<text x="1817.7" y="565.3" font-size="32.4" font-weight="bold" fill="#000" text-anchor="start">(4,221 cp/µl)</text>
<text x="1846.2" y="609.5" font-size="32" font-weight="normal" fill="#E6087F" text-anchor="start">1:1</text>
<text x="1846.2" y="659.1" font-size="32" font-weight="normal" fill="#2BC1F3" text-anchor="start">1:100</text>
<text x="1846.2" y="708.7" font-size="32" font-weight="normal" fill="#D0C96E" text-anchor="start">1:10000</text>
<text x="1846.2" y="758.3" font-size="32" font-weight="normal" fill="#1DB18C" text-anchor="start">1:1000000</text>
<text x="1818.3" y="1046.6" font-size="32.4" font-weight="bold" fill="#000" text-anchor="start">Standard A</text>
<text x="1817.7" y="1086.1" font-size="32.4" font-weight="bold" fill="#000" text-anchor="start">(3,964 cp/µl)</text>
<text x="1846.2" y="1130.3" font-size="32" font-weight="normal" fill="#E6087F" text-anchor="start">1:1</text>
<text x="1846.2" y="1179.9" font-size="32" font-weight="normal" fill="#2BC1F3" text-anchor="start">1:100</text>
<text x="1846.2" y="1229.5" font-size="32" font-weight="normal" fill="#D0C96E" text-anchor="start">1:10000</text>
<text x="1846.2" y="1279.1" font-size="32" font-weight="normal" fill="#1DB18C" text-anchor="start">1:1000000</text>
<text x="1818.3" y="1405.8" font-size="32.4" font-weight="bold" fill="#000" text-anchor="start">Standard B</text>
<text x="1817.7" y="1445.3" font-size="32.4" font-weight="bold" fill="#000" text-anchor="start">(4,221 cp/µl)</text>
<text x="1846.2" y="1489.5" font-size="32" font-weight="normal" fill="#E6087F" text-anchor="start">1:1</text>
<text x="1846.2" y="1539.1" font-size="32" font-weight="normal" fill="#2BC1F3" text-anchor="start">1:100</text>
<text x="1846.2" y="1588.7" font-size="32" font-weight="normal" fill="#D0C96E" text-anchor="start">1:10000</text>
<text x="1846.2" y="1638.3" font-size="32" font-weight="normal" fill="#1DB18C" text-anchor="start">1:1000000</text>
<text x="343.7" y="1005.3" font-size="36.5" font-weight="bold" fill="#3DB648" text-anchor="middle">N1</text>
<text x="758.0" y="1005.3" font-size="36.5" font-weight="bold" fill="#EE3420" text-anchor="middle">N3</text>
<text x="1170.3" y="1005.3" font-size="36.5" font-weight="bold" fill="#F89736" text-anchor="middle">N2</text>
<text x="1583.0" y="1005.3" font-size="36.5" font-weight="bold" fill="#83AEDF" text-anchor="middle">RP</text>
<line x1="145.6" y1="1013.7" x2="145.6" y2="1321.4" stroke="#000" stroke-width="3.5"/>
<line x1="135.6" y1="1077.5" x2="145.6" y2="1077.5" stroke="#000" stroke-width="3.3"/>
<text x="129.0" y="1087.1" font-size="33" font-weight="normal" fill="#000" text-anchor="end">35</text>
<line x1="135.6" y1="1163.3" x2="145.6" y2="1163.3" stroke="#000" stroke-width="3.3"/>
<text x="129.0" y="1172.9" font-size="33" font-weight="normal" fill="#000" text-anchor="end">30</text>
<line x1="135.6" y1="1249.2" x2="145.6" y2="1249.2" stroke="#000" stroke-width="3.3"/>
<text x="129.0" y="1258.8" font-size="33" font-weight="normal" fill="#000" text-anchor="end">25</text>
<line x1="145.6" y1="1333.0" x2="145.6" y2="1641.5" stroke="#000" stroke-width="3.5"/>
<line x1="135.6" y1="1397.6" x2="145.6" y2="1397.6" stroke="#000" stroke-width="3.3"/>
<text x="129.0" y="1407.2" font-size="33" font-weight="normal" fill="#000" text-anchor="end">35</text>
<line x1="135.6" y1="1483.3" x2="145.6" y2="1483.3" stroke="#000" stroke-width="3.3"/>
<text x="129.0" y="1492.9" font-size="33" font-weight="normal" fill="#000" text-anchor="end">30</text>
<line x1="135.6" y1="1569.1" x2="145.6" y2="1569.1" stroke="#000" stroke-width="3.3"/>
<text x="129.0" y="1578.7" font-size="33" font-weight="normal" fill="#000" text-anchor="end">25</text>
<line x1="143.9" y1="1639.9" x2="541.0" y2="1639.9" stroke="#000" stroke-width="3.3"/>
<line x1="201.4" y1="1639.9" x2="201.4" y2="1647.3" stroke="#000" stroke-width="3.3"/>
<text x="193.8" y="1675.6" font-size="33" font-weight="normal" fill="#000" text-anchor="middle">-6</text>
<line x1="295.2" y1="1639.9" x2="295.2" y2="1647.3" stroke="#000" stroke-width="3.3"/>
<text x="287.6" y="1675.6" font-size="33" font-weight="normal" fill="#000" text-anchor="middle">-4</text>
<line x1="389.0" y1="1639.9" x2="389.0" y2="1647.3" stroke="#000" stroke-width="3.3"/>
<text x="381.4" y="1675.6" font-size="33" font-weight="normal" fill="#000" text-anchor="middle">-2</text>
<line x1="482.8" y1="1639.9" x2="482.8" y2="1647.3" stroke="#000" stroke-width="3.3"/>
<text x="482.8" y="1675.6" font-size="33" font-weight="normal" fill="#000" text-anchor="middle">0</text>
<line x1="556.4" y1="1639.9" x2="953.5" y2="1639.9" stroke="#000" stroke-width="3.3"/>
<line x1="613.9" y1="1639.9" x2="613.9" y2="1647.3" stroke="#000" stroke-width="3.3"/>
<text x="606.3" y="1675.6" font-size="33" font-weight="normal" fill="#000" text-anchor="middle">-6</text>
<line x1="707.7" y1="1639.9" x2="707.7" y2="1647.3" stroke="#000" stroke-width="3.3"/>
<text x="700.1" y="1675.6" font-size="33" font-weight="normal" fill="#000" text-anchor="middle">-4</text>
<line x1="801.5" y1="1639.9" x2="801.5" y2="1647.3" stroke="#000" stroke-width="3.3"/>
<text x="793.9" y="1675.6" font-size="33" font-weight="normal" fill="#000" text-anchor="middle">-2</text>
<line x1="895.3" y1="1639.9" x2="895.3" y2="1647.3" stroke="#000" stroke-width="3.3"/>
<text x="895.3" y="1675.6" font-size="33" font-weight="normal" fill="#000" text-anchor="middle">0</text>
<line x1="968.9" y1="1639.9" x2="1366.0" y2="1639.9" stroke="#000" stroke-width="3.3"/>
<line x1="1026.4" y1="1639.9" x2="1026.4" y2="1647.3" stroke="#000" stroke-width="3.3"/>
<text x="1018.8" y="1675.6" font-size="33" font-weight="normal" fill="#000" text-anchor="middle">-6</text>
<line x1="1120.2" y1="1639.9" x2="1120.2" y2="1647.3" stroke="#000" stroke-width="3.3"/>
<text x="1112.6" y="1675.6" font-size="33" font-weight="normal" fill="#000" text-anchor="middle">-4</text>
<line x1="1214.0" y1="1639.9" x2="1214.0" y2="1647.3" stroke="#000" stroke-width="3.3"/>
<text x="1206.4" y="1675.6" font-size="33" font-weight="normal" fill="#000" text-anchor="middle">-2</text>
<line x1="1307.8" y1="1639.9" x2="1307.8" y2="1647.3" stroke="#000" stroke-width="3.3"/>
<text x="1307.8" y="1675.6" font-size="33" font-weight="normal" fill="#000" text-anchor="middle">0</text>
<line x1="1381.3" y1="1639.9" x2="1778.4" y2="1639.9" stroke="#000" stroke-width="3.3"/>
<line x1="1438.8" y1="1639.9" x2="1438.8" y2="1647.3" stroke="#000" stroke-width="3.3"/>
<text x="1431.2" y="1675.6" font-size="33" font-weight="normal" fill="#000" text-anchor="middle">-6</text>
<line x1="1532.6" y1="1639.9" x2="1532.6" y2="1647.3" stroke="#000" stroke-width="3.3"/>
<text x="1525.0" y="1675.6" font-size="33" font-weight="normal" fill="#000" text-anchor="middle">-4</text>
<line x1="1626.4" y1="1639.9" x2="1626.4" y2="1647.3" stroke="#000" stroke-width="3.3"/>
<text x="1618.8" y="1675.6" font-size="33" font-weight="normal" fill="#000" text-anchor="middle">-2</text>
<line x1="1720.2" y1="1639.9" x2="1720.2" y2="1647.3" stroke="#000" stroke-width="3.3"/>
<text x="1720.2" y="1675.6" font-size="33" font-weight="normal" fill="#000" text-anchor="middle">0</text>
<text x="967.5" y="1713.6" font-size="36.8" font-weight="bold" fill="#000" text-anchor="middle">Dilution (Log10)</text>
<text transform="translate(61.6,1322.4) rotate(-90)" font-size="36.8" font-weight="bold" text-anchor="middle">Ct</text>
<rect x="260.1" y="1081.9" width="70.2" height="16.3" fill="none" stroke="#C4BC4A" stroke-opacity="0.8" stroke-width="3"/>
<line x1="260.1" y1="1092.6" x2="330.3" y2="1092.6" stroke="#C4BC4A" stroke-opacity="0.8" stroke-width="3.2"/>
<line x1="295.2" y1="1081.9" x2="295.2" y2="1072.0" stroke="#C4BC4A" stroke-opacity="0.8" stroke-width="3"/>
<line x1="295.2" y1="1098.2" x2="295.2" y2="1103.8" stroke="#C4BC4A" stroke-opacity="0.8" stroke-width="3"/>
<ellipse cx="295.2" cy="1072.0" rx="7.9" ry="6.9" fill="none" stroke="#C4BC4A" stroke-opacity="0.75" stroke-width="2.8"/>
<ellipse cx="295.2" cy="1103.8" rx="7.9" ry="6.9" fill="none" stroke="#C4BC4A" stroke-opacity="0.75" stroke-width="2.8"/>
<line x1="352.2" y1="1193.2" x2="425.8" y2="1193.2" stroke="#45C3EE" stroke-opacity="0.85" stroke-width="4.3"/>
<ellipse cx="387.8" cy="1192.2" rx="7.2" ry="6.9" fill="none" stroke="#45C3EE" stroke-opacity="0.75" stroke-width="3.1"/>
<ellipse cx="389.3" cy="1194.3" rx="7.2" ry="6.9" fill="none" stroke="#45C3EE" stroke-opacity="0.75" stroke-width="3.1"/>
<ellipse cx="390.1" cy="1193.0" rx="7.2" ry="6.9" fill="none" stroke="#45C3EE" stroke-opacity="0.75" stroke-width="3.1"/>
<line x1="446.0" y1="1305.0" x2="519.6" y2="1305.0" stroke="#E7298A" stroke-opacity="0.85" stroke-width="4.3"/>
<ellipse cx="481.6" cy="1304.0" rx="7.2" ry="6.9" fill="none" stroke="#E7298A" stroke-opacity="0.75" stroke-width="3.1"/>
<ellipse cx="483.1" cy="1306.1" rx="7.2" ry="6.9" fill="none" stroke="#E7298A" stroke-opacity="0.75" stroke-width="3.1"/>
<ellipse cx="483.9" cy="1304.8" rx="7.2" ry="6.9" fill="none" stroke="#E7298A" stroke-opacity="0.75" stroke-width="3.1"/>
<line x1="670.9" y1="1040.7" x2="744.5" y2="1040.7" stroke="#C4BC4A" stroke-opacity="0.85" stroke-width="4.3"/>
<ellipse cx="706.5" cy="1039.7" rx="7.2" ry="6.9" fill="none" stroke="#C4BC4A" stroke-opacity="0.75" stroke-width="3.1"/>
<ellipse cx="708.0" cy="1041.8" rx="7.2" ry="6.9" fill="none" stroke="#C4BC4A" stroke-opacity="0.75" stroke-width="3.1"/>
<ellipse cx="708.8" cy="1040.5" rx="7.2" ry="6.9" fill="none" stroke="#C4BC4A" stroke-opacity="0.75" stroke-width="3.1"/>
<line x1="764.7" y1="1140.6" x2="838.3" y2="1140.6" stroke="#45C3EE" stroke-opacity="0.85" stroke-width="4.3"/>
<ellipse cx="800.3" cy="1139.6" rx="7.2" ry="6.9" fill="none" stroke="#45C3EE" stroke-opacity="0.75" stroke-width="3.1"/>
<ellipse cx="801.8" cy="1141.7" rx="7.2" ry="6.9" fill="none" stroke="#45C3EE" stroke-opacity="0.75" stroke-width="3.1"/>
<ellipse cx="802.6" cy="1140.4" rx="7.2" ry="6.9" fill="none" stroke="#45C3EE" stroke-opacity="0.75" stroke-width="3.1"/>
<line x1="858.5" y1="1248.5" x2="932.1" y2="1248.5" stroke="#E7298A" stroke-opacity="0.85" stroke-width="4.3"/>
<ellipse cx="894.1" cy="1247.5" rx="7.2" ry="6.9" fill="none" stroke="#E7298A" stroke-opacity="0.75" stroke-width="3.1"/>
<ellipse cx="895.6" cy="1249.6" rx="7.2" ry="6.9" fill="none" stroke="#E7298A" stroke-opacity="0.75" stroke-width="3.1"/>
<ellipse cx="896.4" cy="1248.3" rx="7.2" ry="6.9" fill="none" stroke="#E7298A" stroke-opacity="0.75" stroke-width="3.1"/>
<line x1="1402.0" y1="1236.0" x2="1475.6" y2="1236.0" stroke="#26B18B" stroke-opacity="0.85" stroke-width="4.3"/>
<ellipse cx="1437.6" cy="1235.0" rx="7.2" ry="6.9" fill="none" stroke="#26B18B" stroke-opacity="0.75" stroke-width="3.1"/>
<ellipse cx="1439.1" cy="1237.1" rx="7.2" ry="6.9" fill="none" stroke="#26B18B" stroke-opacity="0.75" stroke-width="3.1"/>
<ellipse cx="1439.9" cy="1235.8" rx="7.2" ry="6.9" fill="none" stroke="#26B18B" stroke-opacity="0.75" stroke-width="3.1"/>
<line x1="1495.8" y1="1250.7" x2="1569.4" y2="1250.7" stroke="#C4BC4A" stroke-opacity="0.85" stroke-width="4.3"/>
<ellipse cx="1531.4" cy="1249.7" rx="7.2" ry="6.9" fill="none" stroke="#C4BC4A" stroke-opacity="0.75" stroke-width="3.1"/>
<ellipse cx="1532.9" cy="1251.8" rx="7.2" ry="6.9" fill="none" stroke="#C4BC4A" stroke-opacity="0.75" stroke-width="3.1"/>
<ellipse cx="1533.7" cy="1250.5" rx="7.2" ry="6.9" fill="none" stroke="#C4BC4A" stroke-opacity="0.75" stroke-width="3.1"/>
<line x1="1589.6" y1="1241.0" x2="1663.2" y2="1241.0" stroke="#45C3EE" stroke-opacity="0.85" stroke-width="4.3"/>
<ellipse cx="1625.2" cy="1240.0" rx="7.2" ry="6.9" fill="none" stroke="#45C3EE" stroke-opacity="0.75" stroke-width="3.1"/>
<ellipse cx="1626.7" cy="1242.1" rx="7.2" ry="6.9" fill="none" stroke="#45C3EE" stroke-opacity="0.75" stroke-width="3.1"/>
<ellipse cx="1627.5" cy="1240.8" rx="7.2" ry="6.9" fill="none" stroke="#45C3EE" stroke-opacity="0.75" stroke-width="3.1"/>
<line x1="1683.4" y1="1240.0" x2="1757.0" y2="1240.0" stroke="#E7298A" stroke-opacity="0.85" stroke-width="4.3"/>
<ellipse cx="1719.0" cy="1239.0" rx="7.2" ry="6.9" fill="none" stroke="#E7298A" stroke-opacity="0.75" stroke-width="3.1"/>
<ellipse cx="1720.5" cy="1241.1" rx="7.2" ry="6.9" fill="none" stroke="#E7298A" stroke-opacity="0.75" stroke-width="3.1"/>
<ellipse cx="1721.3" cy="1239.8" rx="7.2" ry="6.9" fill="none" stroke="#E7298A" stroke-opacity="0.75" stroke-width="3.1"/>
<rect x="1085.1" y="1356.4" width="70.2" height="13.0" fill="none" stroke="#C4BC4A" stroke-opacity="0.8" stroke-width="3"/>
<line x1="1085.1" y1="1362.6" x2="1155.3" y2="1362.6" stroke="#C4BC4A" stroke-opacity="0.8" stroke-width="3.2"/>
<line x1="1120.2" y1="1356.4" x2="1120.2" y2="1349.6" stroke="#C4BC4A" stroke-opacity="0.8" stroke-width="3"/>
<line x1="1120.2" y1="1369.4" x2="1120.2" y2="1375.7" stroke="#C4BC4A" stroke-opacity="0.8" stroke-width="3"/>
<ellipse cx="1120.2" cy="1349.6" rx="7.9" ry="6.9" fill="none" stroke="#C4BC4A" stroke-opacity="0.75" stroke-width="2.8"/>
<ellipse cx="1120.2" cy="1375.7" rx="7.9" ry="6.9" fill="none" stroke="#C4BC4A" stroke-opacity="0.75" stroke-width="2.8"/>
<line x1="1177.2" y1="1483.8" x2="1250.8" y2="1483.8" stroke="#45C3EE" stroke-opacity="0.85" stroke-width="4.3"/>
<ellipse cx="1212.8" cy="1482.8" rx="7.2" ry="6.9" fill="none" stroke="#45C3EE" stroke-opacity="0.75" stroke-width="3.1"/>
<ellipse cx="1214.3" cy="1484.9" rx="7.2" ry="6.9" fill="none" stroke="#45C3EE" stroke-opacity="0.75" stroke-width="3.1"/>
<ellipse cx="1215.1" cy="1483.6" rx="7.2" ry="6.9" fill="none" stroke="#45C3EE" stroke-opacity="0.75" stroke-width="3.1"/>
<line x1="1271.0" y1="1606.4" x2="1344.6" y2="1606.4" stroke="#E7298A" stroke-opacity="0.85" stroke-width="4.3"/>
<ellipse cx="1306.6" cy="1605.4" rx="7.2" ry="6.9" fill="none" stroke="#E7298A" stroke-opacity="0.75" stroke-width="3.1"/>
<ellipse cx="1308.1" cy="1607.5" rx="7.2" ry="6.9" fill="none" stroke="#E7298A" stroke-opacity="0.75" stroke-width="3.1"/>
<ellipse cx="1308.9" cy="1606.2" rx="7.2" ry="6.9" fill="none" stroke="#E7298A" stroke-opacity="0.75" stroke-width="3.1"/>
<line x1="1402.0" y1="1556.8" x2="1475.6" y2="1556.8" stroke="#26B18B" stroke-opacity="0.85" stroke-width="4.3"/>
<ellipse cx="1437.6" cy="1555.8" rx="7.2" ry="6.9" fill="none" stroke="#26B18B" stroke-opacity="0.75" stroke-width="3.1"/>
<ellipse cx="1439.1" cy="1557.9" rx="7.2" ry="6.9" fill="none" stroke="#26B18B" stroke-opacity="0.75" stroke-width="3.1"/>
<ellipse cx="1439.9" cy="1556.6" rx="7.2" ry="6.9" fill="none" stroke="#26B18B" stroke-opacity="0.75" stroke-width="3.1"/>
<line x1="1495.8" y1="1567.5" x2="1569.4" y2="1567.5" stroke="#C4BC4A" stroke-opacity="0.85" stroke-width="4.3"/>
<ellipse cx="1531.4" cy="1566.5" rx="7.2" ry="6.9" fill="none" stroke="#C4BC4A" stroke-opacity="0.75" stroke-width="3.1"/>
<ellipse cx="1532.9" cy="1568.6" rx="7.2" ry="6.9" fill="none" stroke="#C4BC4A" stroke-opacity="0.75" stroke-width="3.1"/>
<ellipse cx="1533.7" cy="1567.3" rx="7.2" ry="6.9" fill="none" stroke="#C4BC4A" stroke-opacity="0.75" stroke-width="3.1"/>
<line x1="1589.6" y1="1568.5" x2="1663.2" y2="1568.5" stroke="#45C3EE" stroke-opacity="0.85" stroke-width="4.3"/>
<ellipse cx="1625.2" cy="1567.5" rx="7.2" ry="6.9" fill="none" stroke="#45C3EE" stroke-opacity="0.75" stroke-width="3.1"/>
<ellipse cx="1626.7" cy="1569.6" rx="7.2" ry="6.9" fill="none" stroke="#45C3EE" stroke-opacity="0.75" stroke-width="3.1"/>
<ellipse cx="1627.5" cy="1568.3" rx="7.2" ry="6.9" fill="none" stroke="#45C3EE" stroke-opacity="0.75" stroke-width="3.1"/>
<line x1="1683.4" y1="1623.1" x2="1757.0" y2="1623.1" stroke="#E7298A" stroke-opacity="0.85" stroke-width="4.3"/>
<ellipse cx="1719.0" cy="1622.1" rx="7.2" ry="6.9" fill="none" stroke="#E7298A" stroke-opacity="0.75" stroke-width="3.1"/>
<ellipse cx="1720.5" cy="1624.2" rx="7.2" ry="6.9" fill="none" stroke="#E7298A" stroke-opacity="0.75" stroke-width="3.1"/>
<ellipse cx="1721.3" cy="1622.9" rx="7.2" ry="6.9" fill="none" stroke="#E7298A" stroke-opacity="0.75" stroke-width="3.1"/>
</svg>
</body></html>
